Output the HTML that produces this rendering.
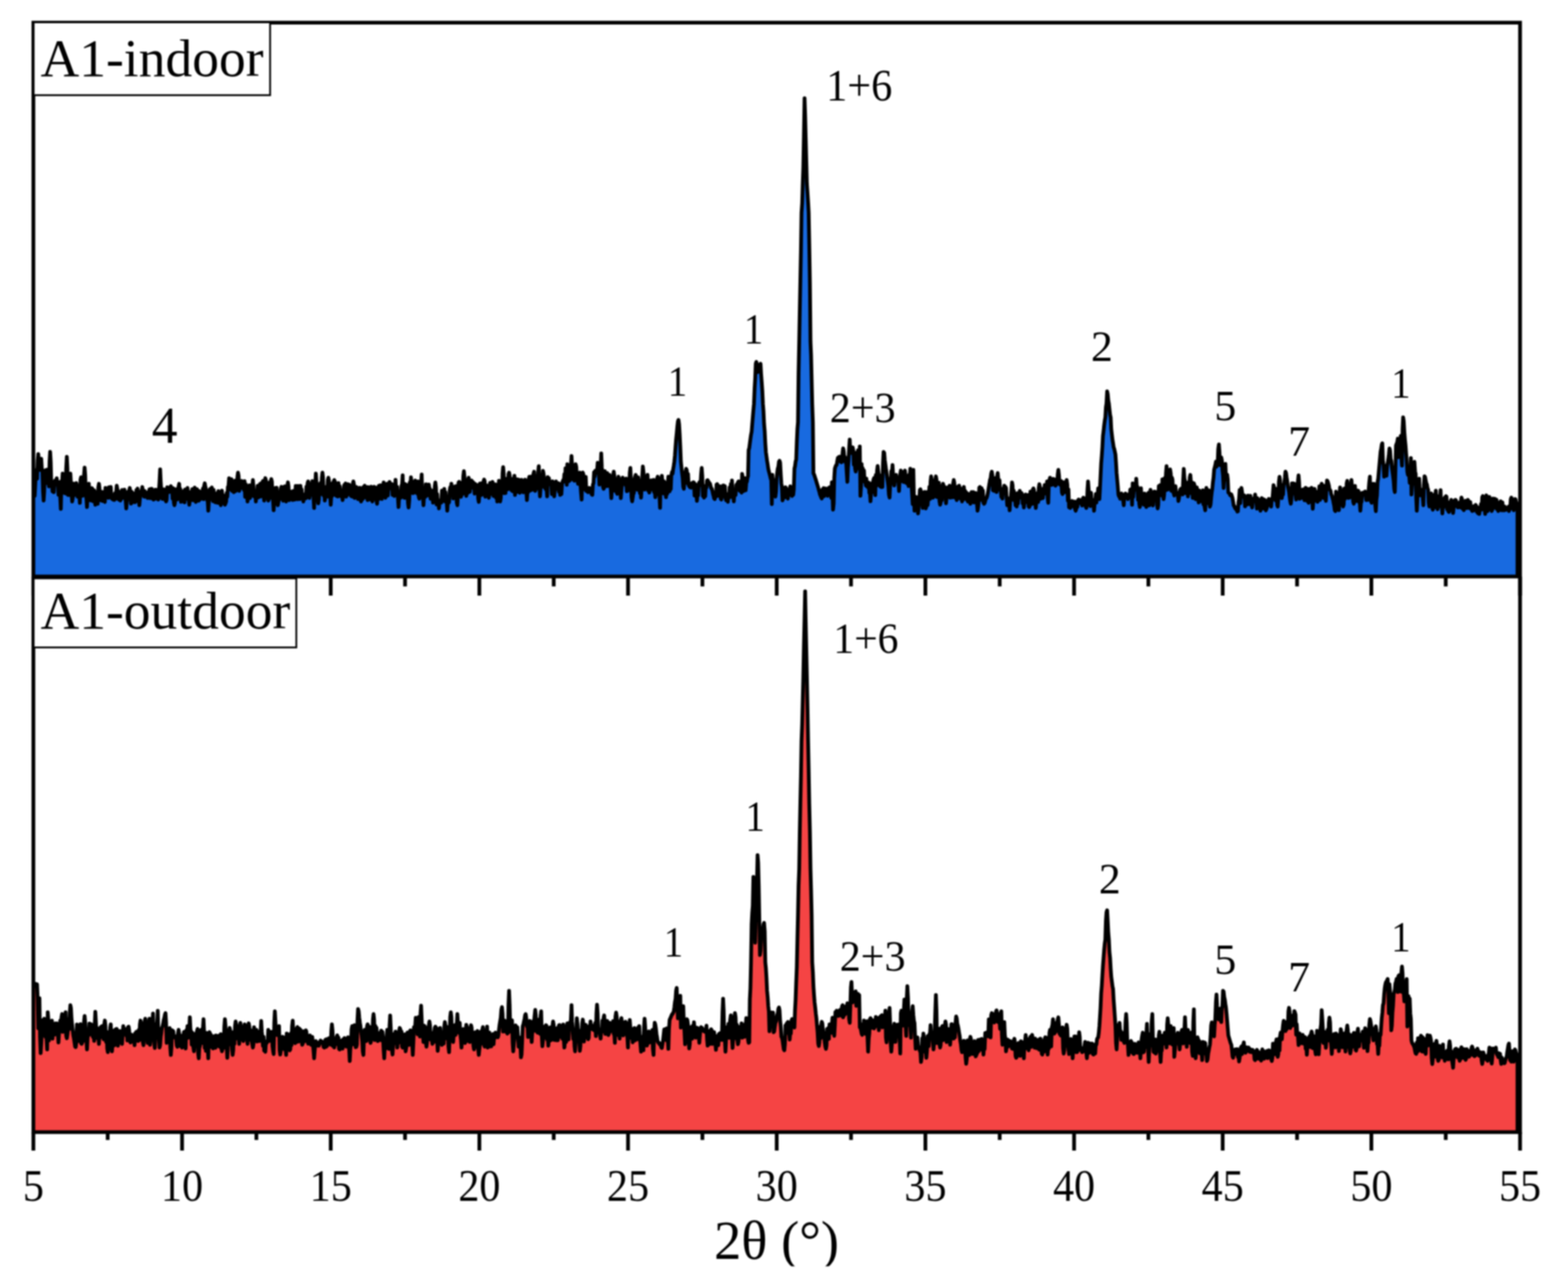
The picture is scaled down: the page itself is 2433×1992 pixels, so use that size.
<!DOCTYPE html><html><head><meta charset="utf-8"><title>XRD A1 indoor / outdoor</title>
<style>html,body{margin:0;padding:0;background:#fff}svg{display:block;filter:blur(1.3px)}text{font-family:"Liberation Serif",serif;fill:#000}</style></head><body>
<svg width="2433" height="1992" viewBox="0 0 2433 1992">
<rect width="2433" height="1992" fill="#fff"/>
<path d="M51.8 1756.4L52.0 1528.6L52.9 1530.2L53.8 1526.4L54.8 1526.2L55.7 1528.9L56.6 1527.6L57.5 1527.1L58.5 1550.5L59.4 1595.1L60.3 1563.0L61.2 1548.7L62.1 1609.4L63.1 1633.9L64.0 1618.5L64.9 1601.4L65.8 1582.9L66.8 1602.8L67.7 1583.8L68.6 1580.4L69.5 1584.8L70.4 1608.5L71.4 1591.4L72.3 1612.7L73.2 1628.1L74.1 1570.3L75.1 1582.6L76.0 1614.1L76.9 1590.8L77.8 1610.6L78.7 1589.0L79.7 1595.5L80.6 1583.3L81.5 1611.3L82.4 1598.3L83.4 1603.6L84.3 1599.1L85.2 1605.1L86.1 1587.6L87.1 1593.7L88.0 1587.6L88.9 1600.6L89.8 1604.1L90.7 1617.3L91.7 1601.5L92.6 1598.3L93.5 1583.4L94.4 1598.1L95.4 1578.4L96.3 1573.2L97.2 1600.8L98.1 1599.2L99.0 1597.9L100.0 1600.4L100.9 1583.0L101.8 1570.3L102.7 1606.8L103.7 1610.8L104.6 1605.0L105.5 1597.2L106.4 1580.8L107.3 1596.6L108.3 1570.5L109.2 1559.5L110.1 1564.0L111.0 1580.6L112.0 1591.2L112.9 1598.6L113.8 1606.4L114.7 1610.9L115.6 1617.2L116.6 1623.9L117.5 1624.5L118.4 1617.3L119.3 1589.3L120.3 1609.8L121.2 1594.0L122.1 1615.0L123.0 1591.2L123.9 1609.0L124.9 1589.0L125.8 1618.6L126.7 1619.5L127.6 1617.3L128.6 1614.2L129.5 1614.5L130.4 1585.5L131.3 1576.1L132.2 1586.2L133.2 1612.9L134.1 1613.8L135.0 1628.1L135.9 1610.8L136.9 1603.6L137.8 1605.9L138.7 1587.9L139.6 1591.4L140.6 1591.9L141.5 1589.0L142.4 1605.3L143.3 1603.6L144.2 1609.1L145.2 1597.4L146.1 1614.8L147.0 1589.5L147.9 1569.6L148.9 1587.9L149.8 1608.9L150.7 1594.9L151.6 1611.0L152.5 1607.1L153.5 1619.5L154.4 1604.9L155.3 1603.6L156.2 1593.3L157.2 1599.3L158.1 1591.9L159.0 1609.3L159.9 1605.9L160.8 1612.3L161.8 1589.1L162.7 1583.3L163.6 1591.1L164.5 1616.2L165.5 1600.6L166.4 1626.7L167.3 1632.4L168.2 1627.1L169.1 1602.2L170.1 1620.4L171.0 1594.5L171.9 1589.1L172.8 1616.5L173.8 1631.0L174.7 1617.7L175.6 1618.2L176.5 1599.0L177.4 1621.9L178.4 1607.0L179.3 1597.0L180.2 1598.8L181.1 1596.2L182.1 1611.2L183.0 1622.3L183.9 1611.2L184.8 1615.4L185.7 1599.3L186.7 1617.3L187.6 1599.8L188.5 1617.9L189.4 1619.5L190.4 1602.7L191.3 1591.9L192.2 1602.1L193.1 1597.4L194.0 1596.3L195.0 1602.9L195.9 1606.5L196.8 1601.6L197.7 1614.2L198.7 1593.4L199.6 1592.7L200.5 1599.1L201.4 1615.2L202.4 1617.3L203.3 1616.8L204.2 1605.2L205.1 1611.9L206.0 1609.2L207.0 1611.6L207.9 1611.5L208.8 1621.6L209.7 1603.1L210.7 1608.8L211.6 1600.6L212.5 1607.8L213.4 1605.8L214.3 1615.0L215.3 1597.8L216.2 1613.7L217.1 1589.1L218.0 1583.3L219.0 1587.6L219.9 1611.0L220.8 1594.1L221.7 1616.4L222.6 1621.6L223.6 1607.4L224.5 1584.9L225.4 1580.4L226.3 1584.7L227.3 1607.3L228.2 1606.4L229.1 1618.0L230.0 1589.5L230.9 1609.7L231.9 1580.4L232.8 1620.9L233.7 1607.1L234.6 1609.7L235.6 1609.2L236.5 1588.1L237.4 1572.5L238.3 1608.4L239.2 1617.5L240.2 1625.9L241.1 1609.1L242.0 1606.4L242.9 1590.5L243.9 1585.3L244.8 1568.2L245.7 1606.4L246.6 1609.8L247.5 1625.2L248.5 1621.4L249.4 1608.5L250.3 1602.5L251.2 1594.8L252.2 1592.0L253.1 1588.2L254.0 1582.6L254.9 1579.7L255.9 1574.2L256.8 1571.8L257.7 1585.9L258.6 1617.9L259.5 1599.7L260.5 1610.5L261.4 1603.6L262.3 1601.1L263.2 1594.8L264.2 1624.7L265.1 1636.7L266.0 1625.1L266.9 1598.1L267.8 1609.1L268.8 1599.6L269.7 1609.3L270.6 1609.2L271.5 1609.7L272.5 1608.0L273.4 1612.3L274.3 1622.0L275.2 1624.0L276.1 1603.7L277.1 1597.7L278.0 1603.6L278.9 1621.7L279.8 1608.8L280.8 1623.6L281.7 1622.0L282.6 1625.2L283.5 1606.2L284.4 1609.2L285.4 1600.8L286.3 1617.9L287.2 1616.4L288.1 1626.7L289.1 1598.3L290.0 1603.5L290.9 1591.9L291.8 1610.2L292.7 1603.6L293.7 1595.9L294.6 1578.2L295.5 1596.8L296.4 1600.4L297.4 1620.7L298.3 1602.0L299.2 1619.1L300.1 1625.1L301.0 1631.0L302.0 1618.8L302.9 1616.6L303.8 1603.3L304.7 1607.3L305.7 1599.3L306.6 1596.3L307.5 1634.2L308.4 1641.8L309.3 1625.9L310.3 1622.6L311.2 1601.0L312.1 1597.7L313.0 1613.8L314.0 1618.0L314.9 1595.4L315.8 1581.1L316.7 1601.2L317.7 1625.8L318.6 1611.8L319.5 1630.4L320.4 1602.3L321.3 1623.2L322.3 1625.6L323.2 1641.8L324.1 1602.6L325.0 1601.3L326.0 1603.5L326.9 1624.1L327.8 1605.8L328.7 1623.8L329.6 1618.7L330.6 1626.7L331.5 1619.3L332.4 1623.0L333.3 1607.1L334.3 1625.5L335.2 1606.3L336.1 1615.0L337.0 1609.2L337.9 1616.5L338.9 1623.0L339.8 1606.7L340.7 1609.3L341.6 1624.3L342.6 1604.5L343.5 1626.0L344.4 1631.0L345.3 1627.8L346.2 1607.7L347.2 1625.7L348.1 1592.4L349.0 1581.1L349.9 1591.8L350.9 1623.4L351.8 1623.8L352.7 1641.1L353.6 1622.8L354.5 1621.0L355.5 1598.2L356.4 1594.8L357.3 1598.9L358.2 1617.6L359.2 1601.7L360.1 1628.1L361.0 1636.7L361.9 1629.7L362.8 1601.0L363.8 1619.3L364.7 1592.2L365.6 1584.7L366.5 1589.9L367.5 1610.8L368.4 1593.3L369.3 1611.5L370.2 1607.4L371.2 1619.5L372.1 1591.2L373.0 1586.9L373.9 1598.3L374.8 1612.6L375.8 1593.0L376.7 1612.9L377.6 1615.1L378.5 1598.7L379.5 1589.1L380.4 1600.0L381.3 1596.4L382.2 1609.6L383.1 1609.3L384.1 1619.5L385.0 1590.0L385.9 1587.6L386.8 1592.0L387.8 1613.1L388.7 1598.0L389.6 1613.9L390.5 1614.1L391.4 1619.7L392.4 1625.2L393.3 1620.1L394.2 1593.7L395.1 1608.2L396.1 1606.3L397.0 1608.0L397.9 1597.6L398.8 1615.9L399.7 1600.1L400.7 1612.7L401.6 1607.5L402.5 1615.1L403.4 1609.7L404.4 1600.8L405.3 1584.0L406.2 1600.4L407.1 1610.1L408.0 1622.6L409.0 1608.4L409.9 1630.0L410.8 1629.4L411.7 1631.7L412.7 1615.8L413.6 1618.6L414.5 1616.7L415.4 1616.1L416.3 1597.6L417.3 1611.3L418.2 1609.2L419.1 1614.7L420.0 1600.9L421.0 1604.6L421.9 1600.9L422.8 1622.8L423.7 1629.7L424.6 1635.3L425.6 1586.4L426.5 1568.9L427.4 1584.7L428.3 1604.9L429.3 1605.5L430.2 1603.6L431.1 1605.2L432.0 1606.8L433.0 1591.9L433.9 1629.7L434.8 1636.0L435.7 1630.4L436.6 1610.4L437.6 1625.6L438.5 1608.4L439.4 1609.2L440.3 1609.5L441.3 1627.9L442.2 1612.7L443.1 1628.1L444.0 1636.7L444.9 1603.5L445.9 1604.2L446.8 1625.5L447.7 1609.3L448.6 1627.2L449.6 1629.5L450.5 1627.7L451.4 1603.1L452.3 1621.5L453.2 1592.1L454.2 1583.3L455.1 1600.2L456.0 1609.3L456.9 1615.1L457.9 1618.4L458.8 1597.8L459.7 1616.9L460.6 1594.9L461.5 1593.4L462.5 1595.3L463.4 1615.8L464.3 1595.6L465.2 1613.4L466.2 1597.5L467.1 1612.8L468.0 1611.8L468.9 1620.9L469.8 1619.1L470.8 1600.0L471.7 1601.7L472.6 1615.5L473.5 1600.5L474.5 1598.4L475.4 1600.2L476.3 1615.1L477.2 1612.3L478.1 1619.1L479.1 1617.9L480.0 1612.3L480.9 1606.3L481.8 1619.9L482.8 1620.9L483.7 1619.5L484.6 1608.7L485.5 1618.9L486.5 1630.0L487.4 1641.8L488.3 1629.6L489.2 1620.5L490.1 1615.2L491.1 1619.3L492.0 1617.9L492.9 1622.2L493.8 1619.6L494.8 1622.3L495.7 1616.8L496.6 1618.8L497.5 1614.3L498.4 1618.0L499.4 1615.6L500.3 1617.1L501.2 1616.8L502.1 1624.3L503.1 1625.2L504.0 1623.8L504.9 1613.2L505.8 1624.2L506.7 1612.2L507.7 1622.6L508.6 1614.5L509.5 1616.1L510.4 1610.7L511.4 1616.3L512.3 1611.5L513.2 1620.8L514.1 1599.0L515.0 1589.1L516.0 1599.1L516.9 1623.2L517.8 1618.7L518.7 1625.2L519.7 1617.9L520.6 1620.6L521.5 1611.5L522.4 1608.5L523.3 1606.3L524.3 1615.5L525.2 1609.5L526.1 1627.4L527.0 1628.1L528.0 1625.8L528.9 1625.5L529.8 1626.4L530.7 1613.9L531.6 1626.9L532.6 1612.5L533.5 1619.3L534.4 1610.5L535.3 1611.1L536.3 1613.0L537.2 1623.5L538.1 1612.1L539.0 1616.3L539.9 1609.2L540.9 1624.6L541.8 1628.4L542.7 1646.1L543.6 1628.2L544.6 1620.2L545.5 1596.9L546.4 1591.9L547.3 1602.7L548.3 1620.0L549.2 1609.4L550.1 1590.5L551.0 1597.8L551.9 1624.6L552.9 1624.2L553.8 1620.4L554.7 1582.8L555.6 1565.3L556.6 1569.0L557.5 1579.1L558.4 1586.4L559.3 1591.8L560.2 1600.7L561.2 1607.6L562.1 1615.6L563.0 1631.6L563.9 1636.7L564.9 1604.4L565.8 1597.7L566.7 1611.2L567.6 1607.0L568.5 1615.1L569.5 1592.5L570.4 1589.1L571.3 1591.9L572.2 1595.4L573.2 1593.0L574.1 1614.1L575.0 1618.0L575.9 1613.8L576.8 1594.8L577.8 1609.2L578.7 1581.5L579.6 1573.2L580.5 1581.4L581.5 1613.5L582.4 1591.7L583.3 1612.6L584.2 1594.5L585.1 1612.7L586.1 1615.1L587.0 1614.4L587.9 1609.1L588.8 1603.5L589.8 1602.0L590.7 1613.4L591.6 1598.8L592.5 1614.0L593.4 1600.6L594.4 1610.9L595.3 1629.0L596.2 1641.8L597.1 1623.0L598.1 1627.1L599.0 1625.8L599.9 1610.3L600.8 1597.7L601.8 1617.4L602.7 1609.4L603.6 1627.3L604.5 1590.8L605.4 1575.4L606.4 1597.0L607.3 1625.1L608.2 1629.6L609.1 1636.0L610.1 1619.6L611.0 1619.2L611.9 1604.0L612.8 1615.0L613.7 1600.4L614.7 1616.0L615.6 1614.7L616.5 1625.2L617.4 1615.4L618.4 1617.5L619.3 1599.3L620.2 1594.8L621.1 1596.6L622.0 1617.7L623.0 1600.5L623.9 1623.7L624.8 1625.2L625.7 1623.4L626.7 1605.5L627.6 1604.9L628.5 1618.9L629.4 1631.0L630.3 1625.5L631.3 1618.7L632.2 1601.8L633.1 1619.3L634.0 1603.3L635.0 1621.0L635.9 1600.0L636.8 1598.4L637.7 1598.7L638.6 1612.1L639.6 1619.3L640.5 1636.7L641.4 1617.5L642.3 1593.7L643.3 1595.5L644.2 1591.8L645.1 1579.0L646.0 1592.1L646.9 1591.4L647.9 1604.6L648.8 1590.4L649.7 1577.7L650.6 1588.3L651.6 1608.0L652.5 1572.0L653.4 1560.2L654.3 1580.9L655.2 1608.5L656.2 1603.7L657.1 1616.6L658.0 1591.2L658.9 1591.8L659.9 1594.8L660.8 1616.9L661.7 1623.8L662.6 1617.0L663.6 1594.2L664.5 1612.3L665.4 1590.9L666.3 1584.7L667.2 1590.5L668.2 1612.9L669.1 1602.2L670.0 1611.0L670.9 1619.5L671.9 1617.5L672.8 1602.3L673.7 1601.8L674.6 1594.6L675.5 1592.7L676.5 1594.2L677.4 1617.0L678.3 1614.6L679.2 1630.3L680.2 1615.4L681.1 1616.2L682.0 1595.3L682.9 1594.8L683.8 1604.2L684.8 1605.7L685.7 1621.0L686.6 1616.6L687.5 1608.5L688.5 1619.2L689.4 1592.1L690.3 1585.5L691.2 1591.0L692.1 1607.7L693.1 1592.8L694.0 1611.7L694.9 1593.7L695.8 1623.1L696.8 1632.4L697.7 1605.6L698.6 1577.5L699.5 1570.3L700.4 1577.6L701.4 1604.8L702.3 1604.3L703.2 1616.6L704.1 1604.5L705.1 1605.3L706.0 1590.4L706.9 1605.6L707.8 1589.2L708.7 1590.1L709.7 1573.2L710.6 1587.9L711.5 1588.5L712.4 1602.2L713.4 1586.9L714.3 1604.8L715.2 1612.4L716.1 1625.2L717.1 1610.6L718.0 1610.4L718.9 1596.4L719.8 1615.2L720.7 1615.7L721.7 1618.1L722.6 1601.1L723.5 1589.8L724.4 1593.0L725.4 1614.8L726.3 1607.9L727.2 1615.1L728.1 1609.2L729.0 1616.6L730.0 1595.0L730.9 1590.5L731.8 1594.2L732.7 1616.0L733.7 1602.7L734.6 1622.5L735.5 1628.1L736.4 1624.5L737.3 1601.4L738.3 1622.1L739.2 1601.4L740.1 1603.5L741.0 1599.5L742.0 1627.8L742.9 1636.7L743.8 1628.1L744.7 1620.9L745.6 1620.0L746.6 1600.1L747.5 1616.9L748.4 1597.3L749.3 1593.4L750.3 1599.4L751.2 1621.1L752.1 1623.8L753.0 1612.5L753.9 1599.3L754.9 1617.4L755.8 1592.7L756.7 1625.2L757.6 1613.0L758.6 1617.3L759.5 1602.0L760.4 1623.6L761.3 1623.3L762.2 1623.4L763.2 1607.8L764.1 1607.8L765.0 1604.2L765.9 1620.0L766.9 1604.4L767.8 1610.3L768.7 1602.0L769.6 1602.6L770.5 1604.7L771.5 1606.4L772.4 1609.3L773.3 1606.6L774.2 1598.0L775.2 1589.7L776.1 1584.1L777.0 1578.9L777.9 1566.7L778.9 1562.4L779.8 1572.8L780.7 1600.4L781.6 1582.7L782.5 1584.5L783.5 1583.7L784.4 1600.4L785.3 1600.7L786.2 1600.6L787.2 1603.5L788.1 1602.6L789.0 1558.7L789.9 1537.2L790.8 1559.1L791.8 1600.4L792.7 1582.4L793.6 1587.2L794.5 1582.8L795.5 1618.5L796.4 1631.0L797.3 1618.2L798.2 1610.2L799.1 1594.6L800.1 1590.7L801.0 1602.0L801.9 1594.0L802.8 1593.7L803.8 1610.1L804.7 1623.8L805.6 1609.3L806.5 1610.3L807.4 1618.2L808.4 1640.3L809.3 1636.0L810.2 1615.9L811.1 1592.0L812.1 1589.3L813.0 1584.9L813.9 1580.8L814.8 1574.9L815.7 1573.2L816.7 1580.4L817.6 1592.2L818.5 1587.2L819.4 1608.9L820.4 1585.9L821.3 1598.9L822.2 1583.9L823.1 1602.8L824.0 1602.7L825.0 1616.6L825.9 1601.6L826.8 1600.4L827.7 1584.4L828.7 1584.6L829.6 1575.4L830.5 1566.7L831.4 1575.1L832.4 1600.1L833.3 1593.6L834.2 1602.2L835.1 1593.5L836.0 1601.5L837.0 1581.4L837.9 1603.8L838.8 1576.3L839.7 1568.9L840.7 1606.6L841.6 1623.1L842.5 1614.7L843.4 1606.6L844.3 1592.8L845.3 1609.4L846.2 1592.9L847.1 1590.5L848.0 1591.5L849.0 1612.6L849.9 1609.5L850.8 1622.3L851.7 1611.2L852.6 1610.2L853.6 1593.9L854.5 1614.1L855.4 1612.5L856.3 1612.7L857.3 1591.4L858.2 1584.7L859.1 1589.8L860.0 1613.4L860.9 1606.4L861.9 1613.7L862.8 1606.0L863.7 1613.8L864.6 1594.9L865.6 1613.9L866.5 1594.4L867.4 1590.5L868.3 1590.2L869.2 1608.7L870.2 1594.1L871.1 1606.4L872.0 1591.3L872.9 1611.9L873.9 1589.4L874.8 1611.2L875.7 1625.2L876.6 1616.8L877.5 1597.8L878.5 1616.5L879.4 1593.3L880.3 1587.6L881.2 1591.8L882.2 1612.5L883.1 1591.9L884.0 1586.3L884.9 1592.4L885.8 1582.6L886.8 1559.5L887.7 1584.9L888.6 1598.4L889.5 1611.9L890.5 1599.0L891.4 1622.9L892.3 1631.0L893.2 1615.1L894.2 1594.7L895.1 1579.7L896.0 1588.1L896.9 1598.0L897.8 1598.6L898.8 1615.7L899.7 1630.3L900.6 1622.8L901.5 1599.0L902.5 1613.2L903.4 1587.6L904.3 1581.8L905.2 1588.8L906.1 1615.8L907.1 1592.6L908.0 1605.6L908.9 1590.0L909.8 1608.6L910.8 1606.4L911.7 1609.9L912.6 1612.3L913.5 1610.3L914.4 1591.9L915.4 1595.5L916.3 1584.7L917.2 1594.1L918.1 1590.6L919.1 1596.8L920.0 1591.9L920.9 1593.6L921.8 1598.4L922.7 1593.7L923.7 1587.0L924.6 1607.4L925.5 1572.1L926.4 1558.7L927.4 1572.6L928.3 1601.9L929.2 1601.2L930.1 1597.1L931.0 1605.4L932.0 1611.4L932.9 1598.9L933.8 1599.5L934.7 1583.3L935.7 1600.2L936.6 1579.0L937.5 1575.2L938.4 1588.3L939.3 1604.2L940.3 1587.1L941.2 1602.2L942.1 1583.9L943.0 1604.6L944.0 1605.6L944.9 1603.6L945.8 1586.6L946.7 1600.6L947.7 1587.4L948.6 1594.9L949.5 1589.6L950.4 1596.0L951.3 1584.2L952.3 1604.1L953.2 1604.5L954.1 1617.9L955.0 1577.2L956.0 1570.9L956.9 1576.9L957.8 1602.7L958.7 1584.8L959.6 1606.3L960.6 1602.2L961.5 1611.4L962.4 1586.9L963.3 1582.7L964.3 1579.5L965.2 1591.3L966.1 1586.8L967.0 1606.3L967.9 1599.9L968.9 1603.5L969.8 1585.6L970.7 1585.3L971.6 1586.7L972.6 1604.4L973.5 1609.6L974.4 1625.1L975.3 1591.9L976.2 1595.3L977.2 1582.4L978.1 1594.4L979.0 1595.2L979.9 1610.5L980.9 1606.2L981.8 1617.1L982.7 1607.7L983.6 1612.8L984.5 1595.0L985.5 1614.1L986.4 1597.1L987.3 1605.5L988.2 1596.4L989.2 1612.4L990.1 1594.1L991.0 1609.7L991.9 1591.8L992.8 1609.8L993.8 1621.0L994.7 1631.5L995.6 1620.8L996.5 1617.9L997.5 1608.0L998.4 1629.3L999.3 1594.6L1000.2 1580.3L1001.1 1593.3L1002.1 1618.4L1003.0 1612.1L1003.9 1622.2L1004.8 1612.7L1005.8 1616.1L1006.7 1600.2L1007.6 1617.6L1008.5 1601.1L1009.5 1615.5L1010.4 1602.0L1011.3 1613.1L1012.2 1598.0L1013.1 1627.1L1014.1 1636.6L1015.0 1600.7L1015.9 1586.7L1016.8 1589.4L1017.8 1596.2L1018.7 1604.4L1019.6 1609.6L1020.5 1615.6L1021.4 1617.6L1022.4 1617.5L1023.3 1619.9L1024.2 1619.1L1025.1 1620.7L1026.1 1625.0L1027.0 1625.8L1027.9 1619.9L1028.8 1614.6L1029.7 1606.3L1030.7 1596.8L1031.6 1605.8L1032.5 1600.0L1033.4 1613.2L1034.4 1595.5L1035.3 1614.7L1036.2 1613.7L1037.1 1627.2L1038.0 1596.8L1039.0 1582.4L1039.9 1580.2L1040.8 1578.3L1041.7 1575.9L1042.7 1573.7L1043.6 1573.3L1044.5 1571.0L1045.4 1569.5L1046.3 1563.1L1047.3 1554.5L1048.2 1550.1L1049.1 1536.9L1050.0 1532.7L1051.0 1560.3L1051.9 1579.8L1052.8 1562.4L1053.7 1578.8L1054.6 1563.7L1055.6 1545.0L1056.5 1594.1L1057.4 1580.7L1058.3 1564.1L1059.3 1573.9L1060.2 1560.8L1061.1 1588.1L1062.0 1598.8L1063.0 1620.0L1063.9 1602.7L1064.8 1600.2L1065.7 1581.2L1066.6 1582.4L1067.6 1589.9L1068.5 1610.8L1069.4 1626.5L1070.3 1620.0L1071.3 1593.6L1072.2 1608.7L1073.1 1594.3L1074.0 1611.3L1074.9 1591.3L1075.9 1597.6L1076.8 1586.0L1077.7 1597.6L1078.6 1595.9L1079.6 1609.8L1080.5 1594.1L1081.4 1597.0L1082.3 1594.8L1083.2 1597.8L1084.2 1606.1L1085.1 1617.9L1086.0 1606.2L1086.9 1597.7L1087.9 1593.5L1088.8 1596.8L1089.7 1594.9L1090.6 1598.5L1091.5 1599.3L1092.5 1599.9L1093.4 1600.4L1094.3 1600.1L1095.2 1601.5L1096.2 1591.1L1097.1 1611.9L1098.0 1622.2L1098.9 1620.8L1099.8 1617.5L1100.8 1599.6L1101.7 1619.5L1102.6 1598.8L1103.5 1596.8L1104.5 1599.0L1105.4 1619.6L1106.3 1617.4L1107.2 1603.7L1108.1 1601.2L1109.1 1615.9L1110.0 1618.8L1110.9 1628.7L1111.8 1616.4L1112.8 1620.1L1113.7 1606.9L1114.6 1621.5L1115.5 1604.2L1116.4 1610.9L1117.4 1602.6L1118.3 1611.9L1119.2 1613.3L1120.1 1613.4L1121.1 1569.6L1122.0 1549.3L1122.9 1568.2L1123.8 1612.1L1124.8 1613.4L1125.7 1631.5L1126.6 1613.3L1127.5 1594.6L1128.4 1593.3L1129.4 1605.5L1130.3 1588.4L1131.2 1610.2L1132.1 1591.1L1133.1 1581.3L1134.0 1575.2L1134.9 1591.3L1135.8 1610.1L1136.7 1625.8L1137.7 1609.5L1138.6 1611.6L1139.5 1580.3L1140.4 1571.6L1141.4 1578.3L1142.3 1605.2L1143.2 1589.7L1144.1 1613.4L1145.0 1620.0L1146.0 1615.9L1146.9 1593.2L1147.8 1602.9L1148.7 1596.8L1149.7 1601.6L1150.6 1587.6L1151.5 1609.8L1152.4 1590.1L1153.3 1605.6L1154.3 1599.1L1155.2 1608.5L1156.1 1588.9L1157.0 1591.2L1158.0 1579.5L1158.9 1592.1L1159.8 1592.5L1160.7 1613.0L1161.6 1617.9L1162.6 1617.1L1163.5 1550.8L1164.4 1532.8L1165.3 1493.2L1166.3 1434.0L1167.2 1416.5L1168.1 1405.2L1169.0 1360.5L1169.9 1418.4L1170.9 1379.4L1171.8 1462.4L1172.7 1410.5L1173.6 1427.9L1174.6 1366.4L1175.5 1326.6L1176.4 1338.3L1177.3 1374.5L1178.3 1434.0L1179.2 1481.6L1180.1 1475.5L1181.0 1458.1L1181.9 1448.4L1182.9 1442.5L1183.8 1441.3L1184.7 1434.0L1185.6 1431.8L1186.6 1445.0L1187.5 1493.2L1188.4 1501.9L1189.3 1516.6L1190.2 1536.4L1191.2 1547.2L1192.1 1561.0L1193.0 1569.5L1193.9 1599.9L1194.9 1588.1L1195.8 1592.4L1196.7 1570.7L1197.6 1589.7L1198.5 1574.6L1199.5 1570.9L1200.4 1601.3L1201.3 1600.3L1202.2 1593.0L1203.2 1586.5L1204.1 1584.9L1205.0 1579.6L1205.9 1574.7L1206.8 1572.2L1207.8 1565.0L1208.7 1563.0L1209.6 1567.4L1210.5 1583.4L1211.5 1592.6L1212.4 1608.4L1213.3 1609.7L1214.2 1613.9L1215.1 1620.6L1216.1 1627.6L1217.0 1629.4L1217.9 1619.7L1218.8 1590.9L1219.8 1602.7L1220.7 1587.8L1221.6 1593.7L1222.5 1585.3L1223.4 1603.0L1224.4 1600.9L1225.3 1612.8L1226.2 1601.6L1227.1 1603.7L1228.1 1583.5L1229.0 1581.0L1229.9 1582.5L1230.8 1588.2L1231.7 1592.3L1232.7 1594.0L1233.6 1567.4L1234.5 1550.8L1235.4 1525.3L1236.4 1500.0L1237.3 1457.9L1238.2 1419.6L1239.1 1373.9L1240.1 1347.6L1241.0 1290.0L1241.9 1245.3L1242.8 1203.3L1243.7 1150.0L1244.7 1122.9L1245.6 1086.2L1246.5 1050.0L1247.4 1003.8L1248.4 959.5L1249.3 917.5L1250.2 965.1L1251.1 1008.0L1252.0 1050.0L1253.0 1098.6L1253.9 1150.0L1254.8 1195.0L1255.7 1247.0L1256.7 1290.0L1257.6 1347.6L1258.5 1380.7L1259.4 1419.6L1260.3 1493.0L1261.3 1508.2L1262.2 1530.0L1263.1 1543.6L1264.0 1555.1L1265.0 1563.6L1265.9 1572.5L1266.8 1579.7L1267.7 1591.3L1268.6 1601.0L1269.6 1619.1L1270.5 1622.9L1271.4 1617.6L1272.3 1593.2L1273.3 1610.9L1274.2 1590.5L1275.1 1585.3L1276.0 1587.7L1276.9 1597.2L1277.9 1603.5L1278.8 1608.4L1279.7 1616.9L1280.6 1623.7L1281.6 1627.2L1282.5 1621.9L1283.4 1596.5L1284.3 1612.5L1285.2 1595.0L1286.2 1611.7L1287.1 1589.2L1288.0 1592.5L1288.9 1590.4L1289.9 1602.4L1290.8 1589.1L1291.7 1578.8L1292.6 1581.1L1293.6 1601.9L1294.5 1607.1L1295.4 1590.4L1296.3 1570.2L1297.2 1571.6L1298.2 1568.0L1299.1 1571.8L1300.0 1570.7L1300.9 1576.2L1301.9 1568.0L1302.8 1571.1L1303.7 1566.8L1304.6 1574.0L1305.5 1575.7L1306.5 1561.4L1307.4 1559.4L1308.3 1578.3L1309.2 1571.9L1310.2 1575.0L1311.1 1562.3L1312.0 1572.9L1312.9 1560.8L1313.8 1564.6L1314.8 1556.5L1315.7 1563.7L1316.6 1560.3L1317.5 1580.5L1318.5 1586.9L1319.4 1563.2L1320.3 1532.0L1321.2 1523.4L1322.1 1545.1L1323.1 1555.0L1324.0 1548.0L1324.9 1553.6L1325.8 1539.3L1326.8 1545.4L1327.7 1537.8L1328.6 1560.5L1329.5 1552.2L1330.4 1556.7L1331.4 1541.8L1332.3 1548.4L1333.2 1543.5L1334.1 1594.0L1335.1 1594.3L1336.0 1598.4L1336.9 1603.6L1337.8 1605.6L1338.7 1588.9L1339.7 1603.0L1340.6 1583.2L1341.5 1595.4L1342.4 1597.2L1343.4 1604.0L1344.3 1585.1L1345.2 1584.4L1346.1 1610.5L1347.0 1631.5L1348.0 1611.1L1348.9 1603.2L1349.8 1581.3L1350.7 1579.5L1351.7 1581.3L1352.6 1594.6L1353.5 1582.9L1354.4 1582.8L1355.4 1584.1L1356.3 1595.5L1357.2 1591.2L1358.1 1592.7L1359.0 1577.7L1360.0 1587.2L1360.9 1579.2L1361.8 1588.5L1362.7 1589.4L1363.7 1598.4L1364.6 1578.7L1365.5 1581.9L1366.4 1576.7L1367.3 1583.6L1368.3 1575.0L1369.2 1593.9L1370.1 1576.8L1371.0 1589.1L1372.0 1577.0L1372.9 1580.6L1373.8 1568.0L1374.7 1609.8L1375.6 1617.1L1376.6 1608.9L1377.5 1586.1L1378.4 1600.0L1379.3 1572.7L1380.3 1563.7L1381.2 1588.5L1382.1 1619.4L1383.0 1631.5L1383.9 1619.9L1384.9 1595.6L1385.8 1616.6L1386.7 1593.2L1387.6 1588.2L1388.6 1615.9L1389.5 1616.3L1390.4 1605.6L1391.3 1596.3L1392.2 1589.6L1393.2 1596.4L1394.1 1589.5L1395.0 1602.7L1395.9 1610.8L1396.9 1634.4L1397.8 1571.9L1398.7 1568.0L1399.6 1577.0L1400.5 1591.4L1401.5 1576.8L1402.4 1569.7L1403.3 1550.7L1404.2 1586.3L1405.2 1591.9L1406.1 1607.1L1407.0 1548.9L1407.9 1529.9L1408.9 1548.3L1409.8 1590.2L1410.7 1571.5L1411.6 1589.0L1412.5 1593.2L1413.5 1609.9L1414.4 1576.4L1415.3 1568.0L1416.2 1560.8L1417.2 1574.8L1418.1 1583.8L1419.0 1587.1L1419.9 1607.6L1420.8 1627.2L1421.8 1617.6L1422.7 1624.7L1423.6 1609.5L1424.5 1621.7L1425.5 1625.6L1426.4 1627.6L1427.3 1630.5L1428.2 1632.2L1429.1 1647.5L1430.1 1639.9L1431.0 1611.0L1431.9 1614.7L1432.8 1603.5L1433.8 1614.6L1434.7 1611.2L1435.6 1632.0L1436.5 1629.6L1437.4 1641.1L1438.4 1629.7L1439.3 1607.4L1440.2 1609.0L1441.1 1623.2L1442.1 1604.5L1443.0 1604.5L1443.9 1590.5L1444.8 1604.1L1445.7 1602.0L1446.7 1601.9L1447.6 1616.3L1448.5 1628.1L1449.4 1616.8L1450.4 1598.6L1451.3 1569.0L1452.2 1543.7L1453.1 1568.0L1454.0 1618.2L1455.0 1600.9L1455.9 1614.3L1456.8 1595.8L1457.7 1619.7L1458.7 1625.2L1459.6 1621.2L1460.5 1596.5L1461.4 1593.5L1462.3 1591.9L1463.3 1613.8L1464.2 1598.2L1465.1 1603.6L1466.0 1591.8L1467.0 1584.7L1467.9 1589.6L1468.8 1616.6L1469.7 1599.0L1470.7 1596.3L1471.6 1596.4L1472.5 1604.7L1473.4 1606.9L1474.3 1620.9L1475.3 1606.6L1476.2 1588.9L1477.1 1588.8L1478.0 1601.2L1479.0 1597.7L1479.9 1611.3L1480.8 1603.2L1481.7 1609.4L1482.6 1587.4L1483.6 1576.8L1484.5 1579.8L1485.4 1588.0L1486.3 1591.3L1487.3 1596.4L1488.2 1602.1L1489.1 1607.3L1490.0 1614.7L1490.9 1619.8L1491.9 1629.2L1492.8 1632.4L1493.7 1631.2L1494.6 1626.9L1495.6 1614.6L1496.5 1629.4L1497.4 1626.7L1498.3 1641.4L1499.2 1650.4L1500.2 1642.3L1501.1 1614.2L1502.0 1631.4L1502.9 1614.9L1503.9 1636.9L1504.8 1612.6L1505.7 1608.5L1506.6 1611.9L1507.5 1634.8L1508.5 1635.0L1509.4 1635.2L1510.3 1619.8L1511.2 1633.1L1512.2 1615.2L1513.1 1628.5L1514.0 1638.9L1514.9 1636.9L1515.8 1634.9L1516.8 1631.9L1517.7 1613.3L1518.6 1631.1L1519.5 1613.0L1520.5 1612.8L1521.4 1613.8L1522.3 1612.4L1523.2 1611.9L1524.2 1628.9L1525.1 1624.3L1526.0 1636.0L1526.9 1624.4L1527.8 1627.7L1528.8 1602.7L1529.7 1604.7L1530.6 1602.0L1531.5 1602.3L1532.5 1604.0L1533.4 1607.9L1534.3 1581.3L1535.2 1597.6L1536.1 1597.0L1537.1 1609.4L1538.0 1575.1L1538.9 1571.8L1539.8 1572.6L1540.8 1584.8L1541.7 1580.6L1542.6 1586.3L1543.5 1579.5L1544.4 1584.4L1545.4 1569.6L1546.3 1567.4L1547.2 1572.0L1548.1 1585.2L1549.1 1579.8L1550.0 1586.3L1550.9 1583.0L1551.8 1596.0L1552.7 1572.3L1553.7 1568.9L1554.6 1605.0L1555.5 1620.9L1556.4 1613.0L1557.4 1603.9L1558.3 1585.6L1559.2 1606.4L1560.1 1611.1L1561.0 1631.0L1562.0 1623.7L1562.9 1624.5L1563.8 1612.9L1564.7 1623.3L1565.7 1614.9L1566.6 1621.6L1567.5 1615.0L1568.4 1616.1L1569.3 1622.1L1570.3 1626.7L1571.2 1622.6L1572.1 1627.2L1573.0 1614.2L1574.0 1611.4L1574.9 1618.8L1575.8 1638.1L1576.7 1641.1L1577.6 1639.9L1578.6 1619.6L1579.5 1635.5L1580.4 1618.2L1581.3 1636.0L1582.3 1619.8L1583.2 1638.0L1584.1 1615.5L1585.0 1635.3L1586.0 1617.0L1586.9 1636.3L1587.8 1629.6L1588.7 1641.8L1589.6 1616.5L1590.6 1615.2L1591.5 1605.6L1592.4 1615.6L1593.3 1611.9L1594.3 1626.9L1595.2 1621.5L1596.1 1629.5L1597.0 1620.5L1597.9 1611.4L1598.9 1608.6L1599.8 1624.3L1600.7 1607.0L1601.6 1605.6L1602.6 1615.3L1603.5 1620.9L1604.4 1615.6L1605.3 1625.4L1606.2 1611.1L1607.2 1625.6L1608.1 1614.7L1609.0 1626.4L1609.9 1613.4L1610.9 1614.3L1611.8 1614.9L1612.7 1628.6L1613.6 1611.6L1614.5 1611.4L1615.5 1614.8L1616.4 1634.7L1617.3 1636.0L1618.2 1625.8L1619.2 1631.0L1620.1 1631.5L1621.0 1612.0L1621.9 1609.2L1622.8 1609.5L1623.8 1610.0L1624.7 1624.5L1625.6 1636.0L1626.5 1623.4L1627.5 1626.8L1628.4 1602.0L1629.3 1597.7L1630.2 1601.3L1631.1 1623.5L1632.1 1593.5L1633.0 1590.2L1633.9 1581.1L1634.8 1591.4L1635.8 1603.5L1636.7 1602.5L1637.6 1587.4L1638.5 1587.8L1639.5 1599.9L1640.4 1587.1L1641.3 1581.4L1642.2 1578.2L1643.1 1589.0L1644.1 1603.8L1645.0 1596.7L1645.9 1606.5L1646.8 1598.2L1647.8 1604.5L1648.7 1594.0L1649.6 1626.3L1650.5 1634.6L1651.4 1629.6L1652.4 1601.6L1653.3 1618.3L1654.2 1595.3L1655.1 1589.8L1656.1 1596.2L1657.0 1620.3L1657.9 1628.0L1658.8 1635.3L1659.7 1624.3L1660.7 1624.7L1661.6 1611.9L1662.5 1629.7L1663.4 1626.9L1664.4 1641.8L1665.3 1626.3L1666.2 1628.1L1667.1 1608.0L1668.0 1619.3L1669.0 1607.8L1669.9 1632.3L1670.8 1632.4L1671.7 1631.9L1672.7 1628.0L1673.6 1613.3L1674.5 1601.3L1675.4 1608.7L1676.3 1628.2L1677.3 1629.3L1678.2 1625.9L1679.1 1632.4L1680.0 1631.0L1681.0 1628.5L1681.9 1630.8L1682.8 1622.1L1683.7 1616.4L1684.6 1631.1L1685.6 1632.7L1686.5 1641.8L1687.4 1632.0L1688.3 1617.6L1689.3 1619.4L1690.2 1633.3L1691.1 1618.8L1692.0 1619.0L1692.9 1620.7L1693.9 1625.5L1694.8 1619.0L1695.7 1635.3L1696.6 1636.0L1697.6 1635.3L1698.5 1620.8L1699.4 1634.4L1700.3 1620.0L1701.3 1620.5L1702.2 1612.1L1703.1 1610.4L1704.0 1609.3L1704.9 1602.7L1705.9 1591.7L1706.8 1577.6L1707.7 1562.9L1708.6 1541.6L1709.6 1528.9L1710.5 1513.1L1711.4 1498.5L1712.3 1486.4L1713.2 1474.5L1714.2 1463.7L1715.1 1457.6L1716.0 1428.8L1716.9 1415.4L1717.9 1412.2L1718.8 1428.8L1719.7 1447.6L1720.6 1457.6L1721.5 1476.9L1722.5 1486.4L1723.4 1502.6L1724.3 1515.2L1725.2 1522.1L1726.2 1530.0L1727.1 1534.4L1728.0 1551.2L1728.9 1563.2L1729.8 1576.2L1730.8 1592.0L1731.7 1618.6L1732.6 1628.1L1733.5 1611.9L1734.5 1594.7L1735.4 1590.3L1736.3 1601.2L1737.2 1586.9L1738.1 1600.6L1739.1 1599.7L1740.0 1613.2L1740.9 1602.3L1741.8 1606.5L1742.8 1602.8L1743.7 1615.8L1744.6 1618.0L1745.5 1613.5L1746.4 1585.8L1747.4 1573.2L1748.3 1586.4L1749.2 1616.9L1750.1 1620.7L1751.1 1636.7L1752.0 1627.9L1752.9 1632.3L1753.8 1617.2L1754.8 1615.0L1755.7 1616.7L1756.6 1632.7L1757.5 1619.0L1758.4 1634.9L1759.4 1635.3L1760.3 1633.5L1761.2 1619.4L1762.1 1626.5L1763.1 1622.2L1764.0 1626.1L1764.9 1633.4L1765.8 1629.8L1766.7 1617.2L1767.7 1628.3L1768.6 1628.1L1769.5 1641.8L1770.4 1626.6L1771.4 1612.3L1772.3 1606.4L1773.2 1602.0L1774.1 1632.6L1775.0 1631.6L1776.0 1615.1L1776.9 1624.9L1777.8 1608.8L1778.7 1605.3L1779.7 1588.3L1780.6 1621.6L1781.5 1628.0L1782.4 1647.5L1783.3 1626.6L1784.3 1618.5L1785.2 1603.9L1786.1 1618.1L1787.0 1585.1L1788.0 1573.2L1788.9 1611.0L1789.8 1631.7L1790.7 1632.4L1791.6 1632.9L1792.6 1612.7L1793.5 1634.6L1794.4 1628.5L1795.3 1623.6L1796.3 1612.7L1797.2 1630.1L1798.1 1606.1L1799.0 1600.6L1799.9 1632.0L1800.9 1647.5L1801.8 1630.5L1802.7 1630.0L1803.6 1606.6L1804.6 1615.7L1805.5 1609.2L1806.4 1613.0L1807.3 1602.1L1808.2 1619.5L1809.2 1614.6L1810.1 1625.2L1811.0 1589.5L1811.9 1579.7L1812.9 1589.8L1813.8 1618.0L1814.7 1618.7L1815.6 1597.9L1816.6 1591.9L1817.5 1602.7L1818.4 1598.6L1819.3 1620.7L1820.2 1603.2L1821.2 1594.8L1822.1 1639.6L1823.0 1629.3L1823.9 1618.4L1824.9 1618.4L1825.8 1605.2L1826.7 1604.9L1827.6 1602.2L1828.5 1619.0L1829.5 1615.8L1830.4 1628.1L1831.3 1617.5L1832.2 1619.0L1833.2 1600.0L1834.1 1597.7L1835.0 1601.1L1835.9 1618.9L1836.8 1604.3L1837.8 1597.6L1838.7 1578.2L1839.6 1597.6L1840.5 1603.7L1841.5 1624.0L1842.4 1601.5L1843.3 1597.9L1844.2 1605.8L1845.1 1616.2L1846.1 1602.0L1847.0 1618.3L1847.9 1604.5L1848.8 1602.0L1849.8 1631.8L1850.7 1638.2L1851.6 1586.2L1852.5 1566.0L1853.4 1628.3L1854.4 1635.3L1855.3 1641.8L1856.2 1629.2L1857.1 1618.5L1858.1 1609.2L1859.0 1611.9L1859.9 1632.4L1860.8 1614.9L1861.7 1634.1L1862.7 1619.2L1863.6 1633.1L1864.5 1633.0L1865.4 1644.7L1866.4 1616.4L1867.3 1626.7L1868.2 1620.7L1869.1 1617.4L1870.1 1618.4L1871.0 1635.0L1871.9 1634.2L1872.8 1646.1L1873.7 1643.7L1874.7 1634.7L1875.6 1629.9L1876.5 1624.7L1877.4 1620.8L1878.4 1607.8L1879.3 1590.9L1880.2 1586.2L1881.1 1587.1L1882.0 1605.1L1883.0 1600.8L1883.9 1607.9L1884.8 1589.5L1885.7 1581.3L1886.7 1554.8L1887.6 1543.0L1888.5 1560.7L1889.4 1568.8L1890.3 1567.5L1891.3 1581.5L1892.2 1566.2L1893.1 1582.3L1894.0 1564.7L1895.0 1585.5L1895.9 1565.6L1896.8 1559.2L1897.7 1537.2L1898.6 1538.2L1899.6 1546.8L1900.5 1550.8L1901.4 1557.5L1902.3 1563.2L1903.3 1573.6L1904.2 1584.3L1905.1 1595.7L1906.0 1606.4L1906.9 1609.5L1907.9 1612.9L1908.8 1616.0L1909.7 1619.0L1910.6 1620.8L1911.6 1629.8L1912.5 1639.1L1913.4 1641.1L1914.3 1635.0L1915.2 1636.2L1916.2 1628.3L1917.1 1627.8L1918.0 1628.0L1918.9 1632.3L1919.9 1627.7L1920.8 1639.9L1921.7 1636.8L1922.6 1646.8L1923.5 1641.3L1924.5 1632.5L1925.4 1625.0L1926.3 1623.6L1927.2 1635.3L1928.2 1626.6L1929.1 1620.9L1930.0 1617.1L1930.9 1628.1L1931.9 1629.5L1932.8 1633.2L1933.7 1630.5L1934.6 1624.8L1935.5 1630.3L1936.5 1625.3L1937.4 1625.1L1938.3 1628.5L1939.2 1631.7L1940.2 1627.7L1941.1 1632.3L1942.0 1632.4L1942.9 1632.3L1943.8 1628.8L1944.8 1632.3L1945.7 1632.2L1946.6 1643.6L1947.5 1644.7L1948.5 1640.9L1949.4 1630.1L1950.3 1628.7L1951.2 1630.6L1952.1 1642.3L1953.1 1632.3L1954.0 1642.5L1954.9 1642.3L1955.8 1643.5L1956.8 1645.4L1957.7 1634.0L1958.6 1627.9L1959.5 1634.8L1960.4 1630.3L1961.4 1642.5L1962.3 1636.3L1963.2 1639.6L1964.1 1636.0L1965.1 1640.6L1966.0 1630.3L1966.9 1641.6L1967.8 1630.6L1968.7 1629.4L1969.7 1629.9L1970.6 1637.0L1971.5 1631.0L1972.4 1642.8L1973.4 1646.1L1974.3 1640.7L1975.2 1619.2L1976.1 1623.0L1977.0 1621.0L1978.0 1635.6L1978.9 1618.9L1979.8 1617.1L1980.7 1612.5L1981.7 1635.7L1982.6 1639.6L1983.5 1635.7L1984.4 1611.5L1985.4 1629.7L1986.3 1607.2L1987.2 1602.0L1988.1 1606.1L1989.0 1612.5L1990.0 1599.1L1990.9 1590.1L1991.8 1583.7L1992.7 1598.1L1993.7 1593.3L1994.6 1599.7L1995.5 1594.4L1996.4 1597.0L1997.3 1585.0L1998.3 1594.4L1999.2 1568.7L2000.1 1563.5L2001.0 1569.3L2002.0 1595.0L2002.9 1591.6L2003.8 1583.4L2004.7 1591.1L2005.6 1591.0L2006.6 1574.9L2007.5 1578.7L2008.4 1568.6L2009.3 1570.9L2010.3 1574.2L2011.2 1605.1L2012.1 1588.8L2013.0 1604.9L2013.9 1606.2L2014.9 1621.3L2015.8 1605.2L2016.7 1603.4L2017.6 1618.4L2018.6 1616.3L2019.5 1618.5L2020.4 1611.8L2021.3 1605.3L2022.2 1610.3L2023.2 1619.3L2024.1 1609.7L2025.0 1609.0L2025.9 1626.9L2026.9 1624.5L2027.8 1636.4L2028.7 1623.1L2029.6 1624.7L2030.5 1610.0L2031.5 1608.8L2032.4 1606.9L2033.3 1624.4L2034.2 1603.7L2035.2 1600.3L2036.1 1604.4L2037.0 1626.1L2037.9 1607.8L2038.8 1608.2L2039.8 1607.9L2040.7 1630.4L2041.6 1635.7L2042.5 1627.7L2043.5 1599.2L2044.4 1614.1L2045.3 1620.2L2046.2 1635.7L2047.2 1619.2L2048.1 1614.7L2049.0 1595.9L2049.9 1589.1L2050.8 1567.1L2051.8 1581.7L2052.7 1597.2L2053.6 1618.0L2054.5 1600.4L2055.5 1617.6L2056.4 1612.7L2057.3 1625.6L2058.2 1612.0L2059.1 1613.6L2060.1 1597.3L2061.0 1614.1L2061.9 1587.1L2062.8 1578.7L2063.8 1586.2L2064.7 1613.7L2065.6 1622.4L2066.5 1635.0L2067.4 1621.2L2068.4 1620.0L2069.3 1604.6L2070.2 1604.2L2071.1 1605.8L2072.1 1624.9L2073.0 1603.3L2073.9 1604.6L2074.8 1605.8L2075.7 1621.2L2076.7 1618.1L2077.6 1630.7L2078.5 1606.0L2079.4 1608.6L2080.4 1596.7L2081.3 1601.0L2082.2 1624.7L2083.1 1624.7L2084.0 1607.9L2085.0 1624.6L2085.9 1603.4L2086.8 1618.6L2087.7 1631.4L2088.7 1602.6L2089.6 1597.3L2090.5 1590.9L2091.4 1598.0L2092.3 1624.1L2093.3 1604.5L2094.2 1628.7L2095.1 1634.3L2096.0 1629.9L2097.0 1606.3L2097.9 1624.3L2098.8 1605.4L2099.7 1611.0L2100.7 1602.4L2101.6 1602.9L2102.5 1608.9L2103.4 1628.8L2104.3 1629.9L2105.3 1624.7L2106.2 1601.0L2107.1 1595.9L2108.0 1606.2L2109.0 1623.4L2109.9 1606.7L2110.8 1611.2L2111.7 1605.2L2112.6 1614.2L2113.6 1608.2L2114.5 1600.4L2115.4 1615.2L2116.3 1625.6L2117.3 1606.0L2118.2 1595.2L2119.1 1597.2L2120.0 1618.9L2120.9 1618.9L2121.9 1630.7L2122.8 1616.8L2123.7 1617.6L2124.6 1590.5L2125.6 1580.8L2126.5 1583.8L2127.4 1590.1L2128.3 1595.3L2129.2 1603.0L2130.2 1607.6L2131.1 1614.0L2132.0 1607.8L2132.9 1605.3L2133.9 1594.8L2134.8 1592.3L2135.7 1597.7L2136.6 1619.5L2137.5 1619.3L2138.5 1635.0L2139.4 1619.6L2140.3 1622.3L2141.2 1603.5L2142.2 1605.6L2143.1 1592.3L2144.0 1579.3L2144.9 1571.0L2145.8 1559.5L2146.8 1556.4L2147.7 1543.1L2148.6 1533.5L2149.5 1527.6L2150.5 1523.6L2151.4 1525.2L2152.3 1520.6L2153.2 1518.9L2154.1 1534.8L2155.1 1571.8L2156.0 1526.9L2156.9 1537.5L2157.8 1563.5L2158.8 1598.3L2159.7 1591.1L2160.6 1570.8L2161.5 1560.7L2162.5 1542.0L2163.4 1539.1L2164.3 1535.8L2165.2 1525.7L2166.1 1523.2L2167.1 1518.7L2168.0 1531.6L2168.9 1539.2L2169.8 1514.5L2170.8 1513.1L2171.7 1526.0L2172.6 1532.0L2173.5 1538.3L2174.4 1509.4L2175.4 1499.4L2176.3 1510.0L2177.2 1540.1L2178.1 1540.8L2179.1 1553.6L2180.0 1540.9L2180.9 1544.4L2181.8 1526.9L2182.7 1518.9L2183.7 1592.5L2184.6 1570.3L2185.5 1545.3L2186.4 1563.5L2187.4 1549.1L2188.3 1572.2L2189.2 1580.8L2190.1 1614.0L2191.0 1617.6L2192.0 1620.0L2192.9 1619.9L2193.8 1623.2L2194.7 1625.0L2195.7 1630.9L2196.6 1634.1L2197.5 1635.0L2198.4 1617.4L2199.3 1631.8L2200.3 1610.7L2201.2 1614.6L2202.1 1614.0L2203.0 1629.5L2204.0 1610.2L2204.9 1606.7L2205.8 1608.3L2206.7 1631.4L2207.6 1609.4L2208.6 1631.6L2209.5 1611.7L2210.4 1628.0L2211.3 1623.8L2212.3 1635.0L2213.2 1613.3L2214.1 1615.7L2215.0 1606.0L2216.0 1622.1L2216.9 1618.4L2217.8 1617.7L2218.7 1606.7L2219.6 1609.7L2220.6 1615.1L2221.5 1641.2L2222.4 1650.8L2223.3 1643.0L2224.3 1633.4L2225.2 1637.1L2226.1 1619.4L2227.0 1639.1L2227.9 1618.7L2228.9 1614.7L2229.8 1623.2L2230.7 1641.4L2231.6 1645.8L2232.6 1643.9L2233.5 1622.5L2234.4 1624.3L2235.3 1624.8L2236.2 1631.2L2237.2 1623.6L2238.1 1640.5L2239.0 1620.4L2239.9 1641.0L2240.9 1636.1L2241.8 1645.8L2242.7 1635.2L2243.6 1640.9L2244.5 1631.5L2245.5 1629.9L2246.4 1629.6L2247.3 1643.5L2248.2 1622.9L2249.2 1615.4L2250.1 1622.4L2251.0 1642.1L2251.9 1630.9L2252.8 1644.5L2253.8 1650.2L2254.7 1656.6L2255.6 1642.8L2256.5 1639.9L2257.5 1628.2L2258.4 1627.3L2259.3 1626.9L2260.2 1633.0L2261.1 1628.2L2262.1 1640.8L2263.0 1628.9L2263.9 1636.9L2264.8 1645.8L2265.8 1643.7L2266.7 1627.6L2267.6 1624.7L2268.5 1626.8L2269.4 1641.2L2270.4 1629.0L2271.3 1640.8L2272.2 1627.6L2273.1 1642.3L2274.1 1644.3L2275.0 1642.4L2275.9 1627.7L2276.8 1639.7L2277.8 1630.0L2278.7 1638.4L2279.6 1639.3L2280.5 1637.4L2281.4 1630.1L2282.4 1636.2L2283.3 1625.4L2284.2 1623.5L2285.1 1626.1L2286.1 1637.1L2287.0 1635.3L2287.9 1638.6L2288.8 1635.6L2289.7 1637.4L2290.7 1628.9L2291.6 1630.8L2292.5 1626.9L2293.4 1631.5L2294.4 1630.9L2295.3 1638.0L2296.2 1636.3L2297.1 1635.1L2298.0 1632.7L2299.0 1645.3L2299.9 1650.7L2300.8 1645.3L2301.7 1632.7L2302.7 1638.0L2303.6 1637.3L2304.5 1640.1L2305.4 1642.2L2306.3 1643.6L2307.3 1640.9L2308.2 1645.8L2309.1 1636.9L2310.0 1634.6L2311.0 1625.2L2311.9 1625.7L2312.8 1626.8L2313.7 1644.8L2314.6 1650.1L2315.6 1639.9L2316.5 1626.7L2317.4 1627.8L2318.3 1627.1L2319.3 1630.4L2320.2 1627.0L2321.1 1625.2L2322.0 1634.0L2322.9 1636.3L2323.9 1637.6L2324.8 1640.1L2325.7 1633.9L2326.6 1640.0L2327.6 1634.9L2328.5 1644.3L2329.4 1650.7L2330.3 1640.6L2331.3 1646.5L2332.2 1646.0L2333.1 1644.2L2334.0 1649.6L2334.9 1648.9L2335.9 1644.4L2336.8 1641.4L2337.7 1640.0L2338.6 1633.0L2339.6 1626.7L2340.5 1621.1L2341.4 1618.9L2342.3 1631.2L2343.2 1644.8L2344.2 1630.7L2345.1 1647.2L2346.0 1644.4L2346.9 1645.5L2347.9 1630.6L2348.8 1647.2L2349.7 1630.1L2350.6 1628.1L2351.5 1629.6L2352.5 1634.3L2353.4 1636.8L2354.3 1635.8L2354.6 1635.8L2354.6 1756.4Z" fill="#f54444" stroke="none"/><path d="M52.0 1528.6L52.9 1530.2L53.8 1526.4L54.8 1526.2L55.7 1528.9L56.6 1527.6L57.5 1527.1L58.5 1550.5L59.4 1595.1L60.3 1563.0L61.2 1548.7L62.1 1609.4L63.1 1633.9L64.0 1618.5L64.9 1601.4L65.8 1582.9L66.8 1602.8L67.7 1583.8L68.6 1580.4L69.5 1584.8L70.4 1608.5L71.4 1591.4L72.3 1612.7L73.2 1628.1L74.1 1570.3L75.1 1582.6L76.0 1614.1L76.9 1590.8L77.8 1610.6L78.7 1589.0L79.7 1595.5L80.6 1583.3L81.5 1611.3L82.4 1598.3L83.4 1603.6L84.3 1599.1L85.2 1605.1L86.1 1587.6L87.1 1593.7L88.0 1587.6L88.9 1600.6L89.8 1604.1L90.7 1617.3L91.7 1601.5L92.6 1598.3L93.5 1583.4L94.4 1598.1L95.4 1578.4L96.3 1573.2L97.2 1600.8L98.1 1599.2L99.0 1597.9L100.0 1600.4L100.9 1583.0L101.8 1570.3L102.7 1606.8L103.7 1610.8L104.6 1605.0L105.5 1597.2L106.4 1580.8L107.3 1596.6L108.3 1570.5L109.2 1559.5L110.1 1564.0L111.0 1580.6L112.0 1591.2L112.9 1598.6L113.8 1606.4L114.7 1610.9L115.6 1617.2L116.6 1623.9L117.5 1624.5L118.4 1617.3L119.3 1589.3L120.3 1609.8L121.2 1594.0L122.1 1615.0L123.0 1591.2L123.9 1609.0L124.9 1589.0L125.8 1618.6L126.7 1619.5L127.6 1617.3L128.6 1614.2L129.5 1614.5L130.4 1585.5L131.3 1576.1L132.2 1586.2L133.2 1612.9L134.1 1613.8L135.0 1628.1L135.9 1610.8L136.9 1603.6L137.8 1605.9L138.7 1587.9L139.6 1591.4L140.6 1591.9L141.5 1589.0L142.4 1605.3L143.3 1603.6L144.2 1609.1L145.2 1597.4L146.1 1614.8L147.0 1589.5L147.9 1569.6L148.9 1587.9L149.8 1608.9L150.7 1594.9L151.6 1611.0L152.5 1607.1L153.5 1619.5L154.4 1604.9L155.3 1603.6L156.2 1593.3L157.2 1599.3L158.1 1591.9L159.0 1609.3L159.9 1605.9L160.8 1612.3L161.8 1589.1L162.7 1583.3L163.6 1591.1L164.5 1616.2L165.5 1600.6L166.4 1626.7L167.3 1632.4L168.2 1627.1L169.1 1602.2L170.1 1620.4L171.0 1594.5L171.9 1589.1L172.8 1616.5L173.8 1631.0L174.7 1617.7L175.6 1618.2L176.5 1599.0L177.4 1621.9L178.4 1607.0L179.3 1597.0L180.2 1598.8L181.1 1596.2L182.1 1611.2L183.0 1622.3L183.9 1611.2L184.8 1615.4L185.7 1599.3L186.7 1617.3L187.6 1599.8L188.5 1617.9L189.4 1619.5L190.4 1602.7L191.3 1591.9L192.2 1602.1L193.1 1597.4L194.0 1596.3L195.0 1602.9L195.9 1606.5L196.8 1601.6L197.7 1614.2L198.7 1593.4L199.6 1592.7L200.5 1599.1L201.4 1615.2L202.4 1617.3L203.3 1616.8L204.2 1605.2L205.1 1611.9L206.0 1609.2L207.0 1611.6L207.9 1611.5L208.8 1621.6L209.7 1603.1L210.7 1608.8L211.6 1600.6L212.5 1607.8L213.4 1605.8L214.3 1615.0L215.3 1597.8L216.2 1613.7L217.1 1589.1L218.0 1583.3L219.0 1587.6L219.9 1611.0L220.8 1594.1L221.7 1616.4L222.6 1621.6L223.6 1607.4L224.5 1584.9L225.4 1580.4L226.3 1584.7L227.3 1607.3L228.2 1606.4L229.1 1618.0L230.0 1589.5L230.9 1609.7L231.9 1580.4L232.8 1620.9L233.7 1607.1L234.6 1609.7L235.6 1609.2L236.5 1588.1L237.4 1572.5L238.3 1608.4L239.2 1617.5L240.2 1625.9L241.1 1609.1L242.0 1606.4L242.9 1590.5L243.9 1585.3L244.8 1568.2L245.7 1606.4L246.6 1609.8L247.5 1625.2L248.5 1621.4L249.4 1608.5L250.3 1602.5L251.2 1594.8L252.2 1592.0L253.1 1588.2L254.0 1582.6L254.9 1579.7L255.9 1574.2L256.8 1571.8L257.7 1585.9L258.6 1617.9L259.5 1599.7L260.5 1610.5L261.4 1603.6L262.3 1601.1L263.2 1594.8L264.2 1624.7L265.1 1636.7L266.0 1625.1L266.9 1598.1L267.8 1609.1L268.8 1599.6L269.7 1609.3L270.6 1609.2L271.5 1609.7L272.5 1608.0L273.4 1612.3L274.3 1622.0L275.2 1624.0L276.1 1603.7L277.1 1597.7L278.0 1603.6L278.9 1621.7L279.8 1608.8L280.8 1623.6L281.7 1622.0L282.6 1625.2L283.5 1606.2L284.4 1609.2L285.4 1600.8L286.3 1617.9L287.2 1616.4L288.1 1626.7L289.1 1598.3L290.0 1603.5L290.9 1591.9L291.8 1610.2L292.7 1603.6L293.7 1595.9L294.6 1578.2L295.5 1596.8L296.4 1600.4L297.4 1620.7L298.3 1602.0L299.2 1619.1L300.1 1625.1L301.0 1631.0L302.0 1618.8L302.9 1616.6L303.8 1603.3L304.7 1607.3L305.7 1599.3L306.6 1596.3L307.5 1634.2L308.4 1641.8L309.3 1625.9L310.3 1622.6L311.2 1601.0L312.1 1597.7L313.0 1613.8L314.0 1618.0L314.9 1595.4L315.8 1581.1L316.7 1601.2L317.7 1625.8L318.6 1611.8L319.5 1630.4L320.4 1602.3L321.3 1623.2L322.3 1625.6L323.2 1641.8L324.1 1602.6L325.0 1601.3L326.0 1603.5L326.9 1624.1L327.8 1605.8L328.7 1623.8L329.6 1618.7L330.6 1626.7L331.5 1619.3L332.4 1623.0L333.3 1607.1L334.3 1625.5L335.2 1606.3L336.1 1615.0L337.0 1609.2L337.9 1616.5L338.9 1623.0L339.8 1606.7L340.7 1609.3L341.6 1624.3L342.6 1604.5L343.5 1626.0L344.4 1631.0L345.3 1627.8L346.2 1607.7L347.2 1625.7L348.1 1592.4L349.0 1581.1L349.9 1591.8L350.9 1623.4L351.8 1623.8L352.7 1641.1L353.6 1622.8L354.5 1621.0L355.5 1598.2L356.4 1594.8L357.3 1598.9L358.2 1617.6L359.2 1601.7L360.1 1628.1L361.0 1636.7L361.9 1629.7L362.8 1601.0L363.8 1619.3L364.7 1592.2L365.6 1584.7L366.5 1589.9L367.5 1610.8L368.4 1593.3L369.3 1611.5L370.2 1607.4L371.2 1619.5L372.1 1591.2L373.0 1586.9L373.9 1598.3L374.8 1612.6L375.8 1593.0L376.7 1612.9L377.6 1615.1L378.5 1598.7L379.5 1589.1L380.4 1600.0L381.3 1596.4L382.2 1609.6L383.1 1609.3L384.1 1619.5L385.0 1590.0L385.9 1587.6L386.8 1592.0L387.8 1613.1L388.7 1598.0L389.6 1613.9L390.5 1614.1L391.4 1619.7L392.4 1625.2L393.3 1620.1L394.2 1593.7L395.1 1608.2L396.1 1606.3L397.0 1608.0L397.9 1597.6L398.8 1615.9L399.7 1600.1L400.7 1612.7L401.6 1607.5L402.5 1615.1L403.4 1609.7L404.4 1600.8L405.3 1584.0L406.2 1600.4L407.1 1610.1L408.0 1622.6L409.0 1608.4L409.9 1630.0L410.8 1629.4L411.7 1631.7L412.7 1615.8L413.6 1618.6L414.5 1616.7L415.4 1616.1L416.3 1597.6L417.3 1611.3L418.2 1609.2L419.1 1614.7L420.0 1600.9L421.0 1604.6L421.9 1600.9L422.8 1622.8L423.7 1629.7L424.6 1635.3L425.6 1586.4L426.5 1568.9L427.4 1584.7L428.3 1604.9L429.3 1605.5L430.2 1603.6L431.1 1605.2L432.0 1606.8L433.0 1591.9L433.9 1629.7L434.8 1636.0L435.7 1630.4L436.6 1610.4L437.6 1625.6L438.5 1608.4L439.4 1609.2L440.3 1609.5L441.3 1627.9L442.2 1612.7L443.1 1628.1L444.0 1636.7L444.9 1603.5L445.9 1604.2L446.8 1625.5L447.7 1609.3L448.6 1627.2L449.6 1629.5L450.5 1627.7L451.4 1603.1L452.3 1621.5L453.2 1592.1L454.2 1583.3L455.1 1600.2L456.0 1609.3L456.9 1615.1L457.9 1618.4L458.8 1597.8L459.7 1616.9L460.6 1594.9L461.5 1593.4L462.5 1595.3L463.4 1615.8L464.3 1595.6L465.2 1613.4L466.2 1597.5L467.1 1612.8L468.0 1611.8L468.9 1620.9L469.8 1619.1L470.8 1600.0L471.7 1601.7L472.6 1615.5L473.5 1600.5L474.5 1598.4L475.4 1600.2L476.3 1615.1L477.2 1612.3L478.1 1619.1L479.1 1617.9L480.0 1612.3L480.9 1606.3L481.8 1619.9L482.8 1620.9L483.7 1619.5L484.6 1608.7L485.5 1618.9L486.5 1630.0L487.4 1641.8L488.3 1629.6L489.2 1620.5L490.1 1615.2L491.1 1619.3L492.0 1617.9L492.9 1622.2L493.8 1619.6L494.8 1622.3L495.7 1616.8L496.6 1618.8L497.5 1614.3L498.4 1618.0L499.4 1615.6L500.3 1617.1L501.2 1616.8L502.1 1624.3L503.1 1625.2L504.0 1623.8L504.9 1613.2L505.8 1624.2L506.7 1612.2L507.7 1622.6L508.6 1614.5L509.5 1616.1L510.4 1610.7L511.4 1616.3L512.3 1611.5L513.2 1620.8L514.1 1599.0L515.0 1589.1L516.0 1599.1L516.9 1623.2L517.8 1618.7L518.7 1625.2L519.7 1617.9L520.6 1620.6L521.5 1611.5L522.4 1608.5L523.3 1606.3L524.3 1615.5L525.2 1609.5L526.1 1627.4L527.0 1628.1L528.0 1625.8L528.9 1625.5L529.8 1626.4L530.7 1613.9L531.6 1626.9L532.6 1612.5L533.5 1619.3L534.4 1610.5L535.3 1611.1L536.3 1613.0L537.2 1623.5L538.1 1612.1L539.0 1616.3L539.9 1609.2L540.9 1624.6L541.8 1628.4L542.7 1646.1L543.6 1628.2L544.6 1620.2L545.5 1596.9L546.4 1591.9L547.3 1602.7L548.3 1620.0L549.2 1609.4L550.1 1590.5L551.0 1597.8L551.9 1624.6L552.9 1624.2L553.8 1620.4L554.7 1582.8L555.6 1565.3L556.6 1569.0L557.5 1579.1L558.4 1586.4L559.3 1591.8L560.2 1600.7L561.2 1607.6L562.1 1615.6L563.0 1631.6L563.9 1636.7L564.9 1604.4L565.8 1597.7L566.7 1611.2L567.6 1607.0L568.5 1615.1L569.5 1592.5L570.4 1589.1L571.3 1591.9L572.2 1595.4L573.2 1593.0L574.1 1614.1L575.0 1618.0L575.9 1613.8L576.8 1594.8L577.8 1609.2L578.7 1581.5L579.6 1573.2L580.5 1581.4L581.5 1613.5L582.4 1591.7L583.3 1612.6L584.2 1594.5L585.1 1612.7L586.1 1615.1L587.0 1614.4L587.9 1609.1L588.8 1603.5L589.8 1602.0L590.7 1613.4L591.6 1598.8L592.5 1614.0L593.4 1600.6L594.4 1610.9L595.3 1629.0L596.2 1641.8L597.1 1623.0L598.1 1627.1L599.0 1625.8L599.9 1610.3L600.8 1597.7L601.8 1617.4L602.7 1609.4L603.6 1627.3L604.5 1590.8L605.4 1575.4L606.4 1597.0L607.3 1625.1L608.2 1629.6L609.1 1636.0L610.1 1619.6L611.0 1619.2L611.9 1604.0L612.8 1615.0L613.7 1600.4L614.7 1616.0L615.6 1614.7L616.5 1625.2L617.4 1615.4L618.4 1617.5L619.3 1599.3L620.2 1594.8L621.1 1596.6L622.0 1617.7L623.0 1600.5L623.9 1623.7L624.8 1625.2L625.7 1623.4L626.7 1605.5L627.6 1604.9L628.5 1618.9L629.4 1631.0L630.3 1625.5L631.3 1618.7L632.2 1601.8L633.1 1619.3L634.0 1603.3L635.0 1621.0L635.9 1600.0L636.8 1598.4L637.7 1598.7L638.6 1612.1L639.6 1619.3L640.5 1636.7L641.4 1617.5L642.3 1593.7L643.3 1595.5L644.2 1591.8L645.1 1579.0L646.0 1592.1L646.9 1591.4L647.9 1604.6L648.8 1590.4L649.7 1577.7L650.6 1588.3L651.6 1608.0L652.5 1572.0L653.4 1560.2L654.3 1580.9L655.2 1608.5L656.2 1603.7L657.1 1616.6L658.0 1591.2L658.9 1591.8L659.9 1594.8L660.8 1616.9L661.7 1623.8L662.6 1617.0L663.6 1594.2L664.5 1612.3L665.4 1590.9L666.3 1584.7L667.2 1590.5L668.2 1612.9L669.1 1602.2L670.0 1611.0L670.9 1619.5L671.9 1617.5L672.8 1602.3L673.7 1601.8L674.6 1594.6L675.5 1592.7L676.5 1594.2L677.4 1617.0L678.3 1614.6L679.2 1630.3L680.2 1615.4L681.1 1616.2L682.0 1595.3L682.9 1594.8L683.8 1604.2L684.8 1605.7L685.7 1621.0L686.6 1616.6L687.5 1608.5L688.5 1619.2L689.4 1592.1L690.3 1585.5L691.2 1591.0L692.1 1607.7L693.1 1592.8L694.0 1611.7L694.9 1593.7L695.8 1623.1L696.8 1632.4L697.7 1605.6L698.6 1577.5L699.5 1570.3L700.4 1577.6L701.4 1604.8L702.3 1604.3L703.2 1616.6L704.1 1604.5L705.1 1605.3L706.0 1590.4L706.9 1605.6L707.8 1589.2L708.7 1590.1L709.7 1573.2L710.6 1587.9L711.5 1588.5L712.4 1602.2L713.4 1586.9L714.3 1604.8L715.2 1612.4L716.1 1625.2L717.1 1610.6L718.0 1610.4L718.9 1596.4L719.8 1615.2L720.7 1615.7L721.7 1618.1L722.6 1601.1L723.5 1589.8L724.4 1593.0L725.4 1614.8L726.3 1607.9L727.2 1615.1L728.1 1609.2L729.0 1616.6L730.0 1595.0L730.9 1590.5L731.8 1594.2L732.7 1616.0L733.7 1602.7L734.6 1622.5L735.5 1628.1L736.4 1624.5L737.3 1601.4L738.3 1622.1L739.2 1601.4L740.1 1603.5L741.0 1599.5L742.0 1627.8L742.9 1636.7L743.8 1628.1L744.7 1620.9L745.6 1620.0L746.6 1600.1L747.5 1616.9L748.4 1597.3L749.3 1593.4L750.3 1599.4L751.2 1621.1L752.1 1623.8L753.0 1612.5L753.9 1599.3L754.9 1617.4L755.8 1592.7L756.7 1625.2L757.6 1613.0L758.6 1617.3L759.5 1602.0L760.4 1623.6L761.3 1623.3L762.2 1623.4L763.2 1607.8L764.1 1607.8L765.0 1604.2L765.9 1620.0L766.9 1604.4L767.8 1610.3L768.7 1602.0L769.6 1602.6L770.5 1604.7L771.5 1606.4L772.4 1609.3L773.3 1606.6L774.2 1598.0L775.2 1589.7L776.1 1584.1L777.0 1578.9L777.9 1566.7L778.9 1562.4L779.8 1572.8L780.7 1600.4L781.6 1582.7L782.5 1584.5L783.5 1583.7L784.4 1600.4L785.3 1600.7L786.2 1600.6L787.2 1603.5L788.1 1602.6L789.0 1558.7L789.9 1537.2L790.8 1559.1L791.8 1600.4L792.7 1582.4L793.6 1587.2L794.5 1582.8L795.5 1618.5L796.4 1631.0L797.3 1618.2L798.2 1610.2L799.1 1594.6L800.1 1590.7L801.0 1602.0L801.9 1594.0L802.8 1593.7L803.8 1610.1L804.7 1623.8L805.6 1609.3L806.5 1610.3L807.4 1618.2L808.4 1640.3L809.3 1636.0L810.2 1615.9L811.1 1592.0L812.1 1589.3L813.0 1584.9L813.9 1580.8L814.8 1574.9L815.7 1573.2L816.7 1580.4L817.6 1592.2L818.5 1587.2L819.4 1608.9L820.4 1585.9L821.3 1598.9L822.2 1583.9L823.1 1602.8L824.0 1602.7L825.0 1616.6L825.9 1601.6L826.8 1600.4L827.7 1584.4L828.7 1584.6L829.6 1575.4L830.5 1566.7L831.4 1575.1L832.4 1600.1L833.3 1593.6L834.2 1602.2L835.1 1593.5L836.0 1601.5L837.0 1581.4L837.9 1603.8L838.8 1576.3L839.7 1568.9L840.7 1606.6L841.6 1623.1L842.5 1614.7L843.4 1606.6L844.3 1592.8L845.3 1609.4L846.2 1592.9L847.1 1590.5L848.0 1591.5L849.0 1612.6L849.9 1609.5L850.8 1622.3L851.7 1611.2L852.6 1610.2L853.6 1593.9L854.5 1614.1L855.4 1612.5L856.3 1612.7L857.3 1591.4L858.2 1584.7L859.1 1589.8L860.0 1613.4L860.9 1606.4L861.9 1613.7L862.8 1606.0L863.7 1613.8L864.6 1594.9L865.6 1613.9L866.5 1594.4L867.4 1590.5L868.3 1590.2L869.2 1608.7L870.2 1594.1L871.1 1606.4L872.0 1591.3L872.9 1611.9L873.9 1589.4L874.8 1611.2L875.7 1625.2L876.6 1616.8L877.5 1597.8L878.5 1616.5L879.4 1593.3L880.3 1587.6L881.2 1591.8L882.2 1612.5L883.1 1591.9L884.0 1586.3L884.9 1592.4L885.8 1582.6L886.8 1559.5L887.7 1584.9L888.6 1598.4L889.5 1611.9L890.5 1599.0L891.4 1622.9L892.3 1631.0L893.2 1615.1L894.2 1594.7L895.1 1579.7L896.0 1588.1L896.9 1598.0L897.8 1598.6L898.8 1615.7L899.7 1630.3L900.6 1622.8L901.5 1599.0L902.5 1613.2L903.4 1587.6L904.3 1581.8L905.2 1588.8L906.1 1615.8L907.1 1592.6L908.0 1605.6L908.9 1590.0L909.8 1608.6L910.8 1606.4L911.7 1609.9L912.6 1612.3L913.5 1610.3L914.4 1591.9L915.4 1595.5L916.3 1584.7L917.2 1594.1L918.1 1590.6L919.1 1596.8L920.0 1591.9L920.9 1593.6L921.8 1598.4L922.7 1593.7L923.7 1587.0L924.6 1607.4L925.5 1572.1L926.4 1558.7L927.4 1572.6L928.3 1601.9L929.2 1601.2L930.1 1597.1L931.0 1605.4L932.0 1611.4L932.9 1598.9L933.8 1599.5L934.7 1583.3L935.7 1600.2L936.6 1579.0L937.5 1575.2L938.4 1588.3L939.3 1604.2L940.3 1587.1L941.2 1602.2L942.1 1583.9L943.0 1604.6L944.0 1605.6L944.9 1603.6L945.8 1586.6L946.7 1600.6L947.7 1587.4L948.6 1594.9L949.5 1589.6L950.4 1596.0L951.3 1584.2L952.3 1604.1L953.2 1604.5L954.1 1617.9L955.0 1577.2L956.0 1570.9L956.9 1576.9L957.8 1602.7L958.7 1584.8L959.6 1606.3L960.6 1602.2L961.5 1611.4L962.4 1586.9L963.3 1582.7L964.3 1579.5L965.2 1591.3L966.1 1586.8L967.0 1606.3L967.9 1599.9L968.9 1603.5L969.8 1585.6L970.7 1585.3L971.6 1586.7L972.6 1604.4L973.5 1609.6L974.4 1625.1L975.3 1591.9L976.2 1595.3L977.2 1582.4L978.1 1594.4L979.0 1595.2L979.9 1610.5L980.9 1606.2L981.8 1617.1L982.7 1607.7L983.6 1612.8L984.5 1595.0L985.5 1614.1L986.4 1597.1L987.3 1605.5L988.2 1596.4L989.2 1612.4L990.1 1594.1L991.0 1609.7L991.9 1591.8L992.8 1609.8L993.8 1621.0L994.7 1631.5L995.6 1620.8L996.5 1617.9L997.5 1608.0L998.4 1629.3L999.3 1594.6L1000.2 1580.3L1001.1 1593.3L1002.1 1618.4L1003.0 1612.1L1003.9 1622.2L1004.8 1612.7L1005.8 1616.1L1006.7 1600.2L1007.6 1617.6L1008.5 1601.1L1009.5 1615.5L1010.4 1602.0L1011.3 1613.1L1012.2 1598.0L1013.1 1627.1L1014.1 1636.6L1015.0 1600.7L1015.9 1586.7L1016.8 1589.4L1017.8 1596.2L1018.7 1604.4L1019.6 1609.6L1020.5 1615.6L1021.4 1617.6L1022.4 1617.5L1023.3 1619.9L1024.2 1619.1L1025.1 1620.7L1026.1 1625.0L1027.0 1625.8L1027.9 1619.9L1028.8 1614.6L1029.7 1606.3L1030.7 1596.8L1031.6 1605.8L1032.5 1600.0L1033.4 1613.2L1034.4 1595.5L1035.3 1614.7L1036.2 1613.7L1037.1 1627.2L1038.0 1596.8L1039.0 1582.4L1039.9 1580.2L1040.8 1578.3L1041.7 1575.9L1042.7 1573.7L1043.6 1573.3L1044.5 1571.0L1045.4 1569.5L1046.3 1563.1L1047.3 1554.5L1048.2 1550.1L1049.1 1536.9L1050.0 1532.7L1051.0 1560.3L1051.9 1579.8L1052.8 1562.4L1053.7 1578.8L1054.6 1563.7L1055.6 1545.0L1056.5 1594.1L1057.4 1580.7L1058.3 1564.1L1059.3 1573.9L1060.2 1560.8L1061.1 1588.1L1062.0 1598.8L1063.0 1620.0L1063.9 1602.7L1064.8 1600.2L1065.7 1581.2L1066.6 1582.4L1067.6 1589.9L1068.5 1610.8L1069.4 1626.5L1070.3 1620.0L1071.3 1593.6L1072.2 1608.7L1073.1 1594.3L1074.0 1611.3L1074.9 1591.3L1075.9 1597.6L1076.8 1586.0L1077.7 1597.6L1078.6 1595.9L1079.6 1609.8L1080.5 1594.1L1081.4 1597.0L1082.3 1594.8L1083.2 1597.8L1084.2 1606.1L1085.1 1617.9L1086.0 1606.2L1086.9 1597.7L1087.9 1593.5L1088.8 1596.8L1089.7 1594.9L1090.6 1598.5L1091.5 1599.3L1092.5 1599.9L1093.4 1600.4L1094.3 1600.1L1095.2 1601.5L1096.2 1591.1L1097.1 1611.9L1098.0 1622.2L1098.9 1620.8L1099.8 1617.5L1100.8 1599.6L1101.7 1619.5L1102.6 1598.8L1103.5 1596.8L1104.5 1599.0L1105.4 1619.6L1106.3 1617.4L1107.2 1603.7L1108.1 1601.2L1109.1 1615.9L1110.0 1618.8L1110.9 1628.7L1111.8 1616.4L1112.8 1620.1L1113.7 1606.9L1114.6 1621.5L1115.5 1604.2L1116.4 1610.9L1117.4 1602.6L1118.3 1611.9L1119.2 1613.3L1120.1 1613.4L1121.1 1569.6L1122.0 1549.3L1122.9 1568.2L1123.8 1612.1L1124.8 1613.4L1125.7 1631.5L1126.6 1613.3L1127.5 1594.6L1128.4 1593.3L1129.4 1605.5L1130.3 1588.4L1131.2 1610.2L1132.1 1591.1L1133.1 1581.3L1134.0 1575.2L1134.9 1591.3L1135.8 1610.1L1136.7 1625.8L1137.7 1609.5L1138.6 1611.6L1139.5 1580.3L1140.4 1571.6L1141.4 1578.3L1142.3 1605.2L1143.2 1589.7L1144.1 1613.4L1145.0 1620.0L1146.0 1615.9L1146.9 1593.2L1147.8 1602.9L1148.7 1596.8L1149.7 1601.6L1150.6 1587.6L1151.5 1609.8L1152.4 1590.1L1153.3 1605.6L1154.3 1599.1L1155.2 1608.5L1156.1 1588.9L1157.0 1591.2L1158.0 1579.5L1158.9 1592.1L1159.8 1592.5L1160.7 1613.0L1161.6 1617.9L1162.6 1617.1L1163.5 1550.8L1164.4 1532.8L1165.3 1493.2L1166.3 1434.0L1167.2 1416.5L1168.1 1405.2L1169.0 1360.5L1169.9 1418.4L1170.9 1379.4L1171.8 1462.4L1172.7 1410.5L1173.6 1427.9L1174.6 1366.4L1175.5 1326.6L1176.4 1338.3L1177.3 1374.5L1178.3 1434.0L1179.2 1481.6L1180.1 1475.5L1181.0 1458.1L1181.9 1448.4L1182.9 1442.5L1183.8 1441.3L1184.7 1434.0L1185.6 1431.8L1186.6 1445.0L1187.5 1493.2L1188.4 1501.9L1189.3 1516.6L1190.2 1536.4L1191.2 1547.2L1192.1 1561.0L1193.0 1569.5L1193.9 1599.9L1194.9 1588.1L1195.8 1592.4L1196.7 1570.7L1197.6 1589.7L1198.5 1574.6L1199.5 1570.9L1200.4 1601.3L1201.3 1600.3L1202.2 1593.0L1203.2 1586.5L1204.1 1584.9L1205.0 1579.6L1205.9 1574.7L1206.8 1572.2L1207.8 1565.0L1208.7 1563.0L1209.6 1567.4L1210.5 1583.4L1211.5 1592.6L1212.4 1608.4L1213.3 1609.7L1214.2 1613.9L1215.1 1620.6L1216.1 1627.6L1217.0 1629.4L1217.9 1619.7L1218.8 1590.9L1219.8 1602.7L1220.7 1587.8L1221.6 1593.7L1222.5 1585.3L1223.4 1603.0L1224.4 1600.9L1225.3 1612.8L1226.2 1601.6L1227.1 1603.7L1228.1 1583.5L1229.0 1581.0L1229.9 1582.5L1230.8 1588.2L1231.7 1592.3L1232.7 1594.0L1233.6 1567.4L1234.5 1550.8L1235.4 1525.3L1236.4 1500.0L1237.3 1457.9L1238.2 1419.6L1239.1 1373.9L1240.1 1347.6L1241.0 1290.0L1241.9 1245.3L1242.8 1203.3L1243.7 1150.0L1244.7 1122.9L1245.6 1086.2L1246.5 1050.0L1247.4 1003.8L1248.4 959.5L1249.3 917.5L1250.2 965.1L1251.1 1008.0L1252.0 1050.0L1253.0 1098.6L1253.9 1150.0L1254.8 1195.0L1255.7 1247.0L1256.7 1290.0L1257.6 1347.6L1258.5 1380.7L1259.4 1419.6L1260.3 1493.0L1261.3 1508.2L1262.2 1530.0L1263.1 1543.6L1264.0 1555.1L1265.0 1563.6L1265.9 1572.5L1266.8 1579.7L1267.7 1591.3L1268.6 1601.0L1269.6 1619.1L1270.5 1622.9L1271.4 1617.6L1272.3 1593.2L1273.3 1610.9L1274.2 1590.5L1275.1 1585.3L1276.0 1587.7L1276.9 1597.2L1277.9 1603.5L1278.8 1608.4L1279.7 1616.9L1280.6 1623.7L1281.6 1627.2L1282.5 1621.9L1283.4 1596.5L1284.3 1612.5L1285.2 1595.0L1286.2 1611.7L1287.1 1589.2L1288.0 1592.5L1288.9 1590.4L1289.9 1602.4L1290.8 1589.1L1291.7 1578.8L1292.6 1581.1L1293.6 1601.9L1294.5 1607.1L1295.4 1590.4L1296.3 1570.2L1297.2 1571.6L1298.2 1568.0L1299.1 1571.8L1300.0 1570.7L1300.9 1576.2L1301.9 1568.0L1302.8 1571.1L1303.7 1566.8L1304.6 1574.0L1305.5 1575.7L1306.5 1561.4L1307.4 1559.4L1308.3 1578.3L1309.2 1571.9L1310.2 1575.0L1311.1 1562.3L1312.0 1572.9L1312.9 1560.8L1313.8 1564.6L1314.8 1556.5L1315.7 1563.7L1316.6 1560.3L1317.5 1580.5L1318.5 1586.9L1319.4 1563.2L1320.3 1532.0L1321.2 1523.4L1322.1 1545.1L1323.1 1555.0L1324.0 1548.0L1324.9 1553.6L1325.8 1539.3L1326.8 1545.4L1327.7 1537.8L1328.6 1560.5L1329.5 1552.2L1330.4 1556.7L1331.4 1541.8L1332.3 1548.4L1333.2 1543.5L1334.1 1594.0L1335.1 1594.3L1336.0 1598.4L1336.9 1603.6L1337.8 1605.6L1338.7 1588.9L1339.7 1603.0L1340.6 1583.2L1341.5 1595.4L1342.4 1597.2L1343.4 1604.0L1344.3 1585.1L1345.2 1584.4L1346.1 1610.5L1347.0 1631.5L1348.0 1611.1L1348.9 1603.2L1349.8 1581.3L1350.7 1579.5L1351.7 1581.3L1352.6 1594.6L1353.5 1582.9L1354.4 1582.8L1355.4 1584.1L1356.3 1595.5L1357.2 1591.2L1358.1 1592.7L1359.0 1577.7L1360.0 1587.2L1360.9 1579.2L1361.8 1588.5L1362.7 1589.4L1363.7 1598.4L1364.6 1578.7L1365.5 1581.9L1366.4 1576.7L1367.3 1583.6L1368.3 1575.0L1369.2 1593.9L1370.1 1576.8L1371.0 1589.1L1372.0 1577.0L1372.9 1580.6L1373.8 1568.0L1374.7 1609.8L1375.6 1617.1L1376.6 1608.9L1377.5 1586.1L1378.4 1600.0L1379.3 1572.7L1380.3 1563.7L1381.2 1588.5L1382.1 1619.4L1383.0 1631.5L1383.9 1619.9L1384.9 1595.6L1385.8 1616.6L1386.7 1593.2L1387.6 1588.2L1388.6 1615.9L1389.5 1616.3L1390.4 1605.6L1391.3 1596.3L1392.2 1589.6L1393.2 1596.4L1394.1 1589.5L1395.0 1602.7L1395.9 1610.8L1396.9 1634.4L1397.8 1571.9L1398.7 1568.0L1399.6 1577.0L1400.5 1591.4L1401.5 1576.8L1402.4 1569.7L1403.3 1550.7L1404.2 1586.3L1405.2 1591.9L1406.1 1607.1L1407.0 1548.9L1407.9 1529.9L1408.9 1548.3L1409.8 1590.2L1410.7 1571.5L1411.6 1589.0L1412.5 1593.2L1413.5 1609.9L1414.4 1576.4L1415.3 1568.0L1416.2 1560.8L1417.2 1574.8L1418.1 1583.8L1419.0 1587.1L1419.9 1607.6L1420.8 1627.2L1421.8 1617.6L1422.7 1624.7L1423.6 1609.5L1424.5 1621.7L1425.5 1625.6L1426.4 1627.6L1427.3 1630.5L1428.2 1632.2L1429.1 1647.5L1430.1 1639.9L1431.0 1611.0L1431.9 1614.7L1432.8 1603.5L1433.8 1614.6L1434.7 1611.2L1435.6 1632.0L1436.5 1629.6L1437.4 1641.1L1438.4 1629.7L1439.3 1607.4L1440.2 1609.0L1441.1 1623.2L1442.1 1604.5L1443.0 1604.5L1443.9 1590.5L1444.8 1604.1L1445.7 1602.0L1446.7 1601.9L1447.6 1616.3L1448.5 1628.1L1449.4 1616.8L1450.4 1598.6L1451.3 1569.0L1452.2 1543.7L1453.1 1568.0L1454.0 1618.2L1455.0 1600.9L1455.9 1614.3L1456.8 1595.8L1457.7 1619.7L1458.7 1625.2L1459.6 1621.2L1460.5 1596.5L1461.4 1593.5L1462.3 1591.9L1463.3 1613.8L1464.2 1598.2L1465.1 1603.6L1466.0 1591.8L1467.0 1584.7L1467.9 1589.6L1468.8 1616.6L1469.7 1599.0L1470.7 1596.3L1471.6 1596.4L1472.5 1604.7L1473.4 1606.9L1474.3 1620.9L1475.3 1606.6L1476.2 1588.9L1477.1 1588.8L1478.0 1601.2L1479.0 1597.7L1479.9 1611.3L1480.8 1603.2L1481.7 1609.4L1482.6 1587.4L1483.6 1576.8L1484.5 1579.8L1485.4 1588.0L1486.3 1591.3L1487.3 1596.4L1488.2 1602.1L1489.1 1607.3L1490.0 1614.7L1490.9 1619.8L1491.9 1629.2L1492.8 1632.4L1493.7 1631.2L1494.6 1626.9L1495.6 1614.6L1496.5 1629.4L1497.4 1626.7L1498.3 1641.4L1499.2 1650.4L1500.2 1642.3L1501.1 1614.2L1502.0 1631.4L1502.9 1614.9L1503.9 1636.9L1504.8 1612.6L1505.7 1608.5L1506.6 1611.9L1507.5 1634.8L1508.5 1635.0L1509.4 1635.2L1510.3 1619.8L1511.2 1633.1L1512.2 1615.2L1513.1 1628.5L1514.0 1638.9L1514.9 1636.9L1515.8 1634.9L1516.8 1631.9L1517.7 1613.3L1518.6 1631.1L1519.5 1613.0L1520.5 1612.8L1521.4 1613.8L1522.3 1612.4L1523.2 1611.9L1524.2 1628.9L1525.1 1624.3L1526.0 1636.0L1526.9 1624.4L1527.8 1627.7L1528.8 1602.7L1529.7 1604.7L1530.6 1602.0L1531.5 1602.3L1532.5 1604.0L1533.4 1607.9L1534.3 1581.3L1535.2 1597.6L1536.1 1597.0L1537.1 1609.4L1538.0 1575.1L1538.9 1571.8L1539.8 1572.6L1540.8 1584.8L1541.7 1580.6L1542.6 1586.3L1543.5 1579.5L1544.4 1584.4L1545.4 1569.6L1546.3 1567.4L1547.2 1572.0L1548.1 1585.2L1549.1 1579.8L1550.0 1586.3L1550.9 1583.0L1551.8 1596.0L1552.7 1572.3L1553.7 1568.9L1554.6 1605.0L1555.5 1620.9L1556.4 1613.0L1557.4 1603.9L1558.3 1585.6L1559.2 1606.4L1560.1 1611.1L1561.0 1631.0L1562.0 1623.7L1562.9 1624.5L1563.8 1612.9L1564.7 1623.3L1565.7 1614.9L1566.6 1621.6L1567.5 1615.0L1568.4 1616.1L1569.3 1622.1L1570.3 1626.7L1571.2 1622.6L1572.1 1627.2L1573.0 1614.2L1574.0 1611.4L1574.9 1618.8L1575.8 1638.1L1576.7 1641.1L1577.6 1639.9L1578.6 1619.6L1579.5 1635.5L1580.4 1618.2L1581.3 1636.0L1582.3 1619.8L1583.2 1638.0L1584.1 1615.5L1585.0 1635.3L1586.0 1617.0L1586.9 1636.3L1587.8 1629.6L1588.7 1641.8L1589.6 1616.5L1590.6 1615.2L1591.5 1605.6L1592.4 1615.6L1593.3 1611.9L1594.3 1626.9L1595.2 1621.5L1596.1 1629.5L1597.0 1620.5L1597.9 1611.4L1598.9 1608.6L1599.8 1624.3L1600.7 1607.0L1601.6 1605.6L1602.6 1615.3L1603.5 1620.9L1604.4 1615.6L1605.3 1625.4L1606.2 1611.1L1607.2 1625.6L1608.1 1614.7L1609.0 1626.4L1609.9 1613.4L1610.9 1614.3L1611.8 1614.9L1612.7 1628.6L1613.6 1611.6L1614.5 1611.4L1615.5 1614.8L1616.4 1634.7L1617.3 1636.0L1618.2 1625.8L1619.2 1631.0L1620.1 1631.5L1621.0 1612.0L1621.9 1609.2L1622.8 1609.5L1623.8 1610.0L1624.7 1624.5L1625.6 1636.0L1626.5 1623.4L1627.5 1626.8L1628.4 1602.0L1629.3 1597.7L1630.2 1601.3L1631.1 1623.5L1632.1 1593.5L1633.0 1590.2L1633.9 1581.1L1634.8 1591.4L1635.8 1603.5L1636.7 1602.5L1637.6 1587.4L1638.5 1587.8L1639.5 1599.9L1640.4 1587.1L1641.3 1581.4L1642.2 1578.2L1643.1 1589.0L1644.1 1603.8L1645.0 1596.7L1645.9 1606.5L1646.8 1598.2L1647.8 1604.5L1648.7 1594.0L1649.6 1626.3L1650.5 1634.6L1651.4 1629.6L1652.4 1601.6L1653.3 1618.3L1654.2 1595.3L1655.1 1589.8L1656.1 1596.2L1657.0 1620.3L1657.9 1628.0L1658.8 1635.3L1659.7 1624.3L1660.7 1624.7L1661.6 1611.9L1662.5 1629.7L1663.4 1626.9L1664.4 1641.8L1665.3 1626.3L1666.2 1628.1L1667.1 1608.0L1668.0 1619.3L1669.0 1607.8L1669.9 1632.3L1670.8 1632.4L1671.7 1631.9L1672.7 1628.0L1673.6 1613.3L1674.5 1601.3L1675.4 1608.7L1676.3 1628.2L1677.3 1629.3L1678.2 1625.9L1679.1 1632.4L1680.0 1631.0L1681.0 1628.5L1681.9 1630.8L1682.8 1622.1L1683.7 1616.4L1684.6 1631.1L1685.6 1632.7L1686.5 1641.8L1687.4 1632.0L1688.3 1617.6L1689.3 1619.4L1690.2 1633.3L1691.1 1618.8L1692.0 1619.0L1692.9 1620.7L1693.9 1625.5L1694.8 1619.0L1695.7 1635.3L1696.6 1636.0L1697.6 1635.3L1698.5 1620.8L1699.4 1634.4L1700.3 1620.0L1701.3 1620.5L1702.2 1612.1L1703.1 1610.4L1704.0 1609.3L1704.9 1602.7L1705.9 1591.7L1706.8 1577.6L1707.7 1562.9L1708.6 1541.6L1709.6 1528.9L1710.5 1513.1L1711.4 1498.5L1712.3 1486.4L1713.2 1474.5L1714.2 1463.7L1715.1 1457.6L1716.0 1428.8L1716.9 1415.4L1717.9 1412.2L1718.8 1428.8L1719.7 1447.6L1720.6 1457.6L1721.5 1476.9L1722.5 1486.4L1723.4 1502.6L1724.3 1515.2L1725.2 1522.1L1726.2 1530.0L1727.1 1534.4L1728.0 1551.2L1728.9 1563.2L1729.8 1576.2L1730.8 1592.0L1731.7 1618.6L1732.6 1628.1L1733.5 1611.9L1734.5 1594.7L1735.4 1590.3L1736.3 1601.2L1737.2 1586.9L1738.1 1600.6L1739.1 1599.7L1740.0 1613.2L1740.9 1602.3L1741.8 1606.5L1742.8 1602.8L1743.7 1615.8L1744.6 1618.0L1745.5 1613.5L1746.4 1585.8L1747.4 1573.2L1748.3 1586.4L1749.2 1616.9L1750.1 1620.7L1751.1 1636.7L1752.0 1627.9L1752.9 1632.3L1753.8 1617.2L1754.8 1615.0L1755.7 1616.7L1756.6 1632.7L1757.5 1619.0L1758.4 1634.9L1759.4 1635.3L1760.3 1633.5L1761.2 1619.4L1762.1 1626.5L1763.1 1622.2L1764.0 1626.1L1764.9 1633.4L1765.8 1629.8L1766.7 1617.2L1767.7 1628.3L1768.6 1628.1L1769.5 1641.8L1770.4 1626.6L1771.4 1612.3L1772.3 1606.4L1773.2 1602.0L1774.1 1632.6L1775.0 1631.6L1776.0 1615.1L1776.9 1624.9L1777.8 1608.8L1778.7 1605.3L1779.7 1588.3L1780.6 1621.6L1781.5 1628.0L1782.4 1647.5L1783.3 1626.6L1784.3 1618.5L1785.2 1603.9L1786.1 1618.1L1787.0 1585.1L1788.0 1573.2L1788.9 1611.0L1789.8 1631.7L1790.7 1632.4L1791.6 1632.9L1792.6 1612.7L1793.5 1634.6L1794.4 1628.5L1795.3 1623.6L1796.3 1612.7L1797.2 1630.1L1798.1 1606.1L1799.0 1600.6L1799.9 1632.0L1800.9 1647.5L1801.8 1630.5L1802.7 1630.0L1803.6 1606.6L1804.6 1615.7L1805.5 1609.2L1806.4 1613.0L1807.3 1602.1L1808.2 1619.5L1809.2 1614.6L1810.1 1625.2L1811.0 1589.5L1811.9 1579.7L1812.9 1589.8L1813.8 1618.0L1814.7 1618.7L1815.6 1597.9L1816.6 1591.9L1817.5 1602.7L1818.4 1598.6L1819.3 1620.7L1820.2 1603.2L1821.2 1594.8L1822.1 1639.6L1823.0 1629.3L1823.9 1618.4L1824.9 1618.4L1825.8 1605.2L1826.7 1604.9L1827.6 1602.2L1828.5 1619.0L1829.5 1615.8L1830.4 1628.1L1831.3 1617.5L1832.2 1619.0L1833.2 1600.0L1834.1 1597.7L1835.0 1601.1L1835.9 1618.9L1836.8 1604.3L1837.8 1597.6L1838.7 1578.2L1839.6 1597.6L1840.5 1603.7L1841.5 1624.0L1842.4 1601.5L1843.3 1597.9L1844.2 1605.8L1845.1 1616.2L1846.1 1602.0L1847.0 1618.3L1847.9 1604.5L1848.8 1602.0L1849.8 1631.8L1850.7 1638.2L1851.6 1586.2L1852.5 1566.0L1853.4 1628.3L1854.4 1635.3L1855.3 1641.8L1856.2 1629.2L1857.1 1618.5L1858.1 1609.2L1859.0 1611.9L1859.9 1632.4L1860.8 1614.9L1861.7 1634.1L1862.7 1619.2L1863.6 1633.1L1864.5 1633.0L1865.4 1644.7L1866.4 1616.4L1867.3 1626.7L1868.2 1620.7L1869.1 1617.4L1870.1 1618.4L1871.0 1635.0L1871.9 1634.2L1872.8 1646.1L1873.7 1643.7L1874.7 1634.7L1875.6 1629.9L1876.5 1624.7L1877.4 1620.8L1878.4 1607.8L1879.3 1590.9L1880.2 1586.2L1881.1 1587.1L1882.0 1605.1L1883.0 1600.8L1883.9 1607.9L1884.8 1589.5L1885.7 1581.3L1886.7 1554.8L1887.6 1543.0L1888.5 1560.7L1889.4 1568.8L1890.3 1567.5L1891.3 1581.5L1892.2 1566.2L1893.1 1582.3L1894.0 1564.7L1895.0 1585.5L1895.9 1565.6L1896.8 1559.2L1897.7 1537.2L1898.6 1538.2L1899.6 1546.8L1900.5 1550.8L1901.4 1557.5L1902.3 1563.2L1903.3 1573.6L1904.2 1584.3L1905.1 1595.7L1906.0 1606.4L1906.9 1609.5L1907.9 1612.9L1908.8 1616.0L1909.7 1619.0L1910.6 1620.8L1911.6 1629.8L1912.5 1639.1L1913.4 1641.1L1914.3 1635.0L1915.2 1636.2L1916.2 1628.3L1917.1 1627.8L1918.0 1628.0L1918.9 1632.3L1919.9 1627.7L1920.8 1639.9L1921.7 1636.8L1922.6 1646.8L1923.5 1641.3L1924.5 1632.5L1925.4 1625.0L1926.3 1623.6L1927.2 1635.3L1928.2 1626.6L1929.1 1620.9L1930.0 1617.1L1930.9 1628.1L1931.9 1629.5L1932.8 1633.2L1933.7 1630.5L1934.6 1624.8L1935.5 1630.3L1936.5 1625.3L1937.4 1625.1L1938.3 1628.5L1939.2 1631.7L1940.2 1627.7L1941.1 1632.3L1942.0 1632.4L1942.9 1632.3L1943.8 1628.8L1944.8 1632.3L1945.7 1632.2L1946.6 1643.6L1947.5 1644.7L1948.5 1640.9L1949.4 1630.1L1950.3 1628.7L1951.2 1630.6L1952.1 1642.3L1953.1 1632.3L1954.0 1642.5L1954.9 1642.3L1955.8 1643.5L1956.8 1645.4L1957.7 1634.0L1958.6 1627.9L1959.5 1634.8L1960.4 1630.3L1961.4 1642.5L1962.3 1636.3L1963.2 1639.6L1964.1 1636.0L1965.1 1640.6L1966.0 1630.3L1966.9 1641.6L1967.8 1630.6L1968.7 1629.4L1969.7 1629.9L1970.6 1637.0L1971.5 1631.0L1972.4 1642.8L1973.4 1646.1L1974.3 1640.7L1975.2 1619.2L1976.1 1623.0L1977.0 1621.0L1978.0 1635.6L1978.9 1618.9L1979.8 1617.1L1980.7 1612.5L1981.7 1635.7L1982.6 1639.6L1983.5 1635.7L1984.4 1611.5L1985.4 1629.7L1986.3 1607.2L1987.2 1602.0L1988.1 1606.1L1989.0 1612.5L1990.0 1599.1L1990.9 1590.1L1991.8 1583.7L1992.7 1598.1L1993.7 1593.3L1994.6 1599.7L1995.5 1594.4L1996.4 1597.0L1997.3 1585.0L1998.3 1594.4L1999.2 1568.7L2000.1 1563.5L2001.0 1569.3L2002.0 1595.0L2002.9 1591.6L2003.8 1583.4L2004.7 1591.1L2005.6 1591.0L2006.6 1574.9L2007.5 1578.7L2008.4 1568.6L2009.3 1570.9L2010.3 1574.2L2011.2 1605.1L2012.1 1588.8L2013.0 1604.9L2013.9 1606.2L2014.9 1621.3L2015.8 1605.2L2016.7 1603.4L2017.6 1618.4L2018.6 1616.3L2019.5 1618.5L2020.4 1611.8L2021.3 1605.3L2022.2 1610.3L2023.2 1619.3L2024.1 1609.7L2025.0 1609.0L2025.9 1626.9L2026.9 1624.5L2027.8 1636.4L2028.7 1623.1L2029.6 1624.7L2030.5 1610.0L2031.5 1608.8L2032.4 1606.9L2033.3 1624.4L2034.2 1603.7L2035.2 1600.3L2036.1 1604.4L2037.0 1626.1L2037.9 1607.8L2038.8 1608.2L2039.8 1607.9L2040.7 1630.4L2041.6 1635.7L2042.5 1627.7L2043.5 1599.2L2044.4 1614.1L2045.3 1620.2L2046.2 1635.7L2047.2 1619.2L2048.1 1614.7L2049.0 1595.9L2049.9 1589.1L2050.8 1567.1L2051.8 1581.7L2052.7 1597.2L2053.6 1618.0L2054.5 1600.4L2055.5 1617.6L2056.4 1612.7L2057.3 1625.6L2058.2 1612.0L2059.1 1613.6L2060.1 1597.3L2061.0 1614.1L2061.9 1587.1L2062.8 1578.7L2063.8 1586.2L2064.7 1613.7L2065.6 1622.4L2066.5 1635.0L2067.4 1621.2L2068.4 1620.0L2069.3 1604.6L2070.2 1604.2L2071.1 1605.8L2072.1 1624.9L2073.0 1603.3L2073.9 1604.6L2074.8 1605.8L2075.7 1621.2L2076.7 1618.1L2077.6 1630.7L2078.5 1606.0L2079.4 1608.6L2080.4 1596.7L2081.3 1601.0L2082.2 1624.7L2083.1 1624.7L2084.0 1607.9L2085.0 1624.6L2085.9 1603.4L2086.8 1618.6L2087.7 1631.4L2088.7 1602.6L2089.6 1597.3L2090.5 1590.9L2091.4 1598.0L2092.3 1624.1L2093.3 1604.5L2094.2 1628.7L2095.1 1634.3L2096.0 1629.9L2097.0 1606.3L2097.9 1624.3L2098.8 1605.4L2099.7 1611.0L2100.7 1602.4L2101.6 1602.9L2102.5 1608.9L2103.4 1628.8L2104.3 1629.9L2105.3 1624.7L2106.2 1601.0L2107.1 1595.9L2108.0 1606.2L2109.0 1623.4L2109.9 1606.7L2110.8 1611.2L2111.7 1605.2L2112.6 1614.2L2113.6 1608.2L2114.5 1600.4L2115.4 1615.2L2116.3 1625.6L2117.3 1606.0L2118.2 1595.2L2119.1 1597.2L2120.0 1618.9L2120.9 1618.9L2121.9 1630.7L2122.8 1616.8L2123.7 1617.6L2124.6 1590.5L2125.6 1580.8L2126.5 1583.8L2127.4 1590.1L2128.3 1595.3L2129.2 1603.0L2130.2 1607.6L2131.1 1614.0L2132.0 1607.8L2132.9 1605.3L2133.9 1594.8L2134.8 1592.3L2135.7 1597.7L2136.6 1619.5L2137.5 1619.3L2138.5 1635.0L2139.4 1619.6L2140.3 1622.3L2141.2 1603.5L2142.2 1605.6L2143.1 1592.3L2144.0 1579.3L2144.9 1571.0L2145.8 1559.5L2146.8 1556.4L2147.7 1543.1L2148.6 1533.5L2149.5 1527.6L2150.5 1523.6L2151.4 1525.2L2152.3 1520.6L2153.2 1518.9L2154.1 1534.8L2155.1 1571.8L2156.0 1526.9L2156.9 1537.5L2157.8 1563.5L2158.8 1598.3L2159.7 1591.1L2160.6 1570.8L2161.5 1560.7L2162.5 1542.0L2163.4 1539.1L2164.3 1535.8L2165.2 1525.7L2166.1 1523.2L2167.1 1518.7L2168.0 1531.6L2168.9 1539.2L2169.8 1514.5L2170.8 1513.1L2171.7 1526.0L2172.6 1532.0L2173.5 1538.3L2174.4 1509.4L2175.4 1499.4L2176.3 1510.0L2177.2 1540.1L2178.1 1540.8L2179.1 1553.6L2180.0 1540.9L2180.9 1544.4L2181.8 1526.9L2182.7 1518.9L2183.7 1592.5L2184.6 1570.3L2185.5 1545.3L2186.4 1563.5L2187.4 1549.1L2188.3 1572.2L2189.2 1580.8L2190.1 1614.0L2191.0 1617.6L2192.0 1620.0L2192.9 1619.9L2193.8 1623.2L2194.7 1625.0L2195.7 1630.9L2196.6 1634.1L2197.5 1635.0L2198.4 1617.4L2199.3 1631.8L2200.3 1610.7L2201.2 1614.6L2202.1 1614.0L2203.0 1629.5L2204.0 1610.2L2204.9 1606.7L2205.8 1608.3L2206.7 1631.4L2207.6 1609.4L2208.6 1631.6L2209.5 1611.7L2210.4 1628.0L2211.3 1623.8L2212.3 1635.0L2213.2 1613.3L2214.1 1615.7L2215.0 1606.0L2216.0 1622.1L2216.9 1618.4L2217.8 1617.7L2218.7 1606.7L2219.6 1609.7L2220.6 1615.1L2221.5 1641.2L2222.4 1650.8L2223.3 1643.0L2224.3 1633.4L2225.2 1637.1L2226.1 1619.4L2227.0 1639.1L2227.9 1618.7L2228.9 1614.7L2229.8 1623.2L2230.7 1641.4L2231.6 1645.8L2232.6 1643.9L2233.5 1622.5L2234.4 1624.3L2235.3 1624.8L2236.2 1631.2L2237.2 1623.6L2238.1 1640.5L2239.0 1620.4L2239.9 1641.0L2240.9 1636.1L2241.8 1645.8L2242.7 1635.2L2243.6 1640.9L2244.5 1631.5L2245.5 1629.9L2246.4 1629.6L2247.3 1643.5L2248.2 1622.9L2249.2 1615.4L2250.1 1622.4L2251.0 1642.1L2251.9 1630.9L2252.8 1644.5L2253.8 1650.2L2254.7 1656.6L2255.6 1642.8L2256.5 1639.9L2257.5 1628.2L2258.4 1627.3L2259.3 1626.9L2260.2 1633.0L2261.1 1628.2L2262.1 1640.8L2263.0 1628.9L2263.9 1636.9L2264.8 1645.8L2265.8 1643.7L2266.7 1627.6L2267.6 1624.7L2268.5 1626.8L2269.4 1641.2L2270.4 1629.0L2271.3 1640.8L2272.2 1627.6L2273.1 1642.3L2274.1 1644.3L2275.0 1642.4L2275.9 1627.7L2276.8 1639.7L2277.8 1630.0L2278.7 1638.4L2279.6 1639.3L2280.5 1637.4L2281.4 1630.1L2282.4 1636.2L2283.3 1625.4L2284.2 1623.5L2285.1 1626.1L2286.1 1637.1L2287.0 1635.3L2287.9 1638.6L2288.8 1635.6L2289.7 1637.4L2290.7 1628.9L2291.6 1630.8L2292.5 1626.9L2293.4 1631.5L2294.4 1630.9L2295.3 1638.0L2296.2 1636.3L2297.1 1635.1L2298.0 1632.7L2299.0 1645.3L2299.9 1650.7L2300.8 1645.3L2301.7 1632.7L2302.7 1638.0L2303.6 1637.3L2304.5 1640.1L2305.4 1642.2L2306.3 1643.6L2307.3 1640.9L2308.2 1645.8L2309.1 1636.9L2310.0 1634.6L2311.0 1625.2L2311.9 1625.7L2312.8 1626.8L2313.7 1644.8L2314.6 1650.1L2315.6 1639.9L2316.5 1626.7L2317.4 1627.8L2318.3 1627.1L2319.3 1630.4L2320.2 1627.0L2321.1 1625.2L2322.0 1634.0L2322.9 1636.3L2323.9 1637.6L2324.8 1640.1L2325.7 1633.9L2326.6 1640.0L2327.6 1634.9L2328.5 1644.3L2329.4 1650.7L2330.3 1640.6L2331.3 1646.5L2332.2 1646.0L2333.1 1644.2L2334.0 1649.6L2334.9 1648.9L2335.9 1644.4L2336.8 1641.4L2337.7 1640.0L2338.6 1633.0L2339.6 1626.7L2340.5 1621.1L2341.4 1618.9L2342.3 1631.2L2343.2 1644.8L2344.2 1630.7L2345.1 1647.2L2346.0 1644.4L2346.9 1645.5L2347.9 1630.6L2348.8 1647.2L2349.7 1630.1L2350.6 1628.1L2351.5 1629.6L2352.5 1634.3L2353.4 1636.8L2354.3 1635.8L2354.6 1635.8L2354.6 1756.4" fill="none" stroke="#000" stroke-width="5.80" stroke-linejoin="round" stroke-linecap="butt"/>
<path d="M51.8 894.4L52.0 747.5L52.9 751.5L53.8 769.4L54.8 750.1L55.7 731.0L56.6 728.7L57.5 742.7L58.5 714.6L59.4 704.4L60.3 716.4L61.2 728.0L62.1 728.9L63.1 726.7L64.0 711.6L64.9 726.9L65.8 729.8L66.8 762.5L67.7 776.6L68.6 762.7L69.5 730.1L70.4 747.6L71.4 729.2L72.3 746.7L73.2 728.7L74.1 750.1L75.1 735.0L76.0 754.7L76.9 716.2L77.8 700.8L78.7 716.6L79.7 753.0L80.6 749.7L81.5 762.2L82.4 754.6L83.4 763.6L84.3 749.7L85.2 745.8L86.1 746.5L87.1 751.1L88.0 741.8L88.9 752.0L89.8 749.2L90.7 767.6L91.7 747.9L92.6 765.2L93.5 772.0L94.4 789.5L95.4 746.3L96.3 748.3L97.2 734.6L98.1 739.6L99.0 749.4L100.0 764.9L100.9 748.6L101.8 765.7L102.7 726.9L103.7 708.7L104.6 726.5L105.5 767.8L106.4 747.0L107.3 768.0L108.3 742.1L109.2 734.6L110.1 750.2L111.0 764.5L112.0 778.0L112.9 772.7L113.8 750.1L114.7 768.7L115.6 751.8L116.6 752.3L117.5 760.6L118.4 749.4L119.3 753.3L120.3 770.7L121.2 766.1L122.1 770.2L123.0 766.8L123.9 780.2L124.9 744.2L125.8 740.4L126.7 745.1L127.6 769.4L128.6 750.9L129.5 752.8L130.4 736.8L131.3 725.3L132.2 736.7L133.2 769.9L134.1 772.8L135.0 786.7L135.9 770.4L136.9 768.5L137.8 750.4L138.7 770.4L139.6 759.0L140.6 776.4L141.5 759.9L142.4 757.2L143.3 758.2L144.2 777.5L145.2 760.7L146.1 760.6L147.0 771.1L147.9 783.1L148.9 773.9L149.8 778.5L150.7 763.5L151.6 781.6L152.5 756.2L153.5 750.5L154.4 757.4L155.3 776.0L156.2 764.2L157.2 774.8L158.1 763.2L159.0 777.2L159.9 763.5L160.8 765.5L161.8 778.0L162.7 778.7L163.6 757.0L164.5 767.3L165.5 762.0L166.4 759.0L167.3 757.3L168.2 772.4L169.1 755.9L170.1 770.1L171.0 759.4L171.9 755.4L172.8 771.3L173.8 773.8L174.7 774.2L175.6 775.1L176.5 775.4L177.4 775.6L178.4 765.1L179.3 774.0L180.2 762.9L181.1 753.4L182.1 758.7L183.0 773.9L183.9 762.2L184.8 775.3L185.7 770.0L186.7 776.6L187.6 769.2L188.5 773.9L189.4 760.1L190.4 772.1L191.3 768.2L192.2 764.9L193.1 759.7L194.0 772.8L195.0 776.3L195.9 788.8L196.8 777.6L197.7 774.0L198.7 763.0L199.6 772.2L200.5 760.5L201.4 757.0L202.4 767.6L203.3 781.3L204.2 762.7L205.1 779.8L206.0 769.0L207.0 770.8L207.9 765.5L208.8 778.0L209.7 779.1L210.7 777.8L211.6 760.4L212.5 760.6L213.4 758.1L214.3 769.7L215.3 772.4L216.2 783.8L217.1 773.2L218.0 769.2L219.0 761.7L219.9 761.8L220.8 755.5L221.7 761.4L222.6 761.0L223.6 770.5L224.5 761.6L225.4 770.7L226.3 766.3L227.3 769.4L228.2 765.9L229.1 772.7L230.0 763.1L230.9 771.8L231.9 759.1L232.8 772.8L233.7 758.6L234.6 758.4L235.6 758.5L236.5 773.6L237.4 767.5L238.3 775.1L239.2 767.1L240.2 773.0L241.1 759.7L242.0 773.5L242.9 759.9L243.9 772.5L244.8 767.9L245.7 775.1L246.6 761.6L247.5 748.1L248.5 728.2L249.4 748.3L250.3 760.6L251.2 773.1L252.2 774.0L253.1 772.7L254.0 759.1L254.9 772.9L255.9 759.6L256.8 776.2L257.7 778.0L258.6 775.4L259.5 756.0L260.5 764.1L261.4 757.7L262.3 763.5L263.2 756.2L264.2 756.8L265.1 754.2L266.0 757.4L266.9 758.4L267.8 773.5L268.8 757.3L269.7 779.0L270.6 783.8L271.5 780.0L272.5 759.1L273.4 774.6L274.3 758.9L275.2 774.8L276.1 762.6L277.1 754.6L278.0 750.5L278.9 764.4L279.8 758.7L280.8 778.6L281.7 762.5L282.6 777.5L283.5 772.3L284.4 778.0L285.4 761.6L286.3 779.3L287.2 759.3L288.1 773.4L289.1 773.8L290.0 765.9L290.9 757.0L291.8 774.7L292.7 772.9L293.7 783.1L294.6 773.7L295.5 775.2L296.4 763.0L297.4 774.7L298.3 758.9L299.2 776.2L300.1 759.5L301.0 765.2L302.0 756.3L302.9 776.9L303.8 778.7L304.7 777.6L305.7 758.8L306.6 775.4L307.5 761.2L308.4 776.8L309.3 761.8L310.3 774.8L311.2 763.5L312.1 773.7L313.0 767.9L314.0 772.5L314.9 757.9L315.8 774.4L316.7 754.2L317.7 749.8L318.6 754.9L319.5 758.4L320.4 760.6L321.3 775.4L322.3 777.5L323.2 792.4L324.1 777.6L325.0 774.6L326.0 758.6L326.9 773.5L327.8 757.4L328.7 756.3L329.6 767.4L330.6 777.6L331.5 759.9L332.4 777.9L333.3 765.1L334.3 779.3L335.2 778.0L336.1 777.9L337.0 765.1L337.9 780.1L338.9 761.9L339.8 780.1L340.7 764.2L341.6 774.8L342.6 783.8L343.5 780.6L344.4 761.2L345.3 771.7L346.2 767.8L347.2 779.6L348.1 773.3L349.0 783.1L349.9 781.0L350.9 778.3L351.8 764.6L352.7 770.9L353.6 755.5L354.5 754.6L355.5 741.8L356.4 753.8L357.3 751.8L358.2 759.4L359.2 743.5L360.1 761.7L361.0 747.2L361.9 760.9L362.8 763.6L363.8 755.7L364.7 745.7L365.6 761.9L366.5 757.8L367.5 757.7L368.4 739.6L369.3 733.2L370.2 738.2L371.2 761.6L372.1 752.6L373.0 757.9L373.9 752.9L374.8 746.1L375.8 748.4L376.7 748.3L377.6 749.0L378.5 760.0L379.5 746.4L380.4 770.9L381.3 751.3L382.2 771.4L383.1 765.4L384.1 778.0L385.0 765.7L385.9 755.1L386.8 752.9L387.8 772.8L388.7 770.2L389.6 768.6L390.5 752.3L391.4 755.2L392.4 744.7L393.3 755.4L394.2 770.1L395.1 768.9L396.1 765.9L397.0 778.0L397.9 766.8L398.8 770.3L399.7 753.7L400.7 771.9L401.6 754.3L402.5 769.0L403.4 750.8L404.4 770.4L405.3 749.7L406.2 768.1L407.1 748.8L408.0 746.2L409.0 765.0L409.9 776.6L410.8 746.6L411.7 741.8L412.7 745.5L413.6 768.7L414.5 748.9L415.4 772.5L416.3 776.6L417.3 774.0L418.2 748.6L419.1 771.0L420.0 746.9L421.0 743.3L421.9 747.2L422.8 773.3L423.7 775.5L424.6 791.7L425.6 775.2L426.5 772.3L427.4 756.9L428.3 772.5L429.3 756.7L430.2 780.3L431.1 783.8L432.0 779.1L433.0 773.3L433.9 774.8L434.8 764.6L435.7 758.4L436.6 755.3L437.6 758.2L438.5 756.2L439.4 776.9L440.3 755.3L441.3 771.4L442.2 754.3L443.1 776.0L444.0 778.0L444.9 773.6L445.9 753.9L446.8 748.3L447.7 754.6L448.6 776.0L449.6 763.7L450.5 774.5L451.4 762.6L452.3 772.6L453.2 762.6L454.2 775.7L455.1 761.6L456.0 775.0L456.9 775.1L457.9 774.8L458.8 753.8L459.7 770.7L460.6 754.1L461.5 774.5L462.5 753.8L463.4 773.2L464.3 755.3L465.2 774.3L466.2 753.6L467.1 765.9L468.0 759.1L468.9 772.8L469.8 766.5L470.8 778.0L471.7 768.1L472.6 770.6L473.5 769.2L474.5 773.1L475.4 755.1L476.3 771.1L477.2 750.0L478.1 746.9L479.1 750.7L480.0 772.5L480.9 754.0L481.8 757.4L482.8 756.8L483.7 756.7L484.6 746.5L485.5 767.7L486.5 771.6L487.4 788.1L488.3 748.9L489.2 750.1L490.1 734.6L491.1 748.7L492.0 751.3L492.9 773.8L493.8 780.9L494.8 775.1L495.7 751.5L496.6 767.4L497.5 749.1L498.4 764.2L499.4 741.4L500.3 733.2L501.2 740.3L502.1 768.6L503.1 764.8L504.0 776.6L504.9 766.4L505.8 768.7L506.7 755.2L507.7 770.5L508.6 745.0L509.5 741.1L510.4 745.5L511.4 768.1L512.3 768.7L513.2 783.1L514.1 768.1L515.0 770.1L516.0 749.6L516.9 767.0L517.8 746.7L518.7 744.7L519.7 747.3L520.6 768.1L521.5 749.8L522.4 769.5L523.3 768.3L524.3 770.1L525.2 749.4L526.1 768.9L527.0 753.8L528.0 767.5L528.9 770.2L529.8 770.4L530.7 766.2L531.6 775.9L532.6 765.7L533.5 755.5L534.4 752.1L535.3 754.3L536.3 750.0L537.2 770.6L538.1 755.5L539.0 767.9L539.9 751.2L540.9 758.9L541.8 751.9L542.7 757.0L543.6 764.4L544.6 769.4L545.5 762.3L546.4 770.4L547.3 751.5L548.3 746.9L549.2 751.3L550.1 772.5L551.0 755.4L551.9 771.3L552.9 755.4L553.8 772.1L554.7 757.0L555.6 774.3L556.6 758.9L557.5 771.7L558.4 756.7L559.3 775.4L560.2 778.0L561.2 775.8L562.1 773.1L563.0 774.1L563.9 755.7L564.9 763.0L565.8 753.4L566.7 761.7L567.6 759.5L568.5 772.3L569.5 755.7L570.4 775.9L571.3 755.7L572.2 773.5L573.2 774.4L574.1 774.7L575.0 757.0L575.9 755.1L576.8 768.5L577.8 778.0L578.7 768.9L579.6 774.4L580.5 755.2L581.5 769.6L582.4 765.6L583.3 756.5L584.2 777.0L585.1 781.6L586.1 769.8L587.0 774.6L587.9 753.7L588.8 773.6L589.8 752.8L590.7 772.2L591.6 756.5L592.5 774.2L593.4 752.4L594.4 759.3L595.3 748.3L596.2 752.7L597.1 763.8L598.1 772.3L599.0 763.0L599.9 765.9L600.8 750.3L601.8 768.9L602.7 753.2L603.6 758.0L604.5 747.6L605.4 757.6L606.4 750.6L607.3 752.7L608.2 751.0L609.1 767.9L610.1 751.8L611.0 767.3L611.9 769.4L612.8 766.9L613.7 744.3L614.7 762.8L615.6 760.8L616.5 755.3L617.4 771.3L618.4 786.7L619.3 770.5L620.2 773.3L621.1 770.1L622.0 772.1L623.0 753.3L623.9 751.2L624.8 737.5L625.7 769.3L626.7 754.4L627.6 772.3L628.5 750.8L629.4 771.2L630.3 753.9L631.3 773.2L632.2 752.3L633.1 780.6L634.0 787.4L635.0 776.3L635.9 748.4L636.8 752.1L637.7 740.4L638.6 750.5L639.6 749.5L640.5 765.2L641.4 757.9L642.3 764.6L643.3 746.9L644.2 745.5L645.1 747.1L646.0 764.0L646.9 749.2L647.9 766.1L648.8 746.8L649.7 770.7L650.6 773.7L651.6 769.7L652.5 751.1L653.4 749.6L654.3 736.1L655.2 768.4L656.2 769.2L657.1 783.8L658.0 769.3L658.9 768.9L659.9 771.0L660.8 751.3L661.7 751.6L662.6 767.3L663.6 755.0L664.5 768.7L665.4 751.7L666.3 757.7L667.2 758.3L668.2 773.8L669.1 762.7L670.0 765.1L670.9 762.2L671.9 779.9L672.8 760.7L673.7 776.8L674.6 755.0L675.5 748.3L676.5 756.7L677.4 782.6L678.3 766.3L679.2 779.7L680.2 777.4L681.1 788.8L682.0 778.9L682.9 780.5L683.8 776.1L684.8 779.8L685.7 761.1L686.6 773.5L687.5 770.7L688.5 774.1L689.4 758.3L690.3 777.8L691.2 763.3L692.1 776.1L693.1 778.4L694.0 792.4L694.9 778.2L695.8 780.6L696.8 779.3L697.7 761.5L698.6 755.9L699.5 761.1L700.4 750.5L701.4 761.5L702.3 755.7L703.2 773.3L704.1 757.3L705.1 772.5L706.0 754.7L706.9 771.7L707.8 754.2L708.7 779.3L709.7 783.8L710.6 767.6L711.5 748.5L712.4 747.6L713.4 749.5L714.3 767.8L715.2 770.8L716.1 768.2L717.1 748.6L718.0 766.2L718.9 738.6L719.8 731.0L720.7 739.4L721.7 761.8L722.6 759.9L723.5 769.4L724.4 759.2L725.4 765.4L726.3 744.1L727.2 741.1L728.1 750.8L729.0 763.0L730.0 749.4L730.9 748.4L731.8 745.5L732.7 756.5L733.7 747.6L734.6 749.0L735.5 752.4L736.4 765.9L737.3 750.7L738.3 752.9L739.2 752.4L740.1 752.4L741.0 753.1L742.0 773.4L742.9 778.7L743.8 770.1L744.7 750.1L745.6 753.4L746.6 749.9L747.5 767.8L748.4 757.7L749.3 763.6L750.3 746.6L751.2 744.0L752.1 746.6L753.0 770.6L753.9 753.9L754.9 768.5L755.8 753.1L756.7 765.7L757.6 763.5L758.6 772.3L759.5 762.0L760.4 749.2L761.3 766.7L762.2 765.4L763.2 750.8L764.1 747.6L765.0 750.5L765.9 769.6L766.9 753.0L767.8 767.9L768.7 751.3L769.6 772.1L770.5 764.1L771.5 778.0L772.4 772.1L773.3 766.8L774.2 745.8L775.2 770.7L776.1 778.0L777.0 773.0L777.9 746.6L778.9 764.2L779.8 734.2L780.7 724.6L781.6 734.7L782.5 765.2L783.5 746.6L784.4 764.9L785.3 743.0L786.2 756.6L787.2 756.4L788.1 758.9L789.0 736.0L789.9 733.2L790.8 737.3L791.8 758.4L792.7 744.8L793.6 760.6L794.5 744.7L795.5 762.2L796.4 742.3L797.3 759.3L798.2 738.2L799.1 767.9L800.1 756.2L801.0 760.2L801.9 743.3L802.8 763.2L803.8 744.0L804.7 760.5L805.6 744.3L806.5 764.5L807.4 753.5L808.4 747.6L809.3 744.4L810.2 761.8L811.1 747.2L812.1 763.8L813.0 748.1L813.9 761.3L814.8 744.2L815.7 745.9L816.7 761.1L817.6 775.9L818.5 761.8L819.4 763.8L820.4 743.9L821.3 739.7L822.2 742.6L823.1 761.0L824.0 739.5L825.0 758.8L825.9 744.6L826.8 759.6L827.7 735.4L828.7 731.8L829.6 743.1L830.5 761.6L831.4 756.7L832.4 758.2L833.3 746.3L834.2 757.1L835.1 731.3L836.0 723.1L837.0 756.3L837.9 770.1L838.8 757.7L839.7 756.1L840.7 740.8L841.6 742.4L842.5 730.3L843.4 734.6L844.3 743.6L845.3 756.8L846.2 757.6L847.1 759.4L848.0 756.5L849.0 770.1L849.9 740.2L850.8 743.2L851.7 741.8L852.6 751.4L853.6 748.8L854.5 748.8L855.4 748.2L856.3 766.7L857.3 746.7L858.2 765.1L859.1 761.3L860.0 770.1L860.9 760.4L861.9 751.4L862.8 746.9L863.7 758.4L864.6 750.5L865.6 757.3L866.5 749.6L867.4 763.1L868.3 750.9L869.2 767.9L870.2 751.0L871.1 766.5L872.0 751.4L872.9 747.3L873.9 744.7L874.8 747.3L875.7 735.6L876.6 747.2L877.5 726.5L878.5 729.3L879.4 752.1L880.3 720.2L881.2 722.3L882.2 746.9L883.1 725.9L884.0 745.7L884.9 729.7L885.8 723.0L886.8 707.3L887.7 723.4L888.6 725.5L889.5 744.2L890.5 730.1L891.4 745.9L892.3 730.3L893.2 720.2L894.2 724.5L895.1 743.7L896.0 741.8L896.9 750.7L897.8 743.0L898.8 751.0L899.7 733.2L900.6 750.2L901.5 763.3L902.5 775.1L903.4 734.1L904.3 733.2L905.2 735.9L906.1 759.1L907.1 757.9L908.0 758.2L908.9 739.9L909.8 761.9L910.8 758.1L911.7 760.4L912.6 763.6L913.5 759.4L914.4 757.0L915.4 757.4L916.3 759.2L917.2 762.2L918.1 767.0L919.1 767.8L920.0 751.5L920.9 749.8L921.8 732.6L922.7 739.5L923.7 730.1L924.6 734.0L925.5 733.2L926.4 731.5L927.4 717.9L928.3 731.6L929.2 734.7L930.1 751.9L931.0 735.1L932.0 725.3L932.9 703.5L933.8 724.7L934.7 734.8L935.7 755.5L936.6 758.4L937.5 756.2L938.4 731.0L939.3 745.4L940.3 739.1L941.2 754.0L942.1 734.0L943.0 754.0L944.0 739.2L944.9 744.5L945.8 736.7L946.7 752.6L947.7 757.5L948.6 772.8L949.5 758.6L950.4 744.6L951.3 739.0L952.3 731.6L953.2 738.0L954.1 761.5L955.0 750.2L956.0 751.2L956.9 764.3L957.8 766.2L958.7 743.5L959.6 739.5L960.6 744.0L961.5 765.5L962.4 758.7L963.3 772.8L964.3 759.1L965.2 750.4L966.1 740.8L967.0 748.3L967.9 750.5L968.9 748.2L969.8 746.2L970.7 752.3L971.6 742.4L972.6 762.2L973.5 750.0L974.4 751.2L975.3 749.1L976.2 760.7L977.2 733.7L978.1 725.9L979.0 744.5L979.9 771.4L980.9 777.9L981.8 772.0L982.7 765.5L983.6 765.0L984.5 743.5L985.5 739.5L986.4 736.7L987.3 746.1L988.2 740.1L989.2 759.8L990.1 740.5L991.0 755.6L991.9 745.1L992.8 764.8L993.8 760.4L994.7 772.1L995.6 756.5L996.5 739.3L997.5 723.7L998.4 731.9L999.3 740.4L1000.2 759.5L1001.1 744.7L1002.1 748.3L1003.0 742.0L1003.9 746.8L1004.8 736.7L1005.8 761.2L1006.7 753.5L1007.6 764.2L1008.5 754.2L1009.5 760.2L1010.4 745.1L1011.3 753.7L1012.2 748.2L1013.1 754.1L1014.1 744.3L1015.0 763.3L1015.9 759.8L1016.8 771.4L1017.8 760.9L1018.7 763.5L1019.6 742.4L1020.5 739.5L1021.4 741.6L1022.4 765.7L1023.3 770.2L1024.2 787.9L1025.1 745.6L1026.1 749.6L1027.0 738.1L1027.9 748.9L1028.8 745.5L1029.7 765.5L1030.7 747.2L1031.6 764.5L1032.5 758.8L1033.4 771.4L1034.4 758.8L1035.3 766.1L1036.2 750.5L1037.1 739.5L1038.0 744.4L1039.0 762.3L1039.9 751.2L1040.8 759.0L1041.7 737.3L1042.7 732.3L1043.6 735.0L1044.5 727.9L1045.4 722.7L1046.3 716.4L1047.3 706.2L1048.2 693.2L1049.1 681.5L1050.0 672.9L1051.0 661.8L1051.9 653.7L1052.8 651.4L1053.7 658.0L1054.6 672.9L1055.6 693.7L1056.5 716.4L1057.4 724.6L1058.3 733.7L1059.3 741.3L1060.2 755.3L1061.1 758.4L1062.0 746.7L1063.0 749.2L1063.9 731.4L1064.8 727.3L1065.7 730.0L1066.6 749.4L1067.6 735.1L1068.5 752.7L1069.4 754.1L1070.3 755.7L1071.3 751.0L1072.2 756.6L1073.1 749.8L1074.0 749.2L1074.9 749.5L1075.9 748.2L1076.8 748.6L1077.7 768.9L1078.6 750.8L1079.6 765.7L1080.5 765.5L1081.4 777.1L1082.3 765.1L1083.2 768.8L1084.2 750.8L1085.1 748.2L1086.0 750.1L1086.9 752.6L1087.9 735.5L1088.8 725.9L1089.7 738.3L1090.6 769.4L1091.5 762.3L1092.5 772.1L1093.4 762.6L1094.3 769.8L1095.2 753.6L1096.2 756.6L1097.1 745.3L1098.0 744.9L1098.9 749.5L1099.8 747.7L1100.8 751.3L1101.7 750.4L1102.6 754.0L1103.5 757.6L1104.5 758.1L1105.4 761.7L1106.3 766.1L1107.2 769.2L1108.1 773.4L1109.1 774.3L1110.0 766.1L1110.9 770.6L1111.8 751.7L1112.8 751.1L1113.7 752.8L1114.6 769.2L1115.5 755.4L1116.4 769.2L1117.4 754.3L1118.3 773.6L1119.2 775.0L1120.1 770.8L1121.1 754.5L1122.0 753.2L1122.9 753.1L1123.8 769.7L1124.8 754.2L1125.7 772.0L1126.6 776.0L1127.5 775.1L1128.4 767.8L1129.4 778.6L1130.3 766.1L1131.2 772.5L1132.1 756.2L1133.1 768.1L1134.0 751.0L1134.9 757.0L1135.8 745.3L1136.7 771.7L1137.7 765.6L1138.6 777.9L1139.5 766.4L1140.4 768.4L1141.4 768.0L1142.3 752.6L1143.2 751.3L1144.1 759.5L1145.0 748.3L1146.0 746.7L1146.9 748.0L1147.8 761.3L1148.7 747.0L1149.7 762.8L1150.6 764.2L1151.5 735.2L1152.4 740.6L1153.3 762.1L1154.3 761.5L1155.2 757.9L1156.1 741.9L1157.0 760.7L1158.0 748.3L1158.9 747.4L1159.8 741.3L1160.7 738.8L1161.6 698.4L1162.6 695.2L1163.5 687.9L1164.4 681.2L1165.3 674.7L1166.3 669.6L1167.2 658.0L1168.1 647.2L1169.0 636.5L1169.9 626.4L1170.9 602.7L1171.8 587.5L1172.7 564.2L1173.6 561.5L1174.6 566.2L1175.5 577.4L1176.4 576.5L1177.3 573.4L1178.3 570.2L1179.2 565.6L1180.1 564.4L1181.0 580.3L1181.9 592.3L1182.9 606.7L1183.8 626.4L1184.7 638.3L1185.6 657.6L1186.6 669.6L1187.5 688.0L1188.4 701.3L1189.3 707.8L1190.2 714.5L1191.2 720.6L1192.1 727.2L1193.0 731.3L1193.9 734.5L1194.9 738.4L1195.8 742.5L1196.7 744.5L1197.6 782.0L1198.5 736.7L1199.5 749.5L1200.4 744.4L1201.3 766.8L1202.2 761.8L1203.2 770.5L1204.1 763.1L1205.0 743.3L1205.9 733.5L1206.8 727.2L1207.8 723.9L1208.7 716.2L1209.6 714.9L1210.5 717.6L1211.5 736.4L1212.4 749.8L1213.3 756.0L1214.2 776.3L1215.1 773.8L1216.1 771.3L1217.0 756.7L1217.9 771.4L1218.8 755.8L1219.8 757.4L1220.7 766.0L1221.6 771.9L1222.5 773.4L1223.4 765.8L1224.4 759.5L1225.3 762.3L1226.2 754.5L1227.1 760.7L1228.1 768.3L1229.0 769.4L1229.9 763.0L1230.8 767.6L1231.7 759.6L1232.7 727.0L1233.6 723.3L1234.5 716.1L1235.4 713.0L1236.4 685.4L1237.3 665.8L1238.2 655.0L1239.1 579.3L1240.1 530.0L1241.0 481.7L1241.9 435.0L1242.8 388.8L1243.7 330.0L1244.7 315.1L1245.6 285.0L1246.5 259.4L1247.4 211.6L1248.4 152.3L1249.3 178.2L1250.2 214.4L1251.1 250.3L1252.0 285.0L1253.0 299.5L1253.9 313.8L1254.8 330.0L1255.7 378.9L1256.7 440.1L1257.6 530.0L1258.5 550.5L1259.4 588.7L1260.3 627.3L1261.3 655.0L1262.2 734.5L1263.1 735.8L1264.0 738.5L1265.0 741.7L1265.9 744.3L1266.8 747.4L1267.7 750.3L1268.6 753.3L1269.6 756.6L1270.5 760.2L1271.4 763.2L1272.3 767.2L1273.3 769.2L1274.2 771.7L1275.1 773.4L1276.0 759.4L1276.9 758.8L1277.9 757.4L1278.8 769.9L1279.7 760.7L1280.6 757.8L1281.6 761.3L1282.5 761.9L1283.4 761.0L1284.3 769.3L1285.2 757.4L1286.2 762.8L1287.1 756.0L1288.0 761.7L1288.9 759.0L1289.9 772.2L1290.8 748.2L1291.7 765.7L1292.6 790.7L1293.6 781.2L1294.5 741.1L1295.4 727.2L1296.3 724.2L1297.2 721.9L1298.2 721.4L1299.1 715.8L1300.0 710.4L1300.9 715.7L1301.9 708.7L1302.8 708.4L1303.7 715.4L1304.6 716.5L1305.5 717.2L1306.5 716.4L1307.4 702.3L1308.3 695.5L1309.2 699.7L1310.2 711.3L1311.1 708.7L1312.0 717.2L1312.9 715.7L1313.8 732.2L1314.8 747.5L1315.7 725.2L1316.6 715.0L1317.5 696.8L1318.5 681.8L1319.4 700.1L1320.3 702.7L1321.2 702.8L1322.1 695.9L1323.1 694.0L1324.0 698.8L1324.9 720.9L1325.8 704.6L1326.8 726.3L1327.7 731.6L1328.6 725.7L1329.5 702.0L1330.4 721.4L1331.4 698.3L1332.3 724.4L1333.2 727.5L1334.1 692.6L1335.1 769.1L1336.0 755.3L1336.9 719.9L1337.8 739.2L1338.7 726.4L1339.7 738.0L1340.6 730.0L1341.5 747.4L1342.4 745.3L1343.4 753.2L1344.3 742.3L1345.2 754.6L1346.1 751.6L1347.0 756.4L1348.0 748.6L1348.9 764.7L1349.8 763.9L1350.7 777.7L1351.7 762.9L1352.6 764.3L1353.5 749.4L1354.4 749.4L1355.4 743.8L1356.3 741.6L1357.2 752.6L1358.1 768.1L1359.0 736.8L1360.0 753.3L1360.9 730.3L1361.8 722.8L1362.7 730.8L1363.7 738.5L1364.6 740.7L1365.5 754.4L1366.4 737.8L1367.3 755.7L1368.3 738.2L1369.2 755.5L1370.1 718.7L1371.0 701.2L1372.0 702.5L1372.9 713.8L1373.8 720.1L1374.7 727.2L1375.6 732.6L1376.6 741.3L1377.5 747.2L1378.4 754.4L1379.3 767.3L1380.3 772.0L1381.2 753.8L1382.1 749.4L1383.0 730.9L1383.9 733.8L1384.9 721.4L1385.8 736.9L1386.7 740.1L1387.6 753.2L1388.6 743.0L1389.5 746.0L1390.4 736.6L1391.3 744.4L1392.2 741.6L1393.2 741.9L1394.1 748.5L1395.0 761.9L1395.9 743.2L1396.9 735.5L1397.8 730.0L1398.7 746.6L1399.6 740.4L1400.5 746.0L1401.5 740.7L1402.4 747.8L1403.3 731.7L1404.2 730.0L1405.2 738.6L1406.1 748.9L1407.0 741.8L1407.9 750.4L1408.9 744.9L1409.8 754.2L1410.7 736.6L1411.6 740.6L1412.5 727.1L1413.5 744.5L1414.4 751.8L1415.3 766.9L1416.2 782.0L1417.2 728.9L1418.1 773.0L1419.0 792.4L1419.9 774.3L1420.8 772.7L1421.8 771.0L1422.7 772.8L1423.6 780.6L1424.5 796.7L1425.5 787.7L1426.4 776.6L1427.3 760.1L1428.2 759.1L1429.1 762.6L1430.1 766.0L1431.0 777.3L1431.9 788.1L1432.8 772.6L1433.8 763.5L1434.7 763.3L1435.6 786.5L1436.5 788.8L1437.4 785.4L1438.4 763.3L1439.3 783.7L1440.2 774.0L1441.1 773.2L1442.1 755.3L1443.0 774.2L1443.9 747.4L1444.8 739.0L1445.7 744.3L1446.7 769.1L1447.6 772.1L1448.5 755.0L1449.4 753.0L1450.4 770.0L1451.3 744.8L1452.2 739.0L1453.1 743.8L1454.0 771.1L1455.0 753.3L1455.9 767.9L1456.8 748.9L1457.7 777.0L1458.7 783.1L1459.6 780.3L1460.5 757.7L1461.4 776.1L1462.3 754.3L1463.3 750.5L1464.2 754.1L1465.1 759.3L1466.0 755.4L1467.0 769.0L1467.9 780.9L1468.8 771.3L1469.7 759.4L1470.7 756.2L1471.6 771.1L1472.5 760.6L1473.4 753.4L1474.3 772.2L1475.3 760.5L1476.2 763.6L1477.1 761.5L1478.0 771.5L1479.0 749.7L1479.9 744.7L1480.8 749.4L1481.7 769.8L1482.6 772.4L1483.6 768.4L1484.5 775.9L1485.4 773.7L1486.3 755.0L1487.3 761.7L1488.2 753.4L1489.1 762.1L1490.0 757.1L1490.9 774.2L1491.9 768.3L1492.8 778.0L1493.7 769.4L1494.6 775.2L1495.6 755.3L1496.5 766.3L1497.4 761.3L1498.3 767.3L1499.2 763.5L1500.2 775.6L1501.1 776.2L1502.0 778.2L1502.9 766.1L1503.9 777.0L1504.8 773.3L1505.7 781.6L1506.6 773.5L1507.5 763.4L1508.5 766.0L1509.4 776.6L1510.3 763.3L1511.2 779.5L1512.2 765.8L1513.1 770.5L1514.0 764.9L1514.9 776.9L1515.8 779.2L1516.8 792.4L1517.7 786.9L1518.6 778.3L1519.5 756.5L1520.5 755.5L1521.4 757.9L1522.3 775.4L1523.2 757.5L1524.2 776.2L1525.1 760.9L1526.0 780.1L1526.9 781.6L1527.8 780.6L1528.8 776.9L1529.7 773.0L1530.6 773.1L1531.5 770.5L1532.5 766.4L1533.4 761.2L1534.3 755.8L1535.2 750.6L1536.1 744.6L1537.1 742.0L1538.0 734.8L1538.9 731.8L1539.8 737.1L1540.8 760.6L1541.7 746.2L1542.6 761.5L1543.5 742.0L1544.4 761.0L1545.4 742.1L1546.3 763.3L1547.2 739.1L1548.1 733.9L1549.1 745.6L1550.0 759.6L1550.9 744.9L1551.8 760.0L1552.7 759.2L1553.7 770.8L1554.6 758.6L1555.5 773.5L1556.4 758.4L1557.4 762.7L1558.3 753.4L1559.2 762.9L1560.1 755.2L1561.0 757.0L1562.0 772.4L1562.9 783.8L1563.8 772.9L1564.7 775.8L1565.7 778.7L1566.6 791.7L1567.5 776.9L1568.4 774.5L1569.3 761.2L1570.3 748.3L1571.2 752.8L1572.1 775.5L1573.0 761.2L1574.0 774.5L1574.9 771.9L1575.8 783.8L1576.7 775.8L1577.6 785.8L1578.6 765.2L1579.5 781.2L1580.4 768.1L1581.3 770.8L1582.3 761.3L1583.2 771.9L1584.1 765.7L1585.0 764.8L1586.0 767.2L1586.9 781.1L1587.8 778.6L1588.7 787.4L1589.6 778.1L1590.6 779.9L1591.5 767.1L1592.4 777.4L1593.3 775.0L1594.3 777.3L1595.2 768.0L1596.1 785.5L1597.0 786.7L1597.9 784.5L1598.9 762.6L1599.8 780.6L1600.7 778.3L1601.6 781.8L1602.6 759.6L1603.5 757.7L1604.4 760.5L1605.3 778.5L1606.2 776.9L1607.2 788.1L1608.1 776.8L1609.0 779.3L1609.9 764.9L1610.9 778.8L1611.8 757.1L1612.7 751.2L1613.6 755.0L1614.5 774.0L1615.5 763.2L1616.4 772.4L1617.3 767.9L1618.2 772.9L1619.2 757.8L1620.1 766.4L1621.0 752.4L1621.9 764.9L1622.8 752.7L1623.8 762.9L1624.7 746.9L1625.6 772.1L1626.5 780.2L1627.5 748.3L1628.4 744.4L1629.3 741.1L1630.2 747.2L1631.1 752.3L1632.1 752.1L1633.0 751.2L1633.9 742.9L1634.8 744.7L1635.8 743.5L1636.7 752.1L1637.6 753.5L1638.5 752.7L1639.5 744.3L1640.4 750.2L1641.3 735.8L1642.2 728.9L1643.1 736.5L1644.1 751.3L1645.0 746.2L1645.9 752.7L1646.8 746.3L1647.8 764.1L1648.7 766.5L1649.6 764.0L1650.5 748.2L1651.4 749.5L1652.4 750.6L1653.3 763.6L1654.2 750.0L1655.1 744.7L1656.1 751.7L1657.0 776.6L1657.9 759.4L1658.8 786.9L1659.7 783.8L1660.7 788.1L1661.6 783.5L1662.5 786.2L1663.4 777.1L1664.4 783.7L1665.3 780.7L1666.2 782.5L1667.1 778.1L1668.0 789.4L1669.0 792.4L1669.9 790.0L1670.8 778.3L1671.7 786.6L1672.7 776.1L1673.6 775.0L1674.5 775.3L1675.4 776.0L1676.3 778.8L1677.3 780.9L1678.2 778.4L1679.1 784.3L1680.0 773.7L1681.0 772.1L1681.9 772.7L1682.8 775.1L1683.7 776.3L1684.6 785.8L1685.6 788.1L1686.5 783.6L1687.4 759.8L1688.3 746.9L1689.3 759.9L1690.2 774.8L1691.1 779.8L1692.0 785.2L1692.9 764.4L1693.9 777.7L1694.8 775.0L1695.7 784.2L1696.6 781.0L1697.6 792.4L1698.5 780.5L1699.4 778.9L1700.3 766.4L1701.3 779.7L1702.2 765.7L1703.1 768.9L1704.0 757.7L1704.9 761.1L1705.9 774.3L1706.8 756.8L1707.7 738.7L1708.6 719.6L1709.6 707.1L1710.5 693.9L1711.4 676.4L1712.3 669.2L1713.2 660.4L1714.2 652.6L1715.1 647.6L1716.0 631.9L1716.9 626.0L1717.9 607.2L1718.8 611.1L1719.7 621.0L1720.6 626.0L1721.5 634.6L1722.5 643.6L1723.4 647.6L1724.3 665.6L1725.2 673.5L1726.2 682.1L1727.1 687.4L1728.0 693.7L1728.9 696.2L1729.8 700.4L1730.8 705.2L1731.7 718.1L1732.6 734.0L1733.5 744.1L1734.5 755.6L1735.4 767.4L1736.3 770.1L1737.2 768.4L1738.1 773.9L1739.1 766.4L1740.0 765.6L1740.9 766.7L1741.8 772.7L1742.8 776.2L1743.7 783.8L1744.6 767.5L1745.5 770.8L1746.4 765.6L1747.4 771.9L1748.3 770.3L1749.2 772.4L1750.1 774.4L1751.1 767.0L1752.0 767.1L1752.9 771.2L1753.8 759.4L1754.8 759.0L1755.7 761.4L1756.6 783.1L1757.5 749.8L1758.4 771.4L1759.4 758.2L1760.3 760.0L1761.2 756.2L1762.1 758.3L1763.1 742.6L1764.0 756.8L1764.9 755.0L1765.8 775.4L1766.7 759.8L1767.7 781.3L1768.6 786.7L1769.5 781.3L1770.4 757.4L1771.4 774.2L1772.3 765.9L1773.2 767.1L1774.1 767.1L1775.0 783.1L1776.0 765.7L1776.9 781.5L1777.8 777.9L1778.7 786.7L1779.7 778.9L1780.6 784.4L1781.5 765.3L1782.4 764.2L1783.3 784.1L1784.3 770.6L1785.2 759.9L1786.1 781.1L1787.0 772.1L1788.0 778.8L1788.9 784.2L1789.8 771.0L1790.7 762.7L1791.6 770.6L1792.6 762.9L1793.5 776.4L1794.4 763.7L1795.3 782.3L1796.3 788.8L1797.2 783.6L1798.1 754.2L1799.0 761.3L1799.9 752.7L1800.9 760.5L1801.8 756.3L1802.7 768.7L1803.6 743.6L1804.6 767.5L1805.5 774.4L1806.4 767.4L1807.3 741.7L1808.2 761.1L1809.2 734.6L1810.1 723.1L1811.0 745.1L1811.9 759.6L1812.9 738.4L1813.8 755.6L1814.7 736.3L1815.6 728.2L1816.6 734.6L1817.5 761.4L1818.4 740.9L1819.3 744.0L1820.2 762.3L1821.2 765.3L1822.1 768.7L1823.0 767.1L1823.9 754.1L1824.9 765.0L1825.8 764.2L1826.7 764.5L1827.6 766.6L1828.5 777.3L1829.5 772.2L1830.4 765.1L1831.3 759.6L1832.2 758.4L1833.2 759.7L1834.1 759.8L1835.0 767.2L1835.9 745.0L1836.8 727.5L1837.8 742.4L1838.7 746.3L1839.6 765.1L1840.5 750.4L1841.5 752.8L1842.4 750.6L1843.3 770.2L1844.2 748.2L1845.1 764.1L1846.1 740.8L1847.0 736.8L1847.9 748.0L1848.8 765.5L1849.8 748.7L1850.7 772.5L1851.6 751.3L1852.5 749.8L1853.4 752.7L1854.4 773.6L1855.3 774.4L1856.2 773.6L1857.1 756.1L1858.1 771.2L1859.0 771.3L1859.9 779.6L1860.8 760.9L1861.7 774.2L1862.7 768.5L1863.6 772.6L1864.5 764.8L1865.4 778.4L1866.4 760.6L1867.3 782.5L1868.2 764.9L1869.1 786.3L1870.1 791.7L1871.0 767.0L1871.9 757.0L1872.8 767.3L1873.7 761.0L1874.7 780.8L1875.6 760.7L1876.5 774.4L1877.4 786.0L1878.4 782.5L1879.3 772.3L1880.2 763.9L1881.1 758.3L1882.0 748.4L1883.0 741.0L1883.9 728.7L1884.8 725.3L1885.7 721.7L1886.7 716.2L1887.6 724.0L1888.5 721.4L1889.4 719.3L1890.3 696.6L1891.3 689.3L1892.2 701.1L1893.1 721.6L1894.0 714.2L1895.0 709.6L1895.9 714.0L1896.8 729.1L1897.7 737.7L1898.6 757.1L1899.6 739.2L1900.5 737.0L1901.4 719.7L1902.3 739.9L1903.3 744.0L1904.2 736.3L1905.1 743.4L1906.0 764.3L1906.9 764.8L1907.9 765.5L1908.8 768.3L1909.7 766.6L1910.6 767.0L1911.6 770.0L1912.5 772.9L1913.4 778.2L1914.3 784.4L1915.2 785.0L1916.2 788.0L1917.1 789.4L1918.0 787.6L1918.9 791.4L1919.9 793.7L1920.8 793.2L1921.7 779.4L1922.6 773.9L1923.5 760.1L1924.5 780.7L1925.4 760.8L1926.3 757.0L1927.2 762.8L1928.2 770.7L1929.1 769.3L1930.0 768.8L1930.9 768.7L1931.9 785.7L1932.8 775.1L1933.7 777.3L1934.6 773.9L1935.5 782.6L1936.5 768.9L1937.4 769.9L1938.3 770.6L1939.2 782.0L1940.2 769.1L1941.1 783.3L1942.0 779.8L1942.9 787.4L1943.8 780.3L1944.8 773.6L1945.7 774.3L1946.6 774.2L1947.5 767.1L1948.5 775.6L1949.4 774.2L1950.3 789.2L1951.2 772.9L1952.1 787.7L1953.1 775.4L1954.0 788.0L1954.9 785.5L1955.8 792.4L1956.8 774.5L1957.7 772.8L1958.6 774.8L1959.5 788.9L1960.4 774.4L1961.4 787.8L1962.3 775.5L1963.2 789.5L1964.1 791.7L1965.1 789.5L1966.0 786.6L1966.9 777.8L1967.8 775.8L1968.7 774.0L1969.7 780.0L1970.6 783.3L1971.5 780.4L1972.4 786.0L1973.4 773.7L1974.3 775.6L1975.2 764.5L1976.1 752.7L1977.0 757.0L1978.0 759.7L1978.9 757.9L1979.8 776.9L1980.7 760.0L1981.7 783.1L1982.6 786.0L1983.5 774.3L1984.4 747.5L1985.4 739.7L1986.3 745.8L1987.2 771.9L1988.1 762.3L1989.0 772.8L1990.0 764.1L1990.9 767.3L1991.8 752.2L1992.7 749.4L1993.7 741.1L1994.6 731.6L1995.5 733.8L1996.4 740.5L1997.3 746.1L1998.3 754.0L1999.2 758.2L2000.1 763.0L2001.0 770.4L2002.0 777.7L2002.9 781.5L2003.8 775.2L2004.7 749.9L2005.6 764.5L2006.6 749.9L2007.5 759.7L2008.4 750.4L2009.3 764.6L2010.3 768.7L2011.2 775.0L2012.1 768.2L2013.0 772.5L2013.9 747.2L2014.9 737.4L2015.8 748.3L2016.7 773.8L2017.6 770.8L2018.6 771.4L2019.5 765.7L2020.4 772.3L2021.3 759.3L2022.2 770.7L2023.2 760.9L2024.1 776.2L2025.0 757.9L2025.9 756.8L2026.9 757.8L2027.8 776.8L2028.7 758.3L2029.6 778.0L2030.5 780.0L2031.5 778.0L2032.4 758.3L2033.3 777.8L2034.2 759.0L2035.2 756.8L2036.1 776.9L2037.0 789.4L2037.9 775.7L2038.8 777.8L2039.8 758.4L2040.7 765.5L2041.6 762.3L2042.5 775.5L2043.5 769.4L2044.4 778.6L2045.3 769.8L2046.2 774.2L2047.2 754.4L2048.1 775.5L2049.0 758.7L2049.9 760.3L2050.8 750.3L2051.8 760.6L2052.7 755.9L2053.6 772.7L2054.5 753.6L2055.5 771.5L2056.4 767.8L2057.3 777.1L2058.2 756.9L2059.1 745.3L2060.1 746.9L2061.0 749.4L2061.9 752.9L2062.8 758.8L2063.8 760.2L2064.7 761.6L2065.6 767.1L2066.5 768.4L2067.4 772.0L2068.4 775.3L2069.3 780.3L2070.2 784.5L2071.1 791.7L2072.1 793.0L2073.0 762.6L2073.9 767.5L2074.8 771.2L2075.7 783.3L2076.7 778.7L2077.6 791.5L2078.5 767.3L2079.4 756.1L2080.4 760.9L2081.3 780.5L2082.2 763.6L2083.1 782.6L2084.0 785.8L2085.0 782.8L2085.9 757.9L2086.8 774.0L2087.7 758.5L2088.7 772.1L2089.6 749.8L2090.5 746.0L2091.4 753.0L2092.3 772.5L2093.3 762.7L2094.2 771.9L2095.1 771.5L2096.0 757.9L2097.0 744.6L2097.9 756.6L2098.8 755.5L2099.7 778.4L2100.7 781.5L2101.6 777.3L2102.5 754.0L2103.4 772.8L2104.3 765.5L2105.3 777.3L2106.2 763.4L2107.1 761.1L2108.0 761.9L2109.0 779.3L2109.9 779.7L2110.8 792.3L2111.7 780.0L2112.6 778.5L2113.6 764.7L2114.5 765.7L2115.4 764.5L2116.3 765.4L2117.3 763.7L2118.2 762.6L2119.1 769.5L2120.0 775.9L2120.9 769.1L2121.9 775.7L2122.8 769.8L2123.7 759.7L2124.6 748.5L2125.6 739.5L2126.5 773.7L2127.4 778.0L2128.3 780.0L2129.2 775.5L2130.2 750.7L2131.1 756.8L2132.0 750.7L2132.9 771.1L2133.9 783.4L2134.8 793.0L2135.7 775.5L2136.6 768.7L2137.5 747.9L2138.5 742.4L2139.4 731.7L2140.3 722.1L2141.2 711.7L2142.2 700.7L2143.1 696.4L2144.0 689.9L2144.9 687.7L2145.8 714.1L2146.8 722.2L2147.7 739.7L2148.6 724.1L2149.5 725.3L2150.5 722.9L2151.4 738.0L2152.3 723.4L2153.2 718.2L2154.1 712.8L2155.1 704.9L2156.0 695.6L2156.9 699.0L2157.8 711.8L2158.8 714.8L2159.7 725.2L2160.6 731.9L2161.5 738.4L2162.5 746.5L2163.4 758.8L2164.3 763.5L2165.2 730.8L2166.1 691.3L2167.1 688.4L2168.0 686.0L2168.9 680.5L2169.8 709.3L2170.8 696.4L2171.7 699.4L2172.6 683.7L2173.5 676.2L2174.4 709.4L2175.4 722.4L2176.3 666.0L2177.2 647.4L2178.1 653.2L2179.1 671.1L2180.0 682.0L2180.9 690.7L2181.8 703.2L2182.7 714.8L2183.7 731.9L2184.6 736.8L2185.5 726.8L2186.4 735.1L2187.4 749.1L2188.3 748.4L2189.2 710.7L2190.1 767.1L2191.0 753.1L2192.0 749.8L2192.9 733.8L2193.8 724.7L2194.7 716.5L2195.7 731.3L2196.6 735.2L2197.5 772.5L2198.4 792.3L2199.3 774.5L2200.3 747.0L2201.2 761.5L2202.1 742.7L2203.0 761.2L2204.0 768.5L2204.9 766.9L2205.8 759.9L2206.7 765.6L2207.6 770.7L2208.6 783.8L2209.5 751.7L2210.4 738.8L2211.3 740.3L2212.3 745.7L2213.2 749.9L2214.1 751.6L2215.0 757.1L2216.0 759.8L2216.9 780.0L2217.8 785.8L2218.7 780.8L2219.6 773.7L2220.6 765.5L2221.5 781.5L2222.4 787.8L2223.3 790.8L2224.3 786.8L2225.2 784.1L2226.1 767.2L2227.0 770.4L2227.9 761.1L2228.9 787.5L2229.8 781.1L2230.7 790.1L2231.6 779.6L2232.6 781.8L2233.5 769.1L2234.4 770.2L2235.3 760.4L2236.2 786.2L2237.2 783.8L2238.1 796.6L2239.0 782.8L2239.9 786.9L2240.9 773.9L2241.8 771.8L2242.7 772.0L2243.6 769.8L2244.5 770.5L2245.5 790.0L2246.4 789.4L2247.3 793.0L2248.2 794.3L2249.2 784.3L2250.1 778.9L2251.0 779.5L2251.9 775.5L2252.8 784.4L2253.8 790.7L2254.7 795.9L2255.6 787.6L2256.5 785.4L2257.5 775.9L2258.4 775.5L2259.3 776.5L2260.2 785.3L2261.1 782.9L2262.1 787.2L2263.0 783.6L2263.9 780.0L2264.8 779.4L2265.8 787.2L2266.7 779.1L2267.6 771.9L2268.5 774.1L2269.4 789.1L2270.4 785.8L2271.3 791.5L2272.2 786.1L2273.1 788.6L2274.1 777.0L2275.0 787.4L2275.9 788.2L2276.8 780.9L2277.8 775.5L2278.7 781.2L2279.6 778.0L2280.5 788.5L2281.4 778.8L2282.4 788.5L2283.3 789.7L2284.2 792.8L2285.1 789.5L2286.1 792.3L2287.0 785.1L2287.9 790.4L2288.8 784.6L2289.7 783.4L2290.7 784.7L2291.6 794.3L2292.5 786.8L2293.4 796.4L2294.4 792.5L2295.3 797.4L2296.2 789.7L2297.1 791.8L2298.0 781.8L2299.0 790.4L2299.9 771.3L2300.8 769.6L2301.7 779.4L2302.7 790.7L2303.6 787.6L2304.5 797.4L2305.4 772.6L2306.3 768.5L2307.3 771.2L2308.2 793.0L2309.1 777.8L2310.0 780.7L2311.0 770.8L2311.9 779.6L2312.8 774.2L2313.7 791.2L2314.6 792.8L2315.6 790.6L2316.5 773.4L2317.4 788.2L2318.3 775.3L2319.3 773.7L2320.2 780.0L2321.1 787.8L2322.0 775.2L2322.9 790.2L2323.9 785.0L2324.8 792.8L2325.7 787.6L2326.6 791.1L2327.6 779.0L2328.5 777.7L2329.4 779.4L2330.3 791.7L2331.3 779.4L2332.2 791.7L2333.1 786.5L2334.0 791.7L2334.9 785.9L2335.9 791.2L2336.8 790.5L2337.7 788.4L2338.6 788.1L2339.6 790.7L2340.5 786.2L2341.4 792.8L2342.3 785.0L2343.2 789.8L2344.2 774.4L2345.1 771.9L2346.0 774.6L2346.9 786.8L2347.9 784.7L2348.8 791.7L2349.7 776.0L2350.6 774.2L2351.5 774.5L2352.5 778.9L2353.4 780.6L2354.3 781.3L2354.6 781.3L2354.6 894.4Z" fill="#186ae0" stroke="none"/><path d="M52.0 747.5L52.9 751.5L53.8 769.4L54.8 750.1L55.7 731.0L56.6 728.7L57.5 742.7L58.5 714.6L59.4 704.4L60.3 716.4L61.2 728.0L62.1 728.9L63.1 726.7L64.0 711.6L64.9 726.9L65.8 729.8L66.8 762.5L67.7 776.6L68.6 762.7L69.5 730.1L70.4 747.6L71.4 729.2L72.3 746.7L73.2 728.7L74.1 750.1L75.1 735.0L76.0 754.7L76.9 716.2L77.8 700.8L78.7 716.6L79.7 753.0L80.6 749.7L81.5 762.2L82.4 754.6L83.4 763.6L84.3 749.7L85.2 745.8L86.1 746.5L87.1 751.1L88.0 741.8L88.9 752.0L89.8 749.2L90.7 767.6L91.7 747.9L92.6 765.2L93.5 772.0L94.4 789.5L95.4 746.3L96.3 748.3L97.2 734.6L98.1 739.6L99.0 749.4L100.0 764.9L100.9 748.6L101.8 765.7L102.7 726.9L103.7 708.7L104.6 726.5L105.5 767.8L106.4 747.0L107.3 768.0L108.3 742.1L109.2 734.6L110.1 750.2L111.0 764.5L112.0 778.0L112.9 772.7L113.8 750.1L114.7 768.7L115.6 751.8L116.6 752.3L117.5 760.6L118.4 749.4L119.3 753.3L120.3 770.7L121.2 766.1L122.1 770.2L123.0 766.8L123.9 780.2L124.9 744.2L125.8 740.4L126.7 745.1L127.6 769.4L128.6 750.9L129.5 752.8L130.4 736.8L131.3 725.3L132.2 736.7L133.2 769.9L134.1 772.8L135.0 786.7L135.9 770.4L136.9 768.5L137.8 750.4L138.7 770.4L139.6 759.0L140.6 776.4L141.5 759.9L142.4 757.2L143.3 758.2L144.2 777.5L145.2 760.7L146.1 760.6L147.0 771.1L147.9 783.1L148.9 773.9L149.8 778.5L150.7 763.5L151.6 781.6L152.5 756.2L153.5 750.5L154.4 757.4L155.3 776.0L156.2 764.2L157.2 774.8L158.1 763.2L159.0 777.2L159.9 763.5L160.8 765.5L161.8 778.0L162.7 778.7L163.6 757.0L164.5 767.3L165.5 762.0L166.4 759.0L167.3 757.3L168.2 772.4L169.1 755.9L170.1 770.1L171.0 759.4L171.9 755.4L172.8 771.3L173.8 773.8L174.7 774.2L175.6 775.1L176.5 775.4L177.4 775.6L178.4 765.1L179.3 774.0L180.2 762.9L181.1 753.4L182.1 758.7L183.0 773.9L183.9 762.2L184.8 775.3L185.7 770.0L186.7 776.6L187.6 769.2L188.5 773.9L189.4 760.1L190.4 772.1L191.3 768.2L192.2 764.9L193.1 759.7L194.0 772.8L195.0 776.3L195.9 788.8L196.8 777.6L197.7 774.0L198.7 763.0L199.6 772.2L200.5 760.5L201.4 757.0L202.4 767.6L203.3 781.3L204.2 762.7L205.1 779.8L206.0 769.0L207.0 770.8L207.9 765.5L208.8 778.0L209.7 779.1L210.7 777.8L211.6 760.4L212.5 760.6L213.4 758.1L214.3 769.7L215.3 772.4L216.2 783.8L217.1 773.2L218.0 769.2L219.0 761.7L219.9 761.8L220.8 755.5L221.7 761.4L222.6 761.0L223.6 770.5L224.5 761.6L225.4 770.7L226.3 766.3L227.3 769.4L228.2 765.9L229.1 772.7L230.0 763.1L230.9 771.8L231.9 759.1L232.8 772.8L233.7 758.6L234.6 758.4L235.6 758.5L236.5 773.6L237.4 767.5L238.3 775.1L239.2 767.1L240.2 773.0L241.1 759.7L242.0 773.5L242.9 759.9L243.9 772.5L244.8 767.9L245.7 775.1L246.6 761.6L247.5 748.1L248.5 728.2L249.4 748.3L250.3 760.6L251.2 773.1L252.2 774.0L253.1 772.7L254.0 759.1L254.9 772.9L255.9 759.6L256.8 776.2L257.7 778.0L258.6 775.4L259.5 756.0L260.5 764.1L261.4 757.7L262.3 763.5L263.2 756.2L264.2 756.8L265.1 754.2L266.0 757.4L266.9 758.4L267.8 773.5L268.8 757.3L269.7 779.0L270.6 783.8L271.5 780.0L272.5 759.1L273.4 774.6L274.3 758.9L275.2 774.8L276.1 762.6L277.1 754.6L278.0 750.5L278.9 764.4L279.8 758.7L280.8 778.6L281.7 762.5L282.6 777.5L283.5 772.3L284.4 778.0L285.4 761.6L286.3 779.3L287.2 759.3L288.1 773.4L289.1 773.8L290.0 765.9L290.9 757.0L291.8 774.7L292.7 772.9L293.7 783.1L294.6 773.7L295.5 775.2L296.4 763.0L297.4 774.7L298.3 758.9L299.2 776.2L300.1 759.5L301.0 765.2L302.0 756.3L302.9 776.9L303.8 778.7L304.7 777.6L305.7 758.8L306.6 775.4L307.5 761.2L308.4 776.8L309.3 761.8L310.3 774.8L311.2 763.5L312.1 773.7L313.0 767.9L314.0 772.5L314.9 757.9L315.8 774.4L316.7 754.2L317.7 749.8L318.6 754.9L319.5 758.4L320.4 760.6L321.3 775.4L322.3 777.5L323.2 792.4L324.1 777.6L325.0 774.6L326.0 758.6L326.9 773.5L327.8 757.4L328.7 756.3L329.6 767.4L330.6 777.6L331.5 759.9L332.4 777.9L333.3 765.1L334.3 779.3L335.2 778.0L336.1 777.9L337.0 765.1L337.9 780.1L338.9 761.9L339.8 780.1L340.7 764.2L341.6 774.8L342.6 783.8L343.5 780.6L344.4 761.2L345.3 771.7L346.2 767.8L347.2 779.6L348.1 773.3L349.0 783.1L349.9 781.0L350.9 778.3L351.8 764.6L352.7 770.9L353.6 755.5L354.5 754.6L355.5 741.8L356.4 753.8L357.3 751.8L358.2 759.4L359.2 743.5L360.1 761.7L361.0 747.2L361.9 760.9L362.8 763.6L363.8 755.7L364.7 745.7L365.6 761.9L366.5 757.8L367.5 757.7L368.4 739.6L369.3 733.2L370.2 738.2L371.2 761.6L372.1 752.6L373.0 757.9L373.9 752.9L374.8 746.1L375.8 748.4L376.7 748.3L377.6 749.0L378.5 760.0L379.5 746.4L380.4 770.9L381.3 751.3L382.2 771.4L383.1 765.4L384.1 778.0L385.0 765.7L385.9 755.1L386.8 752.9L387.8 772.8L388.7 770.2L389.6 768.6L390.5 752.3L391.4 755.2L392.4 744.7L393.3 755.4L394.2 770.1L395.1 768.9L396.1 765.9L397.0 778.0L397.9 766.8L398.8 770.3L399.7 753.7L400.7 771.9L401.6 754.3L402.5 769.0L403.4 750.8L404.4 770.4L405.3 749.7L406.2 768.1L407.1 748.8L408.0 746.2L409.0 765.0L409.9 776.6L410.8 746.6L411.7 741.8L412.7 745.5L413.6 768.7L414.5 748.9L415.4 772.5L416.3 776.6L417.3 774.0L418.2 748.6L419.1 771.0L420.0 746.9L421.0 743.3L421.9 747.2L422.8 773.3L423.7 775.5L424.6 791.7L425.6 775.2L426.5 772.3L427.4 756.9L428.3 772.5L429.3 756.7L430.2 780.3L431.1 783.8L432.0 779.1L433.0 773.3L433.9 774.8L434.8 764.6L435.7 758.4L436.6 755.3L437.6 758.2L438.5 756.2L439.4 776.9L440.3 755.3L441.3 771.4L442.2 754.3L443.1 776.0L444.0 778.0L444.9 773.6L445.9 753.9L446.8 748.3L447.7 754.6L448.6 776.0L449.6 763.7L450.5 774.5L451.4 762.6L452.3 772.6L453.2 762.6L454.2 775.7L455.1 761.6L456.0 775.0L456.9 775.1L457.9 774.8L458.8 753.8L459.7 770.7L460.6 754.1L461.5 774.5L462.5 753.8L463.4 773.2L464.3 755.3L465.2 774.3L466.2 753.6L467.1 765.9L468.0 759.1L468.9 772.8L469.8 766.5L470.8 778.0L471.7 768.1L472.6 770.6L473.5 769.2L474.5 773.1L475.4 755.1L476.3 771.1L477.2 750.0L478.1 746.9L479.1 750.7L480.0 772.5L480.9 754.0L481.8 757.4L482.8 756.8L483.7 756.7L484.6 746.5L485.5 767.7L486.5 771.6L487.4 788.1L488.3 748.9L489.2 750.1L490.1 734.6L491.1 748.7L492.0 751.3L492.9 773.8L493.8 780.9L494.8 775.1L495.7 751.5L496.6 767.4L497.5 749.1L498.4 764.2L499.4 741.4L500.3 733.2L501.2 740.3L502.1 768.6L503.1 764.8L504.0 776.6L504.9 766.4L505.8 768.7L506.7 755.2L507.7 770.5L508.6 745.0L509.5 741.1L510.4 745.5L511.4 768.1L512.3 768.7L513.2 783.1L514.1 768.1L515.0 770.1L516.0 749.6L516.9 767.0L517.8 746.7L518.7 744.7L519.7 747.3L520.6 768.1L521.5 749.8L522.4 769.5L523.3 768.3L524.3 770.1L525.2 749.4L526.1 768.9L527.0 753.8L528.0 767.5L528.9 770.2L529.8 770.4L530.7 766.2L531.6 775.9L532.6 765.7L533.5 755.5L534.4 752.1L535.3 754.3L536.3 750.0L537.2 770.6L538.1 755.5L539.0 767.9L539.9 751.2L540.9 758.9L541.8 751.9L542.7 757.0L543.6 764.4L544.6 769.4L545.5 762.3L546.4 770.4L547.3 751.5L548.3 746.9L549.2 751.3L550.1 772.5L551.0 755.4L551.9 771.3L552.9 755.4L553.8 772.1L554.7 757.0L555.6 774.3L556.6 758.9L557.5 771.7L558.4 756.7L559.3 775.4L560.2 778.0L561.2 775.8L562.1 773.1L563.0 774.1L563.9 755.7L564.9 763.0L565.8 753.4L566.7 761.7L567.6 759.5L568.5 772.3L569.5 755.7L570.4 775.9L571.3 755.7L572.2 773.5L573.2 774.4L574.1 774.7L575.0 757.0L575.9 755.1L576.8 768.5L577.8 778.0L578.7 768.9L579.6 774.4L580.5 755.2L581.5 769.6L582.4 765.6L583.3 756.5L584.2 777.0L585.1 781.6L586.1 769.8L587.0 774.6L587.9 753.7L588.8 773.6L589.8 752.8L590.7 772.2L591.6 756.5L592.5 774.2L593.4 752.4L594.4 759.3L595.3 748.3L596.2 752.7L597.1 763.8L598.1 772.3L599.0 763.0L599.9 765.9L600.8 750.3L601.8 768.9L602.7 753.2L603.6 758.0L604.5 747.6L605.4 757.6L606.4 750.6L607.3 752.7L608.2 751.0L609.1 767.9L610.1 751.8L611.0 767.3L611.9 769.4L612.8 766.9L613.7 744.3L614.7 762.8L615.6 760.8L616.5 755.3L617.4 771.3L618.4 786.7L619.3 770.5L620.2 773.3L621.1 770.1L622.0 772.1L623.0 753.3L623.9 751.2L624.8 737.5L625.7 769.3L626.7 754.4L627.6 772.3L628.5 750.8L629.4 771.2L630.3 753.9L631.3 773.2L632.2 752.3L633.1 780.6L634.0 787.4L635.0 776.3L635.9 748.4L636.8 752.1L637.7 740.4L638.6 750.5L639.6 749.5L640.5 765.2L641.4 757.9L642.3 764.6L643.3 746.9L644.2 745.5L645.1 747.1L646.0 764.0L646.9 749.2L647.9 766.1L648.8 746.8L649.7 770.7L650.6 773.7L651.6 769.7L652.5 751.1L653.4 749.6L654.3 736.1L655.2 768.4L656.2 769.2L657.1 783.8L658.0 769.3L658.9 768.9L659.9 771.0L660.8 751.3L661.7 751.6L662.6 767.3L663.6 755.0L664.5 768.7L665.4 751.7L666.3 757.7L667.2 758.3L668.2 773.8L669.1 762.7L670.0 765.1L670.9 762.2L671.9 779.9L672.8 760.7L673.7 776.8L674.6 755.0L675.5 748.3L676.5 756.7L677.4 782.6L678.3 766.3L679.2 779.7L680.2 777.4L681.1 788.8L682.0 778.9L682.9 780.5L683.8 776.1L684.8 779.8L685.7 761.1L686.6 773.5L687.5 770.7L688.5 774.1L689.4 758.3L690.3 777.8L691.2 763.3L692.1 776.1L693.1 778.4L694.0 792.4L694.9 778.2L695.8 780.6L696.8 779.3L697.7 761.5L698.6 755.9L699.5 761.1L700.4 750.5L701.4 761.5L702.3 755.7L703.2 773.3L704.1 757.3L705.1 772.5L706.0 754.7L706.9 771.7L707.8 754.2L708.7 779.3L709.7 783.8L710.6 767.6L711.5 748.5L712.4 747.6L713.4 749.5L714.3 767.8L715.2 770.8L716.1 768.2L717.1 748.6L718.0 766.2L718.9 738.6L719.8 731.0L720.7 739.4L721.7 761.8L722.6 759.9L723.5 769.4L724.4 759.2L725.4 765.4L726.3 744.1L727.2 741.1L728.1 750.8L729.0 763.0L730.0 749.4L730.9 748.4L731.8 745.5L732.7 756.5L733.7 747.6L734.6 749.0L735.5 752.4L736.4 765.9L737.3 750.7L738.3 752.9L739.2 752.4L740.1 752.4L741.0 753.1L742.0 773.4L742.9 778.7L743.8 770.1L744.7 750.1L745.6 753.4L746.6 749.9L747.5 767.8L748.4 757.7L749.3 763.6L750.3 746.6L751.2 744.0L752.1 746.6L753.0 770.6L753.9 753.9L754.9 768.5L755.8 753.1L756.7 765.7L757.6 763.5L758.6 772.3L759.5 762.0L760.4 749.2L761.3 766.7L762.2 765.4L763.2 750.8L764.1 747.6L765.0 750.5L765.9 769.6L766.9 753.0L767.8 767.9L768.7 751.3L769.6 772.1L770.5 764.1L771.5 778.0L772.4 772.1L773.3 766.8L774.2 745.8L775.2 770.7L776.1 778.0L777.0 773.0L777.9 746.6L778.9 764.2L779.8 734.2L780.7 724.6L781.6 734.7L782.5 765.2L783.5 746.6L784.4 764.9L785.3 743.0L786.2 756.6L787.2 756.4L788.1 758.9L789.0 736.0L789.9 733.2L790.8 737.3L791.8 758.4L792.7 744.8L793.6 760.6L794.5 744.7L795.5 762.2L796.4 742.3L797.3 759.3L798.2 738.2L799.1 767.9L800.1 756.2L801.0 760.2L801.9 743.3L802.8 763.2L803.8 744.0L804.7 760.5L805.6 744.3L806.5 764.5L807.4 753.5L808.4 747.6L809.3 744.4L810.2 761.8L811.1 747.2L812.1 763.8L813.0 748.1L813.9 761.3L814.8 744.2L815.7 745.9L816.7 761.1L817.6 775.9L818.5 761.8L819.4 763.8L820.4 743.9L821.3 739.7L822.2 742.6L823.1 761.0L824.0 739.5L825.0 758.8L825.9 744.6L826.8 759.6L827.7 735.4L828.7 731.8L829.6 743.1L830.5 761.6L831.4 756.7L832.4 758.2L833.3 746.3L834.2 757.1L835.1 731.3L836.0 723.1L837.0 756.3L837.9 770.1L838.8 757.7L839.7 756.1L840.7 740.8L841.6 742.4L842.5 730.3L843.4 734.6L844.3 743.6L845.3 756.8L846.2 757.6L847.1 759.4L848.0 756.5L849.0 770.1L849.9 740.2L850.8 743.2L851.7 741.8L852.6 751.4L853.6 748.8L854.5 748.8L855.4 748.2L856.3 766.7L857.3 746.7L858.2 765.1L859.1 761.3L860.0 770.1L860.9 760.4L861.9 751.4L862.8 746.9L863.7 758.4L864.6 750.5L865.6 757.3L866.5 749.6L867.4 763.1L868.3 750.9L869.2 767.9L870.2 751.0L871.1 766.5L872.0 751.4L872.9 747.3L873.9 744.7L874.8 747.3L875.7 735.6L876.6 747.2L877.5 726.5L878.5 729.3L879.4 752.1L880.3 720.2L881.2 722.3L882.2 746.9L883.1 725.9L884.0 745.7L884.9 729.7L885.8 723.0L886.8 707.3L887.7 723.4L888.6 725.5L889.5 744.2L890.5 730.1L891.4 745.9L892.3 730.3L893.2 720.2L894.2 724.5L895.1 743.7L896.0 741.8L896.9 750.7L897.8 743.0L898.8 751.0L899.7 733.2L900.6 750.2L901.5 763.3L902.5 775.1L903.4 734.1L904.3 733.2L905.2 735.9L906.1 759.1L907.1 757.9L908.0 758.2L908.9 739.9L909.8 761.9L910.8 758.1L911.7 760.4L912.6 763.6L913.5 759.4L914.4 757.0L915.4 757.4L916.3 759.2L917.2 762.2L918.1 767.0L919.1 767.8L920.0 751.5L920.9 749.8L921.8 732.6L922.7 739.5L923.7 730.1L924.6 734.0L925.5 733.2L926.4 731.5L927.4 717.9L928.3 731.6L929.2 734.7L930.1 751.9L931.0 735.1L932.0 725.3L932.9 703.5L933.8 724.7L934.7 734.8L935.7 755.5L936.6 758.4L937.5 756.2L938.4 731.0L939.3 745.4L940.3 739.1L941.2 754.0L942.1 734.0L943.0 754.0L944.0 739.2L944.9 744.5L945.8 736.7L946.7 752.6L947.7 757.5L948.6 772.8L949.5 758.6L950.4 744.6L951.3 739.0L952.3 731.6L953.2 738.0L954.1 761.5L955.0 750.2L956.0 751.2L956.9 764.3L957.8 766.2L958.7 743.5L959.6 739.5L960.6 744.0L961.5 765.5L962.4 758.7L963.3 772.8L964.3 759.1L965.2 750.4L966.1 740.8L967.0 748.3L967.9 750.5L968.9 748.2L969.8 746.2L970.7 752.3L971.6 742.4L972.6 762.2L973.5 750.0L974.4 751.2L975.3 749.1L976.2 760.7L977.2 733.7L978.1 725.9L979.0 744.5L979.9 771.4L980.9 777.9L981.8 772.0L982.7 765.5L983.6 765.0L984.5 743.5L985.5 739.5L986.4 736.7L987.3 746.1L988.2 740.1L989.2 759.8L990.1 740.5L991.0 755.6L991.9 745.1L992.8 764.8L993.8 760.4L994.7 772.1L995.6 756.5L996.5 739.3L997.5 723.7L998.4 731.9L999.3 740.4L1000.2 759.5L1001.1 744.7L1002.1 748.3L1003.0 742.0L1003.9 746.8L1004.8 736.7L1005.8 761.2L1006.7 753.5L1007.6 764.2L1008.5 754.2L1009.5 760.2L1010.4 745.1L1011.3 753.7L1012.2 748.2L1013.1 754.1L1014.1 744.3L1015.0 763.3L1015.9 759.8L1016.8 771.4L1017.8 760.9L1018.7 763.5L1019.6 742.4L1020.5 739.5L1021.4 741.6L1022.4 765.7L1023.3 770.2L1024.2 787.9L1025.1 745.6L1026.1 749.6L1027.0 738.1L1027.9 748.9L1028.8 745.5L1029.7 765.5L1030.7 747.2L1031.6 764.5L1032.5 758.8L1033.4 771.4L1034.4 758.8L1035.3 766.1L1036.2 750.5L1037.1 739.5L1038.0 744.4L1039.0 762.3L1039.9 751.2L1040.8 759.0L1041.7 737.3L1042.7 732.3L1043.6 735.0L1044.5 727.9L1045.4 722.7L1046.3 716.4L1047.3 706.2L1048.2 693.2L1049.1 681.5L1050.0 672.9L1051.0 661.8L1051.9 653.7L1052.8 651.4L1053.7 658.0L1054.6 672.9L1055.6 693.7L1056.5 716.4L1057.4 724.6L1058.3 733.7L1059.3 741.3L1060.2 755.3L1061.1 758.4L1062.0 746.7L1063.0 749.2L1063.9 731.4L1064.8 727.3L1065.7 730.0L1066.6 749.4L1067.6 735.1L1068.5 752.7L1069.4 754.1L1070.3 755.7L1071.3 751.0L1072.2 756.6L1073.1 749.8L1074.0 749.2L1074.9 749.5L1075.9 748.2L1076.8 748.6L1077.7 768.9L1078.6 750.8L1079.6 765.7L1080.5 765.5L1081.4 777.1L1082.3 765.1L1083.2 768.8L1084.2 750.8L1085.1 748.2L1086.0 750.1L1086.9 752.6L1087.9 735.5L1088.8 725.9L1089.7 738.3L1090.6 769.4L1091.5 762.3L1092.5 772.1L1093.4 762.6L1094.3 769.8L1095.2 753.6L1096.2 756.6L1097.1 745.3L1098.0 744.9L1098.9 749.5L1099.8 747.7L1100.8 751.3L1101.7 750.4L1102.6 754.0L1103.5 757.6L1104.5 758.1L1105.4 761.7L1106.3 766.1L1107.2 769.2L1108.1 773.4L1109.1 774.3L1110.0 766.1L1110.9 770.6L1111.8 751.7L1112.8 751.1L1113.7 752.8L1114.6 769.2L1115.5 755.4L1116.4 769.2L1117.4 754.3L1118.3 773.6L1119.2 775.0L1120.1 770.8L1121.1 754.5L1122.0 753.2L1122.9 753.1L1123.8 769.7L1124.8 754.2L1125.7 772.0L1126.6 776.0L1127.5 775.1L1128.4 767.8L1129.4 778.6L1130.3 766.1L1131.2 772.5L1132.1 756.2L1133.1 768.1L1134.0 751.0L1134.9 757.0L1135.8 745.3L1136.7 771.7L1137.7 765.6L1138.6 777.9L1139.5 766.4L1140.4 768.4L1141.4 768.0L1142.3 752.6L1143.2 751.3L1144.1 759.5L1145.0 748.3L1146.0 746.7L1146.9 748.0L1147.8 761.3L1148.7 747.0L1149.7 762.8L1150.6 764.2L1151.5 735.2L1152.4 740.6L1153.3 762.1L1154.3 761.5L1155.2 757.9L1156.1 741.9L1157.0 760.7L1158.0 748.3L1158.9 747.4L1159.8 741.3L1160.7 738.8L1161.6 698.4L1162.6 695.2L1163.5 687.9L1164.4 681.2L1165.3 674.7L1166.3 669.6L1167.2 658.0L1168.1 647.2L1169.0 636.5L1169.9 626.4L1170.9 602.7L1171.8 587.5L1172.7 564.2L1173.6 561.5L1174.6 566.2L1175.5 577.4L1176.4 576.5L1177.3 573.4L1178.3 570.2L1179.2 565.6L1180.1 564.4L1181.0 580.3L1181.9 592.3L1182.9 606.7L1183.8 626.4L1184.7 638.3L1185.6 657.6L1186.6 669.6L1187.5 688.0L1188.4 701.3L1189.3 707.8L1190.2 714.5L1191.2 720.6L1192.1 727.2L1193.0 731.3L1193.9 734.5L1194.9 738.4L1195.8 742.5L1196.7 744.5L1197.6 782.0L1198.5 736.7L1199.5 749.5L1200.4 744.4L1201.3 766.8L1202.2 761.8L1203.2 770.5L1204.1 763.1L1205.0 743.3L1205.9 733.5L1206.8 727.2L1207.8 723.9L1208.7 716.2L1209.6 714.9L1210.5 717.6L1211.5 736.4L1212.4 749.8L1213.3 756.0L1214.2 776.3L1215.1 773.8L1216.1 771.3L1217.0 756.7L1217.9 771.4L1218.8 755.8L1219.8 757.4L1220.7 766.0L1221.6 771.9L1222.5 773.4L1223.4 765.8L1224.4 759.5L1225.3 762.3L1226.2 754.5L1227.1 760.7L1228.1 768.3L1229.0 769.4L1229.9 763.0L1230.8 767.6L1231.7 759.6L1232.7 727.0L1233.6 723.3L1234.5 716.1L1235.4 713.0L1236.4 685.4L1237.3 665.8L1238.2 655.0L1239.1 579.3L1240.1 530.0L1241.0 481.7L1241.9 435.0L1242.8 388.8L1243.7 330.0L1244.7 315.1L1245.6 285.0L1246.5 259.4L1247.4 211.6L1248.4 152.3L1249.3 178.2L1250.2 214.4L1251.1 250.3L1252.0 285.0L1253.0 299.5L1253.9 313.8L1254.8 330.0L1255.7 378.9L1256.7 440.1L1257.6 530.0L1258.5 550.5L1259.4 588.7L1260.3 627.3L1261.3 655.0L1262.2 734.5L1263.1 735.8L1264.0 738.5L1265.0 741.7L1265.9 744.3L1266.8 747.4L1267.7 750.3L1268.6 753.3L1269.6 756.6L1270.5 760.2L1271.4 763.2L1272.3 767.2L1273.3 769.2L1274.2 771.7L1275.1 773.4L1276.0 759.4L1276.9 758.8L1277.9 757.4L1278.8 769.9L1279.7 760.7L1280.6 757.8L1281.6 761.3L1282.5 761.9L1283.4 761.0L1284.3 769.3L1285.2 757.4L1286.2 762.8L1287.1 756.0L1288.0 761.7L1288.9 759.0L1289.9 772.2L1290.8 748.2L1291.7 765.7L1292.6 790.7L1293.6 781.2L1294.5 741.1L1295.4 727.2L1296.3 724.2L1297.2 721.9L1298.2 721.4L1299.1 715.8L1300.0 710.4L1300.9 715.7L1301.9 708.7L1302.8 708.4L1303.7 715.4L1304.6 716.5L1305.5 717.2L1306.5 716.4L1307.4 702.3L1308.3 695.5L1309.2 699.7L1310.2 711.3L1311.1 708.7L1312.0 717.2L1312.9 715.7L1313.8 732.2L1314.8 747.5L1315.7 725.2L1316.6 715.0L1317.5 696.8L1318.5 681.8L1319.4 700.1L1320.3 702.7L1321.2 702.8L1322.1 695.9L1323.1 694.0L1324.0 698.8L1324.9 720.9L1325.8 704.6L1326.8 726.3L1327.7 731.6L1328.6 725.7L1329.5 702.0L1330.4 721.4L1331.4 698.3L1332.3 724.4L1333.2 727.5L1334.1 692.6L1335.1 769.1L1336.0 755.3L1336.9 719.9L1337.8 739.2L1338.7 726.4L1339.7 738.0L1340.6 730.0L1341.5 747.4L1342.4 745.3L1343.4 753.2L1344.3 742.3L1345.2 754.6L1346.1 751.6L1347.0 756.4L1348.0 748.6L1348.9 764.7L1349.8 763.9L1350.7 777.7L1351.7 762.9L1352.6 764.3L1353.5 749.4L1354.4 749.4L1355.4 743.8L1356.3 741.6L1357.2 752.6L1358.1 768.1L1359.0 736.8L1360.0 753.3L1360.9 730.3L1361.8 722.8L1362.7 730.8L1363.7 738.5L1364.6 740.7L1365.5 754.4L1366.4 737.8L1367.3 755.7L1368.3 738.2L1369.2 755.5L1370.1 718.7L1371.0 701.2L1372.0 702.5L1372.9 713.8L1373.8 720.1L1374.7 727.2L1375.6 732.6L1376.6 741.3L1377.5 747.2L1378.4 754.4L1379.3 767.3L1380.3 772.0L1381.2 753.8L1382.1 749.4L1383.0 730.9L1383.9 733.8L1384.9 721.4L1385.8 736.9L1386.7 740.1L1387.6 753.2L1388.6 743.0L1389.5 746.0L1390.4 736.6L1391.3 744.4L1392.2 741.6L1393.2 741.9L1394.1 748.5L1395.0 761.9L1395.9 743.2L1396.9 735.5L1397.8 730.0L1398.7 746.6L1399.6 740.4L1400.5 746.0L1401.5 740.7L1402.4 747.8L1403.3 731.7L1404.2 730.0L1405.2 738.6L1406.1 748.9L1407.0 741.8L1407.9 750.4L1408.9 744.9L1409.8 754.2L1410.7 736.6L1411.6 740.6L1412.5 727.1L1413.5 744.5L1414.4 751.8L1415.3 766.9L1416.2 782.0L1417.2 728.9L1418.1 773.0L1419.0 792.4L1419.9 774.3L1420.8 772.7L1421.8 771.0L1422.7 772.8L1423.6 780.6L1424.5 796.7L1425.5 787.7L1426.4 776.6L1427.3 760.1L1428.2 759.1L1429.1 762.6L1430.1 766.0L1431.0 777.3L1431.9 788.1L1432.8 772.6L1433.8 763.5L1434.7 763.3L1435.6 786.5L1436.5 788.8L1437.4 785.4L1438.4 763.3L1439.3 783.7L1440.2 774.0L1441.1 773.2L1442.1 755.3L1443.0 774.2L1443.9 747.4L1444.8 739.0L1445.7 744.3L1446.7 769.1L1447.6 772.1L1448.5 755.0L1449.4 753.0L1450.4 770.0L1451.3 744.8L1452.2 739.0L1453.1 743.8L1454.0 771.1L1455.0 753.3L1455.9 767.9L1456.8 748.9L1457.7 777.0L1458.7 783.1L1459.6 780.3L1460.5 757.7L1461.4 776.1L1462.3 754.3L1463.3 750.5L1464.2 754.1L1465.1 759.3L1466.0 755.4L1467.0 769.0L1467.9 780.9L1468.8 771.3L1469.7 759.4L1470.7 756.2L1471.6 771.1L1472.5 760.6L1473.4 753.4L1474.3 772.2L1475.3 760.5L1476.2 763.6L1477.1 761.5L1478.0 771.5L1479.0 749.7L1479.9 744.7L1480.8 749.4L1481.7 769.8L1482.6 772.4L1483.6 768.4L1484.5 775.9L1485.4 773.7L1486.3 755.0L1487.3 761.7L1488.2 753.4L1489.1 762.1L1490.0 757.1L1490.9 774.2L1491.9 768.3L1492.8 778.0L1493.7 769.4L1494.6 775.2L1495.6 755.3L1496.5 766.3L1497.4 761.3L1498.3 767.3L1499.2 763.5L1500.2 775.6L1501.1 776.2L1502.0 778.2L1502.9 766.1L1503.9 777.0L1504.8 773.3L1505.7 781.6L1506.6 773.5L1507.5 763.4L1508.5 766.0L1509.4 776.6L1510.3 763.3L1511.2 779.5L1512.2 765.8L1513.1 770.5L1514.0 764.9L1514.9 776.9L1515.8 779.2L1516.8 792.4L1517.7 786.9L1518.6 778.3L1519.5 756.5L1520.5 755.5L1521.4 757.9L1522.3 775.4L1523.2 757.5L1524.2 776.2L1525.1 760.9L1526.0 780.1L1526.9 781.6L1527.8 780.6L1528.8 776.9L1529.7 773.0L1530.6 773.1L1531.5 770.5L1532.5 766.4L1533.4 761.2L1534.3 755.8L1535.2 750.6L1536.1 744.6L1537.1 742.0L1538.0 734.8L1538.9 731.8L1539.8 737.1L1540.8 760.6L1541.7 746.2L1542.6 761.5L1543.5 742.0L1544.4 761.0L1545.4 742.1L1546.3 763.3L1547.2 739.1L1548.1 733.9L1549.1 745.6L1550.0 759.6L1550.9 744.9L1551.8 760.0L1552.7 759.2L1553.7 770.8L1554.6 758.6L1555.5 773.5L1556.4 758.4L1557.4 762.7L1558.3 753.4L1559.2 762.9L1560.1 755.2L1561.0 757.0L1562.0 772.4L1562.9 783.8L1563.8 772.9L1564.7 775.8L1565.7 778.7L1566.6 791.7L1567.5 776.9L1568.4 774.5L1569.3 761.2L1570.3 748.3L1571.2 752.8L1572.1 775.5L1573.0 761.2L1574.0 774.5L1574.9 771.9L1575.8 783.8L1576.7 775.8L1577.6 785.8L1578.6 765.2L1579.5 781.2L1580.4 768.1L1581.3 770.8L1582.3 761.3L1583.2 771.9L1584.1 765.7L1585.0 764.8L1586.0 767.2L1586.9 781.1L1587.8 778.6L1588.7 787.4L1589.6 778.1L1590.6 779.9L1591.5 767.1L1592.4 777.4L1593.3 775.0L1594.3 777.3L1595.2 768.0L1596.1 785.5L1597.0 786.7L1597.9 784.5L1598.9 762.6L1599.8 780.6L1600.7 778.3L1601.6 781.8L1602.6 759.6L1603.5 757.7L1604.4 760.5L1605.3 778.5L1606.2 776.9L1607.2 788.1L1608.1 776.8L1609.0 779.3L1609.9 764.9L1610.9 778.8L1611.8 757.1L1612.7 751.2L1613.6 755.0L1614.5 774.0L1615.5 763.2L1616.4 772.4L1617.3 767.9L1618.2 772.9L1619.2 757.8L1620.1 766.4L1621.0 752.4L1621.9 764.9L1622.8 752.7L1623.8 762.9L1624.7 746.9L1625.6 772.1L1626.5 780.2L1627.5 748.3L1628.4 744.4L1629.3 741.1L1630.2 747.2L1631.1 752.3L1632.1 752.1L1633.0 751.2L1633.9 742.9L1634.8 744.7L1635.8 743.5L1636.7 752.1L1637.6 753.5L1638.5 752.7L1639.5 744.3L1640.4 750.2L1641.3 735.8L1642.2 728.9L1643.1 736.5L1644.1 751.3L1645.0 746.2L1645.9 752.7L1646.8 746.3L1647.8 764.1L1648.7 766.5L1649.6 764.0L1650.5 748.2L1651.4 749.5L1652.4 750.6L1653.3 763.6L1654.2 750.0L1655.1 744.7L1656.1 751.7L1657.0 776.6L1657.9 759.4L1658.8 786.9L1659.7 783.8L1660.7 788.1L1661.6 783.5L1662.5 786.2L1663.4 777.1L1664.4 783.7L1665.3 780.7L1666.2 782.5L1667.1 778.1L1668.0 789.4L1669.0 792.4L1669.9 790.0L1670.8 778.3L1671.7 786.6L1672.7 776.1L1673.6 775.0L1674.5 775.3L1675.4 776.0L1676.3 778.8L1677.3 780.9L1678.2 778.4L1679.1 784.3L1680.0 773.7L1681.0 772.1L1681.9 772.7L1682.8 775.1L1683.7 776.3L1684.6 785.8L1685.6 788.1L1686.5 783.6L1687.4 759.8L1688.3 746.9L1689.3 759.9L1690.2 774.8L1691.1 779.8L1692.0 785.2L1692.9 764.4L1693.9 777.7L1694.8 775.0L1695.7 784.2L1696.6 781.0L1697.6 792.4L1698.5 780.5L1699.4 778.9L1700.3 766.4L1701.3 779.7L1702.2 765.7L1703.1 768.9L1704.0 757.7L1704.9 761.1L1705.9 774.3L1706.8 756.8L1707.7 738.7L1708.6 719.6L1709.6 707.1L1710.5 693.9L1711.4 676.4L1712.3 669.2L1713.2 660.4L1714.2 652.6L1715.1 647.6L1716.0 631.9L1716.9 626.0L1717.9 607.2L1718.8 611.1L1719.7 621.0L1720.6 626.0L1721.5 634.6L1722.5 643.6L1723.4 647.6L1724.3 665.6L1725.2 673.5L1726.2 682.1L1727.1 687.4L1728.0 693.7L1728.9 696.2L1729.8 700.4L1730.8 705.2L1731.7 718.1L1732.6 734.0L1733.5 744.1L1734.5 755.6L1735.4 767.4L1736.3 770.1L1737.2 768.4L1738.1 773.9L1739.1 766.4L1740.0 765.6L1740.9 766.7L1741.8 772.7L1742.8 776.2L1743.7 783.8L1744.6 767.5L1745.5 770.8L1746.4 765.6L1747.4 771.9L1748.3 770.3L1749.2 772.4L1750.1 774.4L1751.1 767.0L1752.0 767.1L1752.9 771.2L1753.8 759.4L1754.8 759.0L1755.7 761.4L1756.6 783.1L1757.5 749.8L1758.4 771.4L1759.4 758.2L1760.3 760.0L1761.2 756.2L1762.1 758.3L1763.1 742.6L1764.0 756.8L1764.9 755.0L1765.8 775.4L1766.7 759.8L1767.7 781.3L1768.6 786.7L1769.5 781.3L1770.4 757.4L1771.4 774.2L1772.3 765.9L1773.2 767.1L1774.1 767.1L1775.0 783.1L1776.0 765.7L1776.9 781.5L1777.8 777.9L1778.7 786.7L1779.7 778.9L1780.6 784.4L1781.5 765.3L1782.4 764.2L1783.3 784.1L1784.3 770.6L1785.2 759.9L1786.1 781.1L1787.0 772.1L1788.0 778.8L1788.9 784.2L1789.8 771.0L1790.7 762.7L1791.6 770.6L1792.6 762.9L1793.5 776.4L1794.4 763.7L1795.3 782.3L1796.3 788.8L1797.2 783.6L1798.1 754.2L1799.0 761.3L1799.9 752.7L1800.9 760.5L1801.8 756.3L1802.7 768.7L1803.6 743.6L1804.6 767.5L1805.5 774.4L1806.4 767.4L1807.3 741.7L1808.2 761.1L1809.2 734.6L1810.1 723.1L1811.0 745.1L1811.9 759.6L1812.9 738.4L1813.8 755.6L1814.7 736.3L1815.6 728.2L1816.6 734.6L1817.5 761.4L1818.4 740.9L1819.3 744.0L1820.2 762.3L1821.2 765.3L1822.1 768.7L1823.0 767.1L1823.9 754.1L1824.9 765.0L1825.8 764.2L1826.7 764.5L1827.6 766.6L1828.5 777.3L1829.5 772.2L1830.4 765.1L1831.3 759.6L1832.2 758.4L1833.2 759.7L1834.1 759.8L1835.0 767.2L1835.9 745.0L1836.8 727.5L1837.8 742.4L1838.7 746.3L1839.6 765.1L1840.5 750.4L1841.5 752.8L1842.4 750.6L1843.3 770.2L1844.2 748.2L1845.1 764.1L1846.1 740.8L1847.0 736.8L1847.9 748.0L1848.8 765.5L1849.8 748.7L1850.7 772.5L1851.6 751.3L1852.5 749.8L1853.4 752.7L1854.4 773.6L1855.3 774.4L1856.2 773.6L1857.1 756.1L1858.1 771.2L1859.0 771.3L1859.9 779.6L1860.8 760.9L1861.7 774.2L1862.7 768.5L1863.6 772.6L1864.5 764.8L1865.4 778.4L1866.4 760.6L1867.3 782.5L1868.2 764.9L1869.1 786.3L1870.1 791.7L1871.0 767.0L1871.9 757.0L1872.8 767.3L1873.7 761.0L1874.7 780.8L1875.6 760.7L1876.5 774.4L1877.4 786.0L1878.4 782.5L1879.3 772.3L1880.2 763.9L1881.1 758.3L1882.0 748.4L1883.0 741.0L1883.9 728.7L1884.8 725.3L1885.7 721.7L1886.7 716.2L1887.6 724.0L1888.5 721.4L1889.4 719.3L1890.3 696.6L1891.3 689.3L1892.2 701.1L1893.1 721.6L1894.0 714.2L1895.0 709.6L1895.9 714.0L1896.8 729.1L1897.7 737.7L1898.6 757.1L1899.6 739.2L1900.5 737.0L1901.4 719.7L1902.3 739.9L1903.3 744.0L1904.2 736.3L1905.1 743.4L1906.0 764.3L1906.9 764.8L1907.9 765.5L1908.8 768.3L1909.7 766.6L1910.6 767.0L1911.6 770.0L1912.5 772.9L1913.4 778.2L1914.3 784.4L1915.2 785.0L1916.2 788.0L1917.1 789.4L1918.0 787.6L1918.9 791.4L1919.9 793.7L1920.8 793.2L1921.7 779.4L1922.6 773.9L1923.5 760.1L1924.5 780.7L1925.4 760.8L1926.3 757.0L1927.2 762.8L1928.2 770.7L1929.1 769.3L1930.0 768.8L1930.9 768.7L1931.9 785.7L1932.8 775.1L1933.7 777.3L1934.6 773.9L1935.5 782.6L1936.5 768.9L1937.4 769.9L1938.3 770.6L1939.2 782.0L1940.2 769.1L1941.1 783.3L1942.0 779.8L1942.9 787.4L1943.8 780.3L1944.8 773.6L1945.7 774.3L1946.6 774.2L1947.5 767.1L1948.5 775.6L1949.4 774.2L1950.3 789.2L1951.2 772.9L1952.1 787.7L1953.1 775.4L1954.0 788.0L1954.9 785.5L1955.8 792.4L1956.8 774.5L1957.7 772.8L1958.6 774.8L1959.5 788.9L1960.4 774.4L1961.4 787.8L1962.3 775.5L1963.2 789.5L1964.1 791.7L1965.1 789.5L1966.0 786.6L1966.9 777.8L1967.8 775.8L1968.7 774.0L1969.7 780.0L1970.6 783.3L1971.5 780.4L1972.4 786.0L1973.4 773.7L1974.3 775.6L1975.2 764.5L1976.1 752.7L1977.0 757.0L1978.0 759.7L1978.9 757.9L1979.8 776.9L1980.7 760.0L1981.7 783.1L1982.6 786.0L1983.5 774.3L1984.4 747.5L1985.4 739.7L1986.3 745.8L1987.2 771.9L1988.1 762.3L1989.0 772.8L1990.0 764.1L1990.9 767.3L1991.8 752.2L1992.7 749.4L1993.7 741.1L1994.6 731.6L1995.5 733.8L1996.4 740.5L1997.3 746.1L1998.3 754.0L1999.2 758.2L2000.1 763.0L2001.0 770.4L2002.0 777.7L2002.9 781.5L2003.8 775.2L2004.7 749.9L2005.6 764.5L2006.6 749.9L2007.5 759.7L2008.4 750.4L2009.3 764.6L2010.3 768.7L2011.2 775.0L2012.1 768.2L2013.0 772.5L2013.9 747.2L2014.9 737.4L2015.8 748.3L2016.7 773.8L2017.6 770.8L2018.6 771.4L2019.5 765.7L2020.4 772.3L2021.3 759.3L2022.2 770.7L2023.2 760.9L2024.1 776.2L2025.0 757.9L2025.9 756.8L2026.9 757.8L2027.8 776.8L2028.7 758.3L2029.6 778.0L2030.5 780.0L2031.5 778.0L2032.4 758.3L2033.3 777.8L2034.2 759.0L2035.2 756.8L2036.1 776.9L2037.0 789.4L2037.9 775.7L2038.8 777.8L2039.8 758.4L2040.7 765.5L2041.6 762.3L2042.5 775.5L2043.5 769.4L2044.4 778.6L2045.3 769.8L2046.2 774.2L2047.2 754.4L2048.1 775.5L2049.0 758.7L2049.9 760.3L2050.8 750.3L2051.8 760.6L2052.7 755.9L2053.6 772.7L2054.5 753.6L2055.5 771.5L2056.4 767.8L2057.3 777.1L2058.2 756.9L2059.1 745.3L2060.1 746.9L2061.0 749.4L2061.9 752.9L2062.8 758.8L2063.8 760.2L2064.7 761.6L2065.6 767.1L2066.5 768.4L2067.4 772.0L2068.4 775.3L2069.3 780.3L2070.2 784.5L2071.1 791.7L2072.1 793.0L2073.0 762.6L2073.9 767.5L2074.8 771.2L2075.7 783.3L2076.7 778.7L2077.6 791.5L2078.5 767.3L2079.4 756.1L2080.4 760.9L2081.3 780.5L2082.2 763.6L2083.1 782.6L2084.0 785.8L2085.0 782.8L2085.9 757.9L2086.8 774.0L2087.7 758.5L2088.7 772.1L2089.6 749.8L2090.5 746.0L2091.4 753.0L2092.3 772.5L2093.3 762.7L2094.2 771.9L2095.1 771.5L2096.0 757.9L2097.0 744.6L2097.9 756.6L2098.8 755.5L2099.7 778.4L2100.7 781.5L2101.6 777.3L2102.5 754.0L2103.4 772.8L2104.3 765.5L2105.3 777.3L2106.2 763.4L2107.1 761.1L2108.0 761.9L2109.0 779.3L2109.9 779.7L2110.8 792.3L2111.7 780.0L2112.6 778.5L2113.6 764.7L2114.5 765.7L2115.4 764.5L2116.3 765.4L2117.3 763.7L2118.2 762.6L2119.1 769.5L2120.0 775.9L2120.9 769.1L2121.9 775.7L2122.8 769.8L2123.7 759.7L2124.6 748.5L2125.6 739.5L2126.5 773.7L2127.4 778.0L2128.3 780.0L2129.2 775.5L2130.2 750.7L2131.1 756.8L2132.0 750.7L2132.9 771.1L2133.9 783.4L2134.8 793.0L2135.7 775.5L2136.6 768.7L2137.5 747.9L2138.5 742.4L2139.4 731.7L2140.3 722.1L2141.2 711.7L2142.2 700.7L2143.1 696.4L2144.0 689.9L2144.9 687.7L2145.8 714.1L2146.8 722.2L2147.7 739.7L2148.6 724.1L2149.5 725.3L2150.5 722.9L2151.4 738.0L2152.3 723.4L2153.2 718.2L2154.1 712.8L2155.1 704.9L2156.0 695.6L2156.9 699.0L2157.8 711.8L2158.8 714.8L2159.7 725.2L2160.6 731.9L2161.5 738.4L2162.5 746.5L2163.4 758.8L2164.3 763.5L2165.2 730.8L2166.1 691.3L2167.1 688.4L2168.0 686.0L2168.9 680.5L2169.8 709.3L2170.8 696.4L2171.7 699.4L2172.6 683.7L2173.5 676.2L2174.4 709.4L2175.4 722.4L2176.3 666.0L2177.2 647.4L2178.1 653.2L2179.1 671.1L2180.0 682.0L2180.9 690.7L2181.8 703.2L2182.7 714.8L2183.7 731.9L2184.6 736.8L2185.5 726.8L2186.4 735.1L2187.4 749.1L2188.3 748.4L2189.2 710.7L2190.1 767.1L2191.0 753.1L2192.0 749.8L2192.9 733.8L2193.8 724.7L2194.7 716.5L2195.7 731.3L2196.6 735.2L2197.5 772.5L2198.4 792.3L2199.3 774.5L2200.3 747.0L2201.2 761.5L2202.1 742.7L2203.0 761.2L2204.0 768.5L2204.9 766.9L2205.8 759.9L2206.7 765.6L2207.6 770.7L2208.6 783.8L2209.5 751.7L2210.4 738.8L2211.3 740.3L2212.3 745.7L2213.2 749.9L2214.1 751.6L2215.0 757.1L2216.0 759.8L2216.9 780.0L2217.8 785.8L2218.7 780.8L2219.6 773.7L2220.6 765.5L2221.5 781.5L2222.4 787.8L2223.3 790.8L2224.3 786.8L2225.2 784.1L2226.1 767.2L2227.0 770.4L2227.9 761.1L2228.9 787.5L2229.8 781.1L2230.7 790.1L2231.6 779.6L2232.6 781.8L2233.5 769.1L2234.4 770.2L2235.3 760.4L2236.2 786.2L2237.2 783.8L2238.1 796.6L2239.0 782.8L2239.9 786.9L2240.9 773.9L2241.8 771.8L2242.7 772.0L2243.6 769.8L2244.5 770.5L2245.5 790.0L2246.4 789.4L2247.3 793.0L2248.2 794.3L2249.2 784.3L2250.1 778.9L2251.0 779.5L2251.9 775.5L2252.8 784.4L2253.8 790.7L2254.7 795.9L2255.6 787.6L2256.5 785.4L2257.5 775.9L2258.4 775.5L2259.3 776.5L2260.2 785.3L2261.1 782.9L2262.1 787.2L2263.0 783.6L2263.9 780.0L2264.8 779.4L2265.8 787.2L2266.7 779.1L2267.6 771.9L2268.5 774.1L2269.4 789.1L2270.4 785.8L2271.3 791.5L2272.2 786.1L2273.1 788.6L2274.1 777.0L2275.0 787.4L2275.9 788.2L2276.8 780.9L2277.8 775.5L2278.7 781.2L2279.6 778.0L2280.5 788.5L2281.4 778.8L2282.4 788.5L2283.3 789.7L2284.2 792.8L2285.1 789.5L2286.1 792.3L2287.0 785.1L2287.9 790.4L2288.8 784.6L2289.7 783.4L2290.7 784.7L2291.6 794.3L2292.5 786.8L2293.4 796.4L2294.4 792.5L2295.3 797.4L2296.2 789.7L2297.1 791.8L2298.0 781.8L2299.0 790.4L2299.9 771.3L2300.8 769.6L2301.7 779.4L2302.7 790.7L2303.6 787.6L2304.5 797.4L2305.4 772.6L2306.3 768.5L2307.3 771.2L2308.2 793.0L2309.1 777.8L2310.0 780.7L2311.0 770.8L2311.9 779.6L2312.8 774.2L2313.7 791.2L2314.6 792.8L2315.6 790.6L2316.5 773.4L2317.4 788.2L2318.3 775.3L2319.3 773.7L2320.2 780.0L2321.1 787.8L2322.0 775.2L2322.9 790.2L2323.9 785.0L2324.8 792.8L2325.7 787.6L2326.6 791.1L2327.6 779.0L2328.5 777.7L2329.4 779.4L2330.3 791.7L2331.3 779.4L2332.2 791.7L2333.1 786.5L2334.0 791.7L2334.9 785.9L2335.9 791.2L2336.8 790.5L2337.7 788.4L2338.6 788.1L2339.6 790.7L2340.5 786.2L2341.4 792.8L2342.3 785.0L2343.2 789.8L2344.2 774.4L2345.1 771.9L2346.0 774.6L2346.9 786.8L2347.9 784.7L2348.8 791.7L2349.7 776.0L2350.6 774.2L2351.5 774.5L2352.5 778.9L2353.4 780.6L2354.3 781.3L2354.6 781.3L2354.6 894.4" fill="none" stroke="#000" stroke-width="5.80" stroke-linejoin="round" stroke-linecap="butt"/>
<path d="M51.8 1756.4V1784.9M51.8 894.4V924.0M167.1 1756.4V1768.5M167.1 894.4V909.8M282.5 1756.4V1784.9M282.5 894.4V924.0M397.8 1756.4V1768.5M397.8 894.4V909.8M513.2 1756.4V1784.9M513.2 894.4V924.0M628.5 1756.4V1768.5M628.5 894.4V909.8M743.8 1756.4V1784.9M743.8 894.4V924.0M859.2 1756.4V1768.5M859.2 894.4V909.8M974.5 1756.4V1784.9M974.5 894.4V924.0M1089.9 1756.4V1768.5M1089.9 894.4V909.8M1205.2 1756.4V1784.9M1205.2 894.4V924.0M1320.5 1756.4V1768.5M1320.5 894.4V909.8M1435.9 1756.4V1784.9M1435.9 894.4V924.0M1551.2 1756.4V1768.5M1551.2 894.4V909.8M1666.6 1756.4V1784.9M1666.6 894.4V924.0M1781.9 1756.4V1768.5M1781.9 894.4V909.8M1897.2 1756.4V1784.9M1897.2 894.4V924.0M2012.6 1756.4V1768.5M2012.6 894.4V909.8M2127.9 1756.4V1784.9M2127.9 894.4V924.0M2243.3 1756.4V1768.5M2243.3 894.4V909.8M2358.6 1756.4V1784.9M2358.6 894.4V924.0" stroke="#000" stroke-width="5.80" fill="none"/>
<path d="M51.8 35.2H2358.6V1756.4H51.8Z M51.8 894.4H2358.6" fill="none" stroke="#000" stroke-width="5.80" stroke-linejoin="miter"/>
<rect x="52.2" y="34.6" width="366.9" height="113.1" fill="#fff" stroke="#000" stroke-width="2.8"/>
<rect x="52.2" y="897.2" width="407.6" height="107.2" fill="#fff" stroke="#000" stroke-width="2.8"/>
<text x="63" y="118" font-size="83">A1-indoor</text>
<text x="63" y="974.5" font-size="83">A1-outdoor</text>
<text transform="translate(51.8 1862.8) scale(0.940 1)" font-size="69.5" text-anchor="middle">5</text>
<text transform="translate(282.5 1862.8) scale(0.940 1)" font-size="69.5" text-anchor="middle">10</text>
<text transform="translate(513.2 1862.8) scale(0.940 1)" font-size="69.5" text-anchor="middle">15</text>
<text transform="translate(743.8 1862.8) scale(0.940 1)" font-size="69.5" text-anchor="middle">20</text>
<text transform="translate(974.5 1862.8) scale(0.940 1)" font-size="69.5" text-anchor="middle">25</text>
<text transform="translate(1205.2 1862.8) scale(0.940 1)" font-size="69.5" text-anchor="middle">30</text>
<text transform="translate(1435.9 1862.8) scale(0.940 1)" font-size="69.5" text-anchor="middle">35</text>
<text transform="translate(1666.6 1862.8) scale(0.940 1)" font-size="69.5" text-anchor="middle">40</text>
<text transform="translate(1897.2 1862.8) scale(0.940 1)" font-size="69.5" text-anchor="middle">45</text>
<text transform="translate(2127.9 1862.8) scale(0.940 1)" font-size="69.5" text-anchor="middle">50</text>
<text transform="translate(2358.6 1862.8) scale(0.940 1)" font-size="69.5" text-anchor="middle">55</text>
<clipPath id="c"><rect x="1000" y="1880" width="500" height="84.5"/></clipPath>
<g clip-path="url(#c)"><text x="1205" y="1953" font-size="84.5" text-anchor="middle">2θ (°)</text></g>
<text transform="translate(255.4 687.1) scale(1.000 1)" font-size="80.0" text-anchor="middle">4</text>
<text transform="translate(1051.3 614.3) scale(0.880 1)" font-size="68.0" text-anchor="middle">1</text>
<text transform="translate(1169.2 532.5) scale(0.880 1)" font-size="68.0" text-anchor="middle">1</text>
<text transform="translate(1333.2 156.0) scale(0.950 1)" font-size="69.0" text-anchor="middle">1+6</text>
<text transform="translate(1338.6 654.9) scale(0.960 1)" font-size="68.0" text-anchor="middle">2+3</text>
<text transform="translate(1709.8 559.5) scale(1.000 1)" font-size="68.0" text-anchor="middle">2</text>
<text transform="translate(1901.3 652.0) scale(1.000 1)" font-size="68.0" text-anchor="middle">5</text>
<text transform="translate(2015.7 706.7) scale(1.000 1)" font-size="68.0" text-anchor="middle">7</text>
<text transform="translate(2173.8 617.0) scale(0.880 1)" font-size="68.0" text-anchor="middle">1</text>
<text transform="translate(1045.0 1483.9) scale(0.880 1)" font-size="68.0" text-anchor="middle">1</text>
<text transform="translate(1171.8 1288.6) scale(0.880 1)" font-size="68.0" text-anchor="middle">1</text>
<text transform="translate(1343.6 1013.1) scale(0.950 1)" font-size="68.0" text-anchor="middle">1+6</text>
<text transform="translate(1354.0 1505.7) scale(0.960 1)" font-size="68.0" text-anchor="middle">2+3</text>
<text transform="translate(1722.1 1385.8) scale(1.000 1)" font-size="68.0" text-anchor="middle">2</text>
<text transform="translate(1901.3 1511.1) scale(1.000 1)" font-size="68.0" text-anchor="middle">5</text>
<text transform="translate(2015.7 1537.7) scale(1.000 1)" font-size="68.0" text-anchor="middle">7</text>
<text transform="translate(2173.8 1476.1) scale(0.880 1)" font-size="68.0" text-anchor="middle">1</text>
</svg></body></html>
